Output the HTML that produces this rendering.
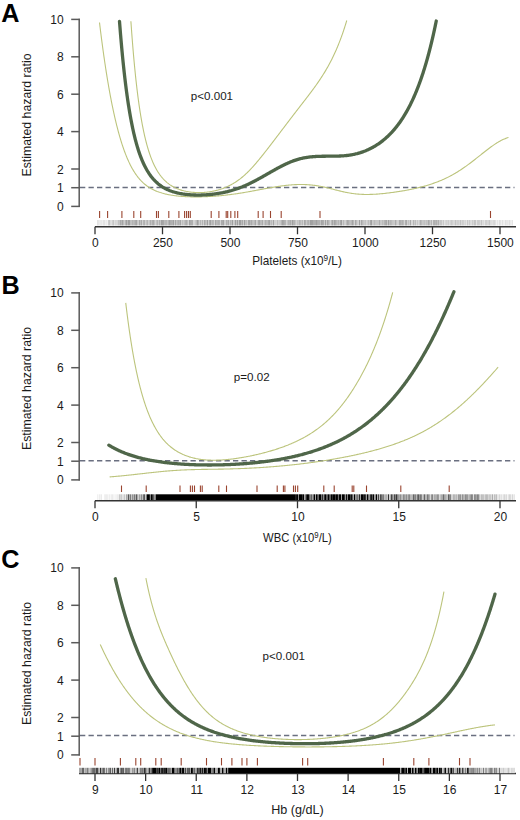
<!DOCTYPE html>
<html><head><meta charset="utf-8"><style>
html,body{margin:0;padding:0;background:#fff;width:520px;height:820px;overflow:hidden}
svg{display:block}
text{font-family:"Liberation Sans",sans-serif;fill:#1a1a1a}
.lt{font-size:25.2px;font-weight:bold;fill:#000}
.tk{font-size:12px}
.yl{font-size:12.3px}
.xl{font-size:12px}
.pt{font-size:11.6px}
.ax{stroke:#333;stroke-width:1.3;fill:none}
.ay{stroke:#5a5a5a;stroke-width:1.5;fill:none}
.rd{stroke:#9a4530;stroke-width:1.1}
.ds{stroke:#6a6f80;stroke-width:1.5;stroke-dasharray:5.3 3.2}
.cu{stroke:#bcc47c;stroke-width:1.1;fill:none}
.ck{stroke:#4f6649;stroke-width:3.3;fill:none;stroke-linecap:round}
</style></head><body>
<svg width="520" height="820" viewBox="0 0 520 820" xmlns="http://www.w3.org/2000/svg">
<text x="0.00" y="21.60" class="lt" transform="translate(1.30,0) scale(1.000,1)">A</text>
<line x1="79.2" y1="18.70" x2="79.2" y2="207.10" class="ay"/>
<line x1="71.2" y1="206.40" x2="79.9" y2="206.40" class="ay"/>
<text x="63.6" y="210.90" class="tk" text-anchor="end">0</text>
<line x1="71.2" y1="187.70" x2="79.9" y2="187.70" class="ay"/>
<text x="63.6" y="192.20" class="tk" text-anchor="end">1</text>
<line x1="71.2" y1="169.00" x2="79.9" y2="169.00" class="ay"/>
<text x="63.6" y="173.50" class="tk" text-anchor="end">2</text>
<line x1="71.2" y1="131.60" x2="79.9" y2="131.60" class="ay"/>
<text x="63.6" y="136.10" class="tk" text-anchor="end">4</text>
<line x1="71.2" y1="94.20" x2="79.9" y2="94.20" class="ay"/>
<text x="63.6" y="98.70" class="tk" text-anchor="end">6</text>
<line x1="71.2" y1="56.80" x2="79.9" y2="56.80" class="ay"/>
<text x="63.6" y="61.30" class="tk" text-anchor="end">8</text>
<line x1="71.2" y1="19.40" x2="79.9" y2="19.40" class="ay"/>
<text x="63.6" y="23.90" class="tk" text-anchor="end">10</text>
<text transform="translate(31,115.00) rotate(-90)" class="yl" text-anchor="middle">Estimated hazard ratio</text>
<line x1="95.00" y1="226.75" x2="516.00" y2="226.75" class="ax"/>
<line x1="95.00" y1="226.75" x2="95.00" y2="234.25" class="ax"/>
<text x="95.40" y="246.95" class="tk" text-anchor="middle">0</text>
<line x1="162.50" y1="226.75" x2="162.50" y2="234.25" class="ax"/>
<text x="162.90" y="246.95" class="tk" text-anchor="middle">250</text>
<line x1="230.00" y1="226.75" x2="230.00" y2="234.25" class="ax"/>
<text x="230.40" y="246.95" class="tk" text-anchor="middle">500</text>
<line x1="297.50" y1="226.75" x2="297.50" y2="234.25" class="ax"/>
<text x="297.90" y="246.95" class="tk" text-anchor="middle">750</text>
<line x1="365.00" y1="226.75" x2="365.00" y2="234.25" class="ax"/>
<text x="365.40" y="246.95" class="tk" text-anchor="middle">1000</text>
<line x1="432.50" y1="226.75" x2="432.50" y2="234.25" class="ax"/>
<text x="432.90" y="246.95" class="tk" text-anchor="middle">1250</text>
<line x1="500.00" y1="226.75" x2="500.00" y2="234.25" class="ax"/>
<text x="500.40" y="246.95" class="tk" text-anchor="middle">1500</text>
<text x="0" y="265.00" class="xl" text-anchor="middle" transform="translate(297.00,0) scale(0.983,1)">Platelets (x10<tspan dy="-3.8" font-size="8.3">9</tspan><tspan dy="3.8">/L)</tspan></text>
<text x="190.80" y="99.70" class="pt">p<0.001</text>
<rect x="97" y="220.00" width="1" height="5.50" fill="#e4e4e4"/>
<rect x="98" y="220.00" width="1" height="5.50" fill="#e7e7e7"/>
<rect x="99" y="220.00" width="1" height="5.50" fill="#ededed"/>
<rect x="100" y="220.00" width="1" height="5.50" fill="#eaeaea"/>
<rect x="101" y="220.00" width="1" height="5.50" fill="#e8e8e8"/>
<rect x="102" y="220.00" width="1" height="5.50" fill="#efefef"/>
<rect x="103" y="220.00" width="1" height="5.50" fill="#e3e3e3"/>
<rect x="104" y="220.00" width="1" height="5.50" fill="#e3e3e3"/>
<rect x="105" y="220.00" width="1" height="5.50" fill="#efefef"/>
<rect x="106" y="220.00" width="1" height="5.50" fill="#ebebeb"/>
<rect x="107" y="220.00" width="1" height="5.50" fill="#f1f1f1"/>
<rect x="108" y="220.00" width="1" height="5.50" fill="#cccccc"/>
<rect x="109" y="220.00" width="1" height="5.50" fill="#c6c6c6"/>
<rect x="110" y="220.00" width="1" height="5.50" fill="#dddddd"/>
<rect x="111" y="220.00" width="1" height="5.50" fill="#e1e1e1"/>
<rect x="112" y="220.00" width="1" height="5.50" fill="#d0d0d0"/>
<rect x="113" y="220.00" width="1" height="5.50" fill="#c6c6c6"/>
<rect x="114" y="220.00" width="1" height="5.50" fill="#e1e1e1"/>
<rect x="115" y="220.00" width="1" height="5.50" fill="#d6d6d6"/>
<rect x="116" y="220.00" width="1" height="5.50" fill="#d9d9d9"/>
<rect x="117" y="220.00" width="1" height="5.50" fill="#d6d6d6"/>
<rect x="118" y="220.00" width="1" height="5.50" fill="#c2c2c2"/>
<rect x="119" y="220.00" width="1" height="5.50" fill="#c5c5c5"/>
<rect x="120" y="220.00" width="1" height="5.50" fill="#aaaaaa"/>
<rect x="121" y="220.00" width="1" height="5.50" fill="#b8b8b8"/>
<rect x="122" y="220.00" width="1" height="5.50" fill="#a4a4a4"/>
<rect x="123" y="220.00" width="1" height="5.50" fill="#bdbdbd"/>
<rect x="124" y="220.00" width="1" height="5.50" fill="#cdcdcd"/>
<rect x="125" y="220.00" width="1" height="5.50" fill="#b6b6b6"/>
<rect x="126" y="220.00" width="1" height="5.50" fill="#a0a0a0"/>
<rect x="127" y="220.00" width="1" height="5.50" fill="#bbbbbb"/>
<rect x="128" y="220.00" width="1" height="5.50" fill="#a0a0a0"/>
<rect x="129" y="220.00" width="1" height="5.50" fill="#a2a2a2"/>
<rect x="130" y="220.00" width="1" height="5.50" fill="#c0c0c0"/>
<rect x="131" y="220.00" width="1" height="5.50" fill="#c2c2c2"/>
<rect x="132" y="220.00" width="1" height="5.50" fill="#b3b3b3"/>
<rect x="133" y="220.00" width="1" height="5.50" fill="#bcbcbc"/>
<rect x="134" y="220.00" width="1" height="5.50" fill="#b7b7b7"/>
<rect x="135" y="220.00" width="1" height="5.50" fill="#acacac"/>
<rect x="136" y="220.00" width="1" height="5.50" fill="#a6a6a6"/>
<rect x="137" y="220.00" width="1" height="5.50" fill="#c7c7c7"/>
<rect x="138" y="220.00" width="1" height="5.50" fill="#cfcfcf"/>
<rect x="139" y="220.00" width="1" height="5.50" fill="#aaaaaa"/>
<rect x="140" y="220.00" width="1" height="5.50" fill="#bfbfbf"/>
<rect x="141" y="220.00" width="1" height="5.50" fill="#a9a9a9"/>
<rect x="142" y="220.00" width="1" height="5.50" fill="#d1d1d1"/>
<rect x="143" y="220.00" width="1" height="5.50" fill="#b5b5b5"/>
<rect x="144" y="220.00" width="1" height="5.50" fill="#b1b1b1"/>
<rect x="145" y="220.00" width="1" height="5.50" fill="#cfcfcf"/>
<rect x="146" y="220.00" width="1" height="5.50" fill="#c1c1c1"/>
<rect x="147" y="220.00" width="1" height="5.50" fill="#b5b5b5"/>
<rect x="148" y="220.00" width="1" height="5.50" fill="#d0d0d0"/>
<rect x="149" y="220.00" width="1" height="5.50" fill="#c6c6c6"/>
<rect x="150" y="220.00" width="1" height="5.50" fill="#afafaf"/>
<rect x="151" y="220.00" width="1" height="5.50" fill="#c3c3c3"/>
<rect x="152" y="220.00" width="1" height="5.50" fill="#b0b0b0"/>
<rect x="153" y="220.00" width="1" height="5.50" fill="#acacac"/>
<rect x="154" y="220.00" width="1" height="5.50" fill="#c1c1c1"/>
<rect x="155" y="220.00" width="1" height="5.50" fill="#d4d4d4"/>
<rect x="156" y="220.00" width="1" height="5.50" fill="#c2c2c2"/>
<rect x="157" y="220.00" width="1" height="5.50" fill="#b4b4b4"/>
<rect x="158" y="220.00" width="1" height="5.50" fill="#cdcdcd"/>
<rect x="159" y="220.00" width="1" height="5.50" fill="#b1b1b1"/>
<rect x="160" y="220.00" width="1" height="5.50" fill="#c5c5c5"/>
<rect x="161" y="220.00" width="1" height="5.50" fill="#a1a1a1"/>
<rect x="162" y="220.00" width="1" height="5.50" fill="#a4a4a4"/>
<rect x="163" y="220.00" width="1" height="5.50" fill="#a8a8a8"/>
<rect x="164" y="220.00" width="1" height="5.50" fill="#bbbbbb"/>
<rect x="165" y="220.00" width="1" height="5.50" fill="#b6b6b6"/>
<rect x="166" y="220.00" width="1" height="5.50" fill="#b5b5b5"/>
<rect x="167" y="220.00" width="1" height="5.50" fill="#c5c5c5"/>
<rect x="168" y="220.00" width="1" height="5.50" fill="#b4b4b4"/>
<rect x="169" y="220.00" width="1" height="5.50" fill="#a1a1a1"/>
<rect x="170" y="220.00" width="1" height="5.50" fill="#adadad"/>
<rect x="171" y="220.00" width="1" height="5.50" fill="#b0b0b0"/>
<rect x="172" y="220.00" width="1" height="5.50" fill="#b2b2b2"/>
<rect x="173" y="220.00" width="1" height="5.50" fill="#a1a1a1"/>
<rect x="174" y="220.00" width="1" height="5.50" fill="#cacaca"/>
<rect x="175" y="220.00" width="1" height="5.50" fill="#a7a7a7"/>
<rect x="176" y="220.00" width="1" height="5.50" fill="#c4c4c4"/>
<rect x="177" y="220.00" width="1" height="5.50" fill="#b8b8b8"/>
<rect x="178" y="220.00" width="1" height="5.50" fill="#afafaf"/>
<rect x="179" y="220.00" width="1" height="5.50" fill="#b7b7b7"/>
<rect x="180" y="220.00" width="1" height="5.50" fill="#a6a6a6"/>
<rect x="181" y="220.00" width="1" height="5.50" fill="#d1d1d1"/>
<rect x="182" y="220.00" width="1" height="5.50" fill="#bebebe"/>
<rect x="183" y="220.00" width="1" height="5.50" fill="#cbcbcb"/>
<rect x="184" y="220.00" width="1" height="5.50" fill="#c0c0c0"/>
<rect x="185" y="220.00" width="1" height="5.50" fill="#b3b3b3"/>
<rect x="186" y="220.00" width="1" height="5.50" fill="#adadad"/>
<rect x="187" y="220.00" width="1" height="5.50" fill="#bebebe"/>
<rect x="188" y="220.00" width="1" height="5.50" fill="#d5d5d5"/>
<rect x="189" y="220.00" width="1" height="5.50" fill="#a2a2a2"/>
<rect x="190" y="220.00" width="1" height="5.50" fill="#acacac"/>
<rect x="191" y="220.00" width="1" height="5.50" fill="#aeaeae"/>
<rect x="192" y="220.00" width="1" height="5.50" fill="#aeaeae"/>
<rect x="193" y="220.00" width="1" height="5.50" fill="#d4d4d4"/>
<rect x="194" y="220.00" width="1" height="5.50" fill="#d4d4d4"/>
<rect x="195" y="220.00" width="1" height="5.50" fill="#c7c7c7"/>
<rect x="196" y="220.00" width="1" height="5.50" fill="#bbbbbb"/>
<rect x="197" y="220.00" width="1" height="5.50" fill="#a0a0a0"/>
<rect x="198" y="220.00" width="1" height="5.50" fill="#b3b3b3"/>
<rect x="199" y="220.00" width="1" height="5.50" fill="#cecece"/>
<rect x="200" y="220.00" width="1" height="5.50" fill="#b7b7b7"/>
<rect x="201" y="220.00" width="1" height="5.50" fill="#d0d0d0"/>
<rect x="202" y="220.00" width="1" height="5.50" fill="#b4b4b4"/>
<rect x="203" y="220.00" width="1" height="5.50" fill="#d2d2d2"/>
<rect x="204" y="220.00" width="1" height="5.50" fill="#ababab"/>
<rect x="205" y="220.00" width="1" height="5.50" fill="#bbbbbb"/>
<rect x="206" y="220.00" width="1" height="5.50" fill="#c4c4c4"/>
<rect x="207" y="220.00" width="1" height="5.50" fill="#a0a0a0"/>
<rect x="208" y="220.00" width="1" height="5.50" fill="#d2d2d2"/>
<rect x="209" y="220.00" width="1" height="5.50" fill="#b0b0b0"/>
<rect x="210" y="220.00" width="1" height="5.50" fill="#a2a2a2"/>
<rect x="211" y="220.00" width="1" height="5.50" fill="#c0c0c0"/>
<rect x="212" y="220.00" width="1" height="5.50" fill="#b5b5b5"/>
<rect x="213" y="220.00" width="1" height="5.50" fill="#b9b9b9"/>
<rect x="214" y="220.00" width="1" height="5.50" fill="#d4d4d4"/>
<rect x="215" y="220.00" width="1" height="5.50" fill="#a8a8a8"/>
<rect x="216" y="220.00" width="1" height="5.50" fill="#bababa"/>
<rect x="217" y="220.00" width="1" height="5.50" fill="#b7b7b7"/>
<rect x="218" y="220.00" width="1" height="5.50" fill="#b1b1b1"/>
<rect x="219" y="220.00" width="1" height="5.50" fill="#b4b4b4"/>
<rect x="220" y="220.00" width="1" height="5.50" fill="#d3d3d3"/>
<rect x="221" y="220.00" width="1" height="5.50" fill="#ababab"/>
<rect x="222" y="220.00" width="1" height="5.50" fill="#acacac"/>
<rect x="223" y="220.00" width="1" height="5.50" fill="#a4a4a4"/>
<rect x="224" y="220.00" width="1" height="5.50" fill="#cdcdcd"/>
<rect x="225" y="220.00" width="1" height="5.50" fill="#cfcfcf"/>
<rect x="226" y="220.00" width="1" height="5.50" fill="#afafaf"/>
<rect x="227" y="220.00" width="1" height="5.50" fill="#bbbbbb"/>
<rect x="228" y="220.00" width="1" height="5.50" fill="#a9a9a9"/>
<rect x="229" y="220.00" width="1" height="5.50" fill="#d0d0d0"/>
<rect x="230" y="220.00" width="1" height="5.50" fill="#b5b5b5"/>
<rect x="231" y="220.00" width="1" height="5.50" fill="#c2c2c2"/>
<rect x="232" y="220.00" width="1" height="5.50" fill="#9f9f9f"/>
<rect x="233" y="220.00" width="1" height="5.50" fill="#cecece"/>
<rect x="234" y="220.00" width="1" height="5.50" fill="#c7c7c7"/>
<rect x="235" y="220.00" width="1" height="5.50" fill="#a0a0a0"/>
<rect x="236" y="220.00" width="1" height="5.50" fill="#c2c2c2"/>
<rect x="237" y="220.00" width="1" height="5.50" fill="#9f9f9f"/>
<rect x="238" y="220.00" width="1" height="5.50" fill="#c9c9c9"/>
<rect x="239" y="220.00" width="1" height="5.50" fill="#9f9f9f"/>
<rect x="240" y="220.00" width="1" height="5.50" fill="#a0a0a0"/>
<rect x="241" y="220.00" width="1" height="5.50" fill="#bbbbbb"/>
<rect x="242" y="220.00" width="1" height="5.50" fill="#a9a9a9"/>
<rect x="243" y="220.00" width="1" height="5.50" fill="#cccccc"/>
<rect x="244" y="220.00" width="1" height="5.50" fill="#a0a0a0"/>
<rect x="245" y="220.00" width="1" height="5.50" fill="#c1c1c1"/>
<rect x="246" y="220.00" width="1" height="5.50" fill="#bdbdbd"/>
<rect x="247" y="220.00" width="1" height="5.50" fill="#d0d0d0"/>
<rect x="248" y="220.00" width="1" height="5.50" fill="#a8a8a8"/>
<rect x="249" y="220.00" width="1" height="5.50" fill="#a7a7a7"/>
<rect x="250" y="220.00" width="1" height="5.50" fill="#b9b9b9"/>
<rect x="251" y="220.00" width="1" height="5.50" fill="#ababab"/>
<rect x="252" y="220.00" width="1" height="5.50" fill="#bebebe"/>
<rect x="253" y="220.00" width="1" height="5.50" fill="#c3c3c3"/>
<rect x="254" y="220.00" width="1" height="5.50" fill="#bababa"/>
<rect x="255" y="220.00" width="1" height="5.50" fill="#a7a7a7"/>
<rect x="256" y="220.00" width="1" height="5.50" fill="#d2d2d2"/>
<rect x="257" y="220.00" width="1" height="5.50" fill="#c9c9c9"/>
<rect x="258" y="220.00" width="1" height="5.50" fill="#acacac"/>
<rect x="259" y="220.00" width="1" height="5.50" fill="#a7a7a7"/>
<rect x="260" y="220.00" width="1" height="5.50" fill="#bbbbbb"/>
<rect x="261" y="220.00" width="1" height="5.50" fill="#bcbcbc"/>
<rect x="262" y="220.00" width="1" height="5.50" fill="#aaaaaa"/>
<rect x="263" y="220.00" width="1" height="5.50" fill="#cecece"/>
<rect x="264" y="220.00" width="1" height="5.50" fill="#c4c4c4"/>
<rect x="265" y="220.00" width="1" height="5.50" fill="#b0b0b0"/>
<rect x="266" y="220.00" width="1" height="5.50" fill="#bbbbbb"/>
<rect x="267" y="220.00" width="1" height="5.50" fill="#bdbdbd"/>
<rect x="268" y="220.00" width="1" height="5.50" fill="#ababab"/>
<rect x="269" y="220.00" width="1" height="5.50" fill="#a4a4a4"/>
<rect x="270" y="220.00" width="1" height="5.50" fill="#c6c6c6"/>
<rect x="271" y="220.00" width="1" height="5.50" fill="#bababa"/>
<rect x="272" y="220.00" width="1" height="5.50" fill="#cdcdcd"/>
<rect x="273" y="220.00" width="1" height="5.50" fill="#a5a5a5"/>
<rect x="274" y="220.00" width="1" height="5.50" fill="#d1d1d1"/>
<rect x="275" y="220.00" width="1" height="5.50" fill="#d1d1d1"/>
<rect x="276" y="220.00" width="1" height="5.50" fill="#d5d5d5"/>
<rect x="277" y="220.00" width="1" height="5.50" fill="#bebebe"/>
<rect x="278" y="220.00" width="1" height="5.50" fill="#d2d2d2"/>
<rect x="279" y="220.00" width="1" height="5.50" fill="#cbcbcb"/>
<rect x="280" y="220.00" width="1" height="5.50" fill="#c8c8c8"/>
<rect x="281" y="220.00" width="1" height="5.50" fill="#b5b5b5"/>
<rect x="282" y="220.00" width="1" height="5.50" fill="#a3a3a3"/>
<rect x="283" y="220.00" width="1" height="5.50" fill="#a8a8a8"/>
<rect x="284" y="220.00" width="1" height="5.50" fill="#b0b0b0"/>
<rect x="285" y="220.00" width="1" height="5.50" fill="#b4b4b4"/>
<rect x="286" y="220.00" width="1" height="5.50" fill="#d3d3d3"/>
<rect x="287" y="220.00" width="1" height="5.50" fill="#c4c4c4"/>
<rect x="288" y="220.00" width="1" height="5.50" fill="#b3b3b3"/>
<rect x="289" y="220.00" width="1" height="5.50" fill="#b6b6b6"/>
<rect x="290" y="220.00" width="1" height="5.50" fill="#ababab"/>
<rect x="291" y="220.00" width="1" height="5.50" fill="#c1c1c1"/>
<rect x="292" y="220.00" width="1" height="5.50" fill="#9f9f9f"/>
<rect x="293" y="220.00" width="1" height="5.50" fill="#b3b3b3"/>
<rect x="294" y="220.00" width="1" height="5.50" fill="#b2b2b2"/>
<rect x="295" y="220.00" width="1" height="5.50" fill="#c4c4c4"/>
<rect x="296" y="220.00" width="1" height="5.50" fill="#d3d3d3"/>
<rect x="297" y="220.00" width="1" height="5.50" fill="#c2c2c2"/>
<rect x="298" y="220.00" width="1" height="5.50" fill="#c9c9c9"/>
<rect x="299" y="220.00" width="1" height="5.50" fill="#b3b3b3"/>
<rect x="300" y="220.00" width="1" height="5.50" fill="#bbbbbb"/>
<rect x="301" y="220.00" width="1" height="5.50" fill="#c7c7c7"/>
<rect x="302" y="220.00" width="1" height="5.50" fill="#b7b7b7"/>
<rect x="303" y="220.00" width="1" height="5.50" fill="#d3d3d3"/>
<rect x="304" y="220.00" width="1" height="5.50" fill="#a8a8a8"/>
<rect x="305" y="220.00" width="1" height="5.50" fill="#b1b1b1"/>
<rect x="306" y="220.00" width="1" height="5.50" fill="#c8c8c8"/>
<rect x="307" y="220.00" width="1" height="5.50" fill="#b6b6b6"/>
<rect x="308" y="220.00" width="1" height="5.50" fill="#b1b1b1"/>
<rect x="309" y="220.00" width="1" height="5.50" fill="#c0c0c0"/>
<rect x="310" y="220.00" width="1" height="5.50" fill="#9f9f9f"/>
<rect x="311" y="220.00" width="1" height="5.50" fill="#a1a1a1"/>
<rect x="312" y="220.00" width="1" height="5.50" fill="#a2a2a2"/>
<rect x="313" y="220.00" width="1" height="5.50" fill="#aeaeae"/>
<rect x="314" y="220.00" width="1" height="5.50" fill="#afafaf"/>
<rect x="315" y="220.00" width="1" height="5.50" fill="#adadad"/>
<rect x="316" y="220.00" width="1" height="5.50" fill="#a0a0a0"/>
<rect x="317" y="220.00" width="1" height="5.50" fill="#afafaf"/>
<rect x="318" y="220.00" width="1" height="5.50" fill="#b2b2b2"/>
<rect x="319" y="220.00" width="1" height="5.50" fill="#b1b1b1"/>
<rect x="320" y="220.00" width="1" height="5.50" fill="#c2c2c2"/>
<rect x="321" y="220.00" width="1" height="5.50" fill="#a5a5a5"/>
<rect x="322" y="220.00" width="1" height="5.50" fill="#a9a9a9"/>
<rect x="323" y="220.00" width="1" height="5.50" fill="#aeaeae"/>
<rect x="324" y="220.00" width="1" height="5.50" fill="#cccccc"/>
<rect x="325" y="220.00" width="1" height="5.50" fill="#a2a2a2"/>
<rect x="326" y="220.00" width="1" height="5.50" fill="#cccccc"/>
<rect x="327" y="220.00" width="1" height="5.50" fill="#a5a5a5"/>
<rect x="328" y="220.00" width="1" height="5.50" fill="#b4b4b4"/>
<rect x="329" y="220.00" width="1" height="5.50" fill="#c3c3c3"/>
<rect x="330" y="220.00" width="1" height="5.50" fill="#d3d3d3"/>
<rect x="331" y="220.00" width="1" height="5.50" fill="#b8b8b8"/>
<rect x="332" y="220.00" width="1" height="5.50" fill="#a4a4a4"/>
<rect x="333" y="220.00" width="1" height="5.50" fill="#bdbdbd"/>
<rect x="334" y="220.00" width="1" height="5.50" fill="#a3a3a3"/>
<rect x="335" y="220.00" width="1" height="5.50" fill="#acacac"/>
<rect x="336" y="220.00" width="1" height="5.50" fill="#b8b8b8"/>
<rect x="337" y="220.00" width="1" height="5.50" fill="#c1c1c1"/>
<rect x="338" y="220.00" width="1" height="5.50" fill="#b4b4b4"/>
<rect x="339" y="220.00" width="1" height="5.50" fill="#c5c5c5"/>
<rect x="340" y="220.00" width="1" height="5.50" fill="#aaaaaa"/>
<rect x="341" y="220.00" width="1" height="5.50" fill="#9f9f9f"/>
<rect x="342" y="220.00" width="1" height="5.50" fill="#d0d0d0"/>
<rect x="343" y="220.00" width="1" height="5.50" fill="#b9b9b9"/>
<rect x="344" y="220.00" width="1" height="5.50" fill="#cfcfcf"/>
<rect x="345" y="220.00" width="1" height="5.50" fill="#d1d1d1"/>
<rect x="346" y="220.00" width="1" height="5.50" fill="#bcbcbc"/>
<rect x="347" y="220.00" width="1" height="5.50" fill="#aaaaaa"/>
<rect x="348" y="220.00" width="1" height="5.50" fill="#b0b0b0"/>
<rect x="349" y="220.00" width="1" height="5.50" fill="#bebebe"/>
<rect x="350" y="220.00" width="1" height="5.50" fill="#c2c2c2"/>
<rect x="351" y="220.00" width="1" height="5.50" fill="#b9b9b9"/>
<rect x="352" y="220.00" width="1" height="5.50" fill="#a5a5a5"/>
<rect x="353" y="220.00" width="1" height="5.50" fill="#b9b9b9"/>
<rect x="354" y="220.00" width="1" height="5.50" fill="#d4d4d4"/>
<rect x="355" y="220.00" width="1" height="5.50" fill="#a9a9a9"/>
<rect x="356" y="220.00" width="1" height="5.50" fill="#bdbdbd"/>
<rect x="357" y="220.00" width="1" height="5.50" fill="#cfcfcf"/>
<rect x="358" y="220.00" width="1" height="5.50" fill="#d4d4d4"/>
<rect x="359" y="220.00" width="1" height="5.50" fill="#a1a1a1"/>
<rect x="360" y="220.00" width="1" height="5.50" fill="#d0d0d0"/>
<rect x="361" y="220.00" width="1" height="5.50" fill="#a7a7a7"/>
<rect x="362" y="220.00" width="1" height="5.50" fill="#b9b9b9"/>
<rect x="363" y="220.00" width="1" height="5.50" fill="#c4c4c4"/>
<rect x="364" y="220.00" width="1" height="5.50" fill="#c9c9c9"/>
<rect x="365" y="220.00" width="1" height="5.50" fill="#c1c1c1"/>
<rect x="366" y="220.00" width="1" height="5.50" fill="#d5d5d5"/>
<rect x="367" y="220.00" width="1" height="5.50" fill="#cccccc"/>
<rect x="368" y="220.00" width="1" height="5.50" fill="#bcbcbc"/>
<rect x="369" y="220.00" width="1" height="5.50" fill="#cbcbcb"/>
<rect x="370" y="220.00" width="1" height="5.50" fill="#a8a8a8"/>
<rect x="371" y="220.00" width="1" height="5.50" fill="#a0a0a0"/>
<rect x="372" y="220.00" width="1" height="5.50" fill="#cccccc"/>
<rect x="373" y="220.00" width="1" height="5.50" fill="#c6c6c6"/>
<rect x="374" y="220.00" width="1" height="5.50" fill="#bababa"/>
<rect x="375" y="220.00" width="1" height="5.50" fill="#c5c5c5"/>
<rect x="376" y="220.00" width="1" height="5.50" fill="#c7c7c7"/>
<rect x="377" y="220.00" width="1" height="5.50" fill="#c7c7c7"/>
<rect x="378" y="220.00" width="1" height="5.50" fill="#c7c7c7"/>
<rect x="379" y="220.00" width="1" height="5.50" fill="#aeaeae"/>
<rect x="380" y="220.00" width="1" height="5.50" fill="#c8c8c8"/>
<rect x="381" y="220.00" width="1" height="5.50" fill="#cacaca"/>
<rect x="382" y="220.00" width="1" height="5.50" fill="#bbbbbb"/>
<rect x="383" y="220.00" width="1" height="5.50" fill="#c5c5c5"/>
<rect x="384" y="220.00" width="1" height="5.50" fill="#b5b5b5"/>
<rect x="385" y="220.00" width="1" height="5.50" fill="#aeaeae"/>
<rect x="386" y="220.00" width="1" height="5.50" fill="#a8a8a8"/>
<rect x="387" y="220.00" width="1" height="5.50" fill="#cacaca"/>
<rect x="388" y="220.00" width="1" height="5.50" fill="#a2a2a2"/>
<rect x="389" y="220.00" width="1" height="5.50" fill="#c0c0c0"/>
<rect x="390" y="220.00" width="1" height="5.50" fill="#b5b5b5"/>
<rect x="391" y="220.00" width="1" height="5.50" fill="#bbbbbb"/>
<rect x="392" y="220.00" width="1" height="5.50" fill="#c5c5c5"/>
<rect x="393" y="220.00" width="1" height="5.50" fill="#c8c8c8"/>
<rect x="394" y="220.00" width="1" height="5.50" fill="#cacaca"/>
<rect x="395" y="220.00" width="1" height="5.50" fill="#acacac"/>
<rect x="396" y="220.00" width="1" height="5.50" fill="#c5c5c5"/>
<rect x="397" y="220.00" width="1" height="5.50" fill="#d2d2d2"/>
<rect x="398" y="220.00" width="1" height="5.50" fill="#cfcfcf"/>
<rect x="399" y="220.00" width="1" height="5.50" fill="#acacac"/>
<rect x="400" y="220.00" width="1" height="5.50" fill="#b0b0b0"/>
<rect x="401" y="220.00" width="1" height="5.50" fill="#b9b9b9"/>
<rect x="402" y="220.00" width="1" height="5.50" fill="#b1b1b1"/>
<rect x="403" y="220.00" width="1" height="5.50" fill="#bcbcbc"/>
<rect x="404" y="220.00" width="1" height="5.50" fill="#d5d5d5"/>
<rect x="405" y="220.00" width="1" height="5.50" fill="#b1b1b1"/>
<rect x="406" y="220.00" width="1" height="5.50" fill="#ababab"/>
<rect x="407" y="220.00" width="1" height="5.50" fill="#d2d2d2"/>
<rect x="408" y="220.00" width="1" height="5.50" fill="#c2c2c2"/>
<rect x="409" y="220.00" width="1" height="5.50" fill="#d0d0d0"/>
<rect x="410" y="220.00" width="1" height="5.50" fill="#aaaaaa"/>
<rect x="411" y="220.00" width="1" height="5.50" fill="#d8d8d8"/>
<rect x="412" y="220.00" width="1" height="5.50" fill="#d8d8d8"/>
<rect x="413" y="220.00" width="1" height="5.50" fill="#b6b6b6"/>
<rect x="414" y="220.00" width="1" height="5.50" fill="#cccccc"/>
<rect x="415" y="220.00" width="1" height="5.50" fill="#bdbdbd"/>
<rect x="416" y="220.00" width="1" height="5.50" fill="#d8d8d8"/>
<rect x="417" y="220.00" width="1" height="5.50" fill="#c7c7c7"/>
<rect x="418" y="220.00" width="1" height="5.50" fill="#d8d8d8"/>
<rect x="419" y="220.00" width="1" height="5.50" fill="#cacaca"/>
<rect x="420" y="220.00" width="1" height="5.50" fill="#b1b1b1"/>
<rect x="421" y="220.00" width="1" height="5.50" fill="#bdbdbd"/>
<rect x="422" y="220.00" width="1" height="5.50" fill="#cacaca"/>
<rect x="423" y="220.00" width="1" height="5.50" fill="#c7c7c7"/>
<rect x="424" y="220.00" width="1" height="5.50" fill="#c2c2c2"/>
<rect x="425" y="220.00" width="1" height="5.50" fill="#cccccc"/>
<rect x="426" y="220.00" width="1" height="5.50" fill="#c2c2c2"/>
<rect x="427" y="220.00" width="1" height="5.50" fill="#c7c7c7"/>
<rect x="428" y="220.00" width="1" height="5.50" fill="#acacac"/>
<rect x="429" y="220.00" width="1" height="5.50" fill="#bbbbbb"/>
<rect x="430" y="220.00" width="1" height="5.50" fill="#cbcbcb"/>
<rect x="431" y="220.00" width="1" height="5.50" fill="#b4b4b4"/>
<rect x="432" y="220.00" width="1" height="5.50" fill="#dadada"/>
<rect x="433" y="220.00" width="1" height="5.50" fill="#b2b2b2"/>
<rect x="434" y="220.00" width="1" height="5.50" fill="#b0b0b0"/>
<rect x="435" y="220.00" width="1" height="5.50" fill="#b8b8b8"/>
<rect x="436" y="220.00" width="1" height="5.50" fill="#b0b0b0"/>
<rect x="437" y="220.00" width="1" height="5.50" fill="#c2c2c2"/>
<rect x="438" y="220.00" width="1" height="5.50" fill="#b0b0b0"/>
<rect x="439" y="220.00" width="1" height="5.50" fill="#cecece"/>
<rect x="440" y="220.00" width="1" height="5.50" fill="#c6c6c6"/>
<rect x="441" y="220.00" width="1" height="5.50" fill="#c7c7c7"/>
<rect x="442" y="220.00" width="1" height="5.50" fill="#dbdbdb"/>
<rect x="443" y="220.00" width="1" height="5.50" fill="#cacaca"/>
<rect x="444" y="220.00" width="1" height="5.50" fill="#e3e3e3"/>
<rect x="445" y="220.00" width="1" height="5.50" fill="#d8d8d8"/>
<rect x="446" y="220.00" width="1" height="5.50" fill="#d2d2d2"/>
<rect x="447" y="220.00" width="1" height="5.50" fill="#d7d7d7"/>
<rect x="448" y="220.00" width="1" height="5.50" fill="#cdcdcd"/>
<rect x="449" y="220.00" width="1" height="5.50" fill="#dddddd"/>
<rect x="450" y="220.00" width="1" height="5.50" fill="#d3d3d3"/>
<rect x="451" y="220.00" width="1" height="5.50" fill="#c9c9c9"/>
<rect x="452" y="220.00" width="1" height="5.50" fill="#d0d0d0"/>
<rect x="453" y="220.00" width="1" height="5.50" fill="#d9d9d9"/>
<rect x="454" y="220.00" width="1" height="5.50" fill="#d8d8d8"/>
<rect x="455" y="220.00" width="1" height="5.50" fill="#c3c3c3"/>
<rect x="456" y="220.00" width="1" height="5.50" fill="#d6d6d6"/>
<rect x="457" y="220.00" width="1" height="5.50" fill="#cfcfcf"/>
<rect x="458" y="220.00" width="1" height="5.50" fill="#d0d0d0"/>
<rect x="459" y="220.00" width="1" height="5.50" fill="#d8d8d8"/>
<rect x="460" y="220.00" width="1" height="5.50" fill="#c3c3c3"/>
<rect x="461" y="220.00" width="1" height="5.50" fill="#d9d9d9"/>
<rect x="462" y="220.00" width="1" height="5.50" fill="#cecece"/>
<rect x="463" y="220.00" width="1" height="5.50" fill="#d1d1d1"/>
<rect x="464" y="220.00" width="1" height="5.50" fill="#dcdcdc"/>
<rect x="465" y="220.00" width="1" height="5.50" fill="#d6d6d6"/>
<rect x="466" y="220.00" width="1" height="5.50" fill="#e4e4e4"/>
<rect x="467" y="220.00" width="1" height="5.50" fill="#c8c8c8"/>
<rect x="468" y="220.00" width="1" height="5.50" fill="#dcdcdc"/>
<rect x="469" y="220.00" width="1" height="5.50" fill="#cbcbcb"/>
<rect x="470" y="220.00" width="1" height="5.50" fill="#dbdbdb"/>
<rect x="471" y="220.00" width="1" height="5.50" fill="#dedede"/>
<rect x="472" y="220.00" width="1" height="5.50" fill="#cccccc"/>
<rect x="473" y="220.00" width="1" height="5.50" fill="#d7d7d7"/>
<rect x="474" y="220.00" width="1" height="5.50" fill="#c4c4c4"/>
<rect x="475" y="220.00" width="1" height="5.50" fill="#c6c6c6"/>
<rect x="476" y="220.00" width="1" height="5.50" fill="#e3e3e3"/>
<rect x="477" y="220.00" width="1" height="5.50" fill="#cdcdcd"/>
<rect x="478" y="220.00" width="1" height="5.50" fill="#cccccc"/>
<rect x="479" y="220.00" width="1" height="5.50" fill="#cfcfcf"/>
<rect x="480" y="220.00" width="1" height="5.50" fill="#dadada"/>
<rect x="481" y="220.00" width="1" height="5.50" fill="#c5c5c5"/>
<rect x="482" y="220.00" width="1" height="5.50" fill="#dddddd"/>
<rect x="483" y="220.00" width="1" height="5.50" fill="#d9d9d9"/>
<rect x="484" y="220.00" width="1" height="5.50" fill="#e5e5e5"/>
<rect x="485" y="220.00" width="1" height="5.50" fill="#d0d0d0"/>
<rect x="486" y="220.00" width="1" height="5.50" fill="#cfcfcf"/>
<rect x="487" y="220.00" width="1" height="5.50" fill="#d8d8d8"/>
<rect x="488" y="220.00" width="1" height="5.50" fill="#d5d5d5"/>
<rect x="489" y="220.00" width="1" height="5.50" fill="#c7c7c7"/>
<rect x="490" y="220.00" width="1" height="5.50" fill="#dcdcdc"/>
<rect x="491" y="220.00" width="1" height="5.50" fill="#dedede"/>
<rect x="492" y="220.00" width="1" height="5.50" fill="#e1e1e1"/>
<rect x="493" y="220.00" width="1" height="5.50" fill="#d9d9d9"/>
<rect x="494" y="220.00" width="1" height="5.50" fill="#d7d7d7"/>
<rect x="495" y="220.00" width="1" height="5.50" fill="#e1e1e1"/>
<rect x="496" y="220.00" width="1" height="5.50" fill="#f1f1f1"/>
<rect x="497" y="220.00" width="1" height="5.50" fill="#e6e6e6"/>
<rect x="498" y="220.00" width="1" height="5.50" fill="#f1f1f1"/>
<rect x="499" y="220.00" width="1" height="5.50" fill="#e0e0e0"/>
<rect x="500" y="220.00" width="1" height="5.50" fill="#e4e4e4"/>
<rect x="501" y="220.00" width="1" height="5.50" fill="#f0f0f0"/>
<rect x="502" y="220.00" width="1" height="5.50" fill="#e1e1e1"/>
<rect x="503" y="220.00" width="1" height="5.50" fill="#eeeeee"/>
<rect x="504" y="220.00" width="1" height="5.50" fill="#f0f0f0"/>
<rect x="505" y="220.00" width="1" height="5.50" fill="#e0e0e0"/>
<rect x="506" y="220.00" width="1" height="5.50" fill="#e7e7e7"/>
<rect x="507" y="220.00" width="1" height="5.50" fill="#e6e6e6"/>
<rect x="508" y="220.00" width="1" height="5.50" fill="#ebebeb"/>
<rect x="509" y="220.00" width="1" height="5.50" fill="#dfdfdf"/>
<rect x="510" y="220.00" width="1" height="5.50" fill="#ececec"/>
<rect x="511" y="220.00" width="1" height="5.50" fill="#f0f0f0"/>
<rect x="512" y="220.00" width="1" height="5.50" fill="#e4e4e4"/>
<line x1="99.60" y1="211.00" x2="99.60" y2="218.00" class="rd"/>
<line x1="107.60" y1="211.00" x2="107.60" y2="218.00" class="rd"/>
<line x1="121.90" y1="211.00" x2="121.90" y2="218.00" class="rd"/>
<line x1="133.80" y1="211.00" x2="133.80" y2="218.00" class="rd"/>
<line x1="140.70" y1="211.00" x2="140.70" y2="218.00" class="rd"/>
<line x1="156.50" y1="211.00" x2="156.50" y2="218.00" class="rd"/>
<line x1="158.40" y1="211.00" x2="158.40" y2="218.00" class="rd"/>
<line x1="168.80" y1="211.00" x2="168.80" y2="218.00" class="rd"/>
<line x1="178.90" y1="211.00" x2="178.90" y2="218.00" class="rd"/>
<line x1="184.60" y1="211.00" x2="184.60" y2="218.00" class="rd"/>
<line x1="186.60" y1="211.00" x2="186.60" y2="218.00" class="rd"/>
<line x1="188.50" y1="211.00" x2="188.50" y2="218.00" class="rd"/>
<line x1="190.30" y1="211.00" x2="190.30" y2="218.00" class="rd"/>
<line x1="211.20" y1="211.00" x2="211.20" y2="218.00" class="rd"/>
<line x1="218.90" y1="211.00" x2="218.90" y2="218.00" class="rd"/>
<line x1="226.20" y1="211.00" x2="226.20" y2="218.00" class="rd"/>
<line x1="227.70" y1="211.00" x2="227.70" y2="218.00" class="rd"/>
<line x1="230.80" y1="211.00" x2="230.80" y2="218.00" class="rd"/>
<line x1="234.90" y1="211.00" x2="234.90" y2="218.00" class="rd"/>
<line x1="237.70" y1="211.00" x2="237.70" y2="218.00" class="rd"/>
<line x1="258.20" y1="211.00" x2="258.20" y2="218.00" class="rd"/>
<line x1="263.10" y1="211.00" x2="263.10" y2="218.00" class="rd"/>
<line x1="270.50" y1="211.00" x2="270.50" y2="218.00" class="rd"/>
<line x1="281.20" y1="211.00" x2="281.20" y2="218.00" class="rd"/>
<line x1="320.00" y1="211.00" x2="320.00" y2="218.00" class="rd"/>
<line x1="490.50" y1="211.00" x2="490.50" y2="218.00" class="rd"/>
<line x1="80" y1="187.50" x2="514.5" y2="187.50" class="ds"/>
<path d="M130.90,21.22 L131.00,22.67 L131.10,24.10 L131.20,25.52 L131.30,26.93 L131.40,28.32 L131.50,29.70 L131.60,31.07 L131.70,32.42 L131.80,33.77 L131.90,35.10 L132.00,36.41 L132.10,37.72 L132.20,39.01 L132.30,40.29 L132.40,41.56 L132.50,42.82 L132.60,44.07 L132.70,45.31 L132.80,46.53 L132.90,47.74 L133.00,48.94 L133.10,50.13 L133.20,51.31 L133.30,52.48 L133.40,53.64 L133.50,54.79 L133.60,55.93 L133.70,57.05 L133.80,58.17 L133.90,59.28 L134.00,60.38 L134.10,61.46 L134.20,62.54 L134.30,63.61 L134.40,64.66 L134.50,65.71 L134.60,66.75 L134.70,67.78 L134.80,68.80 L134.90,69.81 L135.00,70.81 L135.10,71.81 L135.20,72.79 L135.30,73.77 L135.40,74.73 L135.50,75.69 L135.60,76.64 L135.70,77.58 L135.80,78.51 L135.90,79.44 L136.00,80.35 L136.10,81.26 L136.20,82.16 L136.30,83.05 L136.40,83.94 L136.50,84.81 L136.60,85.68 L136.70,86.54 L136.80,87.40 L136.90,88.24 L137.00,89.08 L137.10,89.91 L137.20,90.74 L137.30,91.55 L137.40,92.36 L137.50,93.17 L137.60,93.96 L137.75,95.14 L137.90,96.31 L138.05,97.46 L138.20,98.59 L138.35,99.71 L138.50,100.82 L138.65,101.91 L138.80,102.98 L138.95,104.05 L139.10,105.10 L139.25,106.13 L139.40,107.15 L139.55,108.16 L139.70,109.16 L139.85,110.15 L140.00,111.12 L140.15,112.08 L140.30,113.02 L140.45,113.96 L140.60,114.88 L140.75,115.79 L140.90,116.69 L141.05,117.58 L141.20,118.46 L141.35,119.32 L141.50,120.18 L141.65,121.02 L141.80,121.86 L141.95,122.68 L142.10,123.49 L142.25,124.30 L142.40,125.09 L142.60,126.13 L142.80,127.16 L143.00,128.17 L143.20,129.16 L143.40,130.13 L143.60,131.09 L143.80,132.04 L144.00,132.96 L144.20,133.88 L144.40,134.78 L144.60,135.66 L144.80,136.53 L145.00,137.38 L145.20,138.23 L145.40,139.05 L145.60,139.87 L145.80,140.67 L146.00,141.46 L146.20,142.24 L146.45,143.19 L146.70,144.12 L146.95,145.04 L147.20,145.94 L147.45,146.82 L147.70,147.68 L147.95,148.53 L148.20,149.36 L148.45,150.17 L148.70,150.97 L148.95,151.75 L149.20,152.52 L149.50,153.42 L149.80,154.30 L150.10,155.16 L150.40,156.00 L150.70,156.82 L151.00,157.62 L151.30,158.40 L151.60,159.17 L151.90,159.92 L152.25,160.77 L152.60,161.60 L152.95,162.41 L153.30,163.20 L153.65,163.97 L154.00,164.71 L154.35,165.44 L154.75,166.25 L155.15,167.04 L155.55,167.80 L155.95,168.54 L156.35,169.26 L156.75,169.96 L157.20,170.72 L157.65,171.46 L158.10,172.18 L158.55,172.87 L159.00,173.54 L159.50,174.26 L160.00,174.95 L160.50,175.62 L161.00,176.27 L161.55,176.95 L162.10,177.61 L162.65,178.25 L163.20,178.86 L163.75,179.45 L164.35,180.06 L164.95,180.65 L165.55,181.22 L166.15,181.76 L166.80,182.33 L167.45,182.87 L168.10,183.38 L168.75,183.88 L169.40,184.35 L170.10,184.84 L170.80,185.30 L171.50,185.74 L172.20,186.16 L172.90,186.56 L173.65,186.97 L174.40,187.36 L175.15,187.73 L175.90,188.08 L176.65,188.41 L177.40,188.72 L178.15,189.02 L178.90,189.31 L179.70,189.59 L180.50,189.86 L181.30,190.11 L182.10,190.35 L182.90,190.57 L183.70,190.78 L184.50,190.97 L185.30,191.16 L186.10,191.33 L186.90,191.48 L187.70,191.63 L188.50,191.76 L189.30,191.89 L190.10,192.00 L190.90,192.10 L191.70,192.19 L192.50,192.27 L193.30,192.35 L194.10,192.41 L194.90,192.46 L195.70,192.50 L196.50,192.54 L197.30,192.56 L198.10,192.58 L198.90,192.58 L199.70,192.58 L200.50,192.57 L201.30,192.55 L202.10,192.52 L202.90,192.48 L203.70,192.43 L204.50,192.37 L205.30,192.31 L206.10,192.23 L206.90,192.15 L207.70,192.05 L208.50,191.95 L209.30,191.84 L210.10,191.72 L210.90,191.59 L211.70,191.45 L212.50,191.30 L213.30,191.14 L214.10,190.97 L214.90,190.79 L215.70,190.60 L216.50,190.40 L217.30,190.19 L218.10,189.97 L218.90,189.74 L219.70,189.50 L220.50,189.24 L221.30,188.98 L222.10,188.70 L222.90,188.42 L223.65,188.13 L224.40,187.84 L225.15,187.54 L225.90,187.23 L226.65,186.90 L227.40,186.57 L228.15,186.22 L228.90,185.86 L229.65,185.48 L230.40,185.10 L231.15,184.70 L231.90,184.29 L232.60,183.89 L233.30,183.48 L234.00,183.06 L234.70,182.63 L235.40,182.19 L236.10,181.73 L236.80,181.26 L237.50,180.77 L238.20,180.27 L238.85,179.80 L239.50,179.32 L240.15,178.82 L240.80,178.31 L241.45,177.79 L242.10,177.26 L242.75,176.71 L243.40,176.16 L244.05,175.59 L244.65,175.06 L245.25,174.51 L245.85,173.96 L246.45,173.40 L247.05,172.82 L247.65,172.24 L248.25,171.65 L248.85,171.04 L249.45,170.43 L250.05,169.81 L250.65,169.18 L251.20,168.60 L251.75,168.00 L252.30,167.40 L252.85,166.80 L253.40,166.19 L253.95,165.57 L254.50,164.94 L255.05,164.31 L255.60,163.67 L256.15,163.03 L256.70,162.38 L257.25,161.72 L257.80,161.06 L258.35,160.40 L258.90,159.73 L259.45,159.06 L260.00,158.39 L260.55,157.71 L261.10,157.04 L261.65,156.35 L262.20,155.67 L262.70,155.04 L263.20,154.42 L263.70,153.79 L264.20,153.16 L264.70,152.53 L265.20,151.89 L265.70,151.26 L266.20,150.62 L266.70,149.98 L267.20,149.34 L267.70,148.70 L268.20,148.05 L268.70,147.41 L269.20,146.76 L269.70,146.11 L270.20,145.46 L270.70,144.81 L271.20,144.16 L271.70,143.51 L272.20,142.86 L272.70,142.21 L273.20,141.55 L273.70,140.90 L274.20,140.24 L274.70,139.58 L275.20,138.93 L275.70,138.27 L276.20,137.61 L276.70,136.95 L277.20,136.29 L277.70,135.63 L278.20,134.98 L278.70,134.32 L279.20,133.66 L279.70,133.00 L280.20,132.34 L280.70,131.68 L281.20,131.02 L281.70,130.36 L282.20,129.70 L282.70,129.04 L283.20,128.38 L283.70,127.72 L284.20,127.06 L284.70,126.40 L285.20,125.74 L285.70,125.08 L286.20,124.42 L286.70,123.77 L287.20,123.11 L287.70,122.45 L288.20,121.80 L288.70,121.14 L289.20,120.48 L289.70,119.83 L290.20,119.17 L290.70,118.52 L291.20,117.87 L291.70,117.21 L292.20,116.56 L292.70,115.91 L293.20,115.25 L293.70,114.60 L294.20,113.95 L294.70,113.30 L295.20,112.65 L295.70,112.00 L296.20,111.35 L296.70,110.71 L297.20,110.06 L297.70,109.41 L298.20,108.76 L298.70,108.12 L299.20,107.47 L299.70,106.82 L300.20,106.18 L300.70,105.53 L301.20,104.89 L301.70,104.24 L302.20,103.60 L302.70,102.95 L303.20,102.31 L303.70,101.66 L304.20,101.02 L304.70,100.37 L305.20,99.72 L305.70,99.08 L306.20,98.43 L306.70,97.78 L307.20,97.13 L307.70,96.47 L308.20,95.82 L308.70,95.16 L309.20,94.51 L309.70,93.85 L310.20,93.18 L310.70,92.52 L311.20,91.85 L311.70,91.18 L312.20,90.51 L312.70,89.83 L313.20,89.16 L313.70,88.47 L314.20,87.79 L314.70,87.10 L315.20,86.40 L315.70,85.70 L316.20,85.00 L316.70,84.29 L317.20,83.58 L317.70,82.86 L318.20,82.14 L318.70,81.41 L319.15,80.75 L319.60,80.08 L320.05,79.41 L320.50,78.73 L320.95,78.05 L321.40,77.36 L321.85,76.66 L322.30,75.96 L322.75,75.25 L323.20,74.54 L323.65,73.82 L324.10,73.09 L324.55,72.35 L325.00,71.61 L325.45,70.86 L325.90,70.10 L326.35,69.33 L326.80,68.56 L327.20,67.86 L327.60,67.16 L328.00,66.44 L328.40,65.73 L328.80,65.00 L329.20,64.26 L329.60,63.52 L330.00,62.77 L330.40,62.01 L330.80,61.24 L331.20,60.46 L331.60,59.68 L332.00,58.88 L332.40,58.08 L332.80,57.26 L333.15,56.54 L333.50,55.81 L333.85,55.07 L334.20,54.32 L334.55,53.57 L334.90,52.81 L335.25,52.04 L335.60,51.26 L335.95,50.47 L336.30,49.67 L336.65,48.86 L337.00,48.04 L337.35,47.21 L337.70,46.37 L338.05,45.53 L338.40,44.67 L338.70,43.92 L339.00,43.17 L339.30,42.41 L339.60,41.64 L339.90,40.86 L340.20,40.08 L340.50,39.28 L340.80,38.48 L341.10,37.67 L341.40,36.85 L341.70,36.02 L342.00,35.18 L342.30,34.33 L342.60,33.47 L342.90,32.60 L343.20,31.72 L343.50,30.83 L343.80,29.93 L344.10,29.02 L344.35,28.25 L344.60,27.48 L344.85,26.70 L345.10,25.91 L345.35,25.11 L345.60,24.30 L345.85,23.49 L346.10,22.67 L346.35,21.84 L346.60,21.00 L346.75,20.49" class="cu"/>
<path d="M99.50,22.50 L99.60,23.34 L99.70,24.17 L99.80,25.00 L99.90,25.82 L100.00,26.65 L100.10,27.46 L100.20,28.28 L100.30,29.09 L100.40,29.90 L100.50,30.71 L100.60,31.51 L100.70,32.31 L100.80,33.11 L100.95,34.29 L101.10,35.47 L101.25,36.65 L101.40,37.82 L101.55,38.98 L101.70,40.13 L101.85,41.27 L102.00,42.41 L102.15,43.55 L102.30,44.67 L102.45,45.79 L102.60,46.90 L102.75,48.01 L102.90,49.10 L103.05,50.20 L103.20,51.28 L103.35,52.36 L103.50,53.43 L103.65,54.49 L103.80,55.55 L103.95,56.60 L104.10,57.65 L104.25,58.69 L104.40,59.72 L104.55,60.75 L104.70,61.77 L104.85,62.78 L105.00,63.79 L105.15,64.79 L105.30,65.78 L105.45,66.77 L105.60,67.75 L105.75,68.73 L105.90,69.70 L106.05,70.66 L106.20,71.62 L106.35,72.57 L106.50,73.51 L106.65,74.45 L106.80,75.39 L106.95,76.31 L107.10,77.24 L107.25,78.15 L107.40,79.06 L107.55,79.97 L107.70,80.86 L107.85,81.76 L108.00,82.64 L108.15,83.53 L108.30,84.40 L108.45,85.27 L108.60,86.14 L108.75,87.00 L108.90,87.85 L109.05,88.70 L109.20,89.54 L109.35,90.38 L109.50,91.21 L109.65,92.04 L109.80,92.86 L109.95,93.67 L110.10,94.48 L110.25,95.29 L110.40,96.09 L110.55,96.88 L110.70,97.67 L110.90,98.72 L111.10,99.75 L111.30,100.78 L111.50,101.80 L111.70,102.81 L111.90,103.81 L112.10,104.80 L112.30,105.78 L112.50,106.75 L112.70,107.72 L112.90,108.67 L113.10,109.62 L113.30,110.56 L113.50,111.49 L113.70,112.42 L113.90,113.33 L114.10,114.24 L114.30,115.14 L114.50,116.03 L114.70,116.91 L114.90,117.79 L115.10,118.65 L115.30,119.51 L115.50,120.37 L115.70,121.21 L115.90,122.05 L116.10,122.87 L116.30,123.70 L116.50,124.51 L116.70,125.32 L116.90,126.11 L117.10,126.91 L117.30,127.69 L117.50,128.47 L117.75,129.43 L118.00,130.38 L118.25,131.31 L118.50,132.24 L118.75,133.16 L119.00,134.06 L119.25,134.95 L119.50,135.84 L119.75,136.71 L120.00,137.57 L120.25,138.42 L120.50,139.26 L120.75,140.09 L121.00,140.91 L121.25,141.72 L121.50,142.52 L121.75,143.31 L122.00,144.09 L122.25,144.86 L122.55,145.77 L122.85,146.66 L123.15,147.55 L123.45,148.42 L123.75,149.27 L124.05,150.11 L124.35,150.94 L124.65,151.76 L124.95,152.56 L125.25,153.35 L125.55,154.13 L125.85,154.89 L126.15,155.65 L126.50,156.51 L126.85,157.36 L127.20,158.19 L127.55,159.00 L127.90,159.80 L128.25,160.59 L128.60,161.36 L128.95,162.11 L129.30,162.86 L129.65,163.58 L130.05,164.39 L130.45,165.19 L130.85,165.97 L131.25,166.73 L131.65,167.47 L132.05,168.19 L132.45,168.90 L132.85,169.60 L133.30,170.36 L133.75,171.10 L134.20,171.82 L134.65,172.53 L135.10,173.21 L135.55,173.88 L136.05,174.60 L136.55,175.30 L137.05,175.98 L137.55,176.64 L138.05,177.29 L138.60,177.97 L139.15,178.63 L139.70,179.27 L140.25,179.89 L140.80,180.49 L141.40,181.12 L142.00,181.72 L142.60,182.31 L143.20,182.87 L143.80,183.41 L144.45,183.98 L145.10,184.52 L145.75,185.04 L146.40,185.54 L147.05,186.02 L147.75,186.51 L148.45,186.99 L149.15,187.44 L149.85,187.87 L150.55,188.29 L151.25,188.68 L152.00,189.09 L152.75,189.48 L153.50,189.85 L154.25,190.21 L155.00,190.55 L155.75,190.87 L156.50,191.18 L157.25,191.48 L158.00,191.76 L158.80,192.05 L159.60,192.32 L160.40,192.59 L161.20,192.84 L162.00,193.08 L162.80,193.30 L163.60,193.52 L164.40,193.73 L165.20,193.93 L166.00,194.11 L166.80,194.29 L167.60,194.46 L168.40,194.63 L169.20,194.78 L170.00,194.93 L170.80,195.07 L171.60,195.20 L172.40,195.33 L173.20,195.45 L174.00,195.56 L174.80,195.67 L175.60,195.77 L176.40,195.87 L177.20,195.96 L178.00,196.04 L178.80,196.13 L179.60,196.20 L180.40,196.27 L181.20,196.34 L182.00,196.40 L182.80,196.46 L183.60,196.52 L184.40,196.57 L185.20,196.61 L186.00,196.65 L186.80,196.69 L187.60,196.73 L188.40,196.76 L189.20,196.79 L190.00,196.81 L190.80,196.83 L191.60,196.85 L192.40,196.87 L193.20,196.88 L194.00,196.89 L194.80,196.89 L195.60,196.89 L196.40,196.89 L197.20,196.89 L198.00,196.88 L198.80,196.88 L199.60,196.86 L200.40,196.85 L201.20,196.83 L202.00,196.81 L202.80,196.79 L203.60,196.77 L204.40,196.74 L205.20,196.71 L206.00,196.68 L206.80,196.64 L207.60,196.60 L208.40,196.56 L209.20,196.52 L210.00,196.48 L210.80,196.43 L211.60,196.38 L212.40,196.33 L213.20,196.27 L214.00,196.22 L214.80,196.16 L215.60,196.10 L216.40,196.03 L217.20,195.97 L218.00,195.90 L218.80,195.83 L219.60,195.76 L220.40,195.68 L221.20,195.61 L222.00,195.53 L222.80,195.44 L223.60,195.36 L224.40,195.28 L225.20,195.19 L226.00,195.10 L226.80,195.00 L227.60,194.91 L228.40,194.81 L229.20,194.71 L230.00,194.61 L230.80,194.51 L231.60,194.41 L232.40,194.30 L233.20,194.19 L234.00,194.08 L234.80,193.97 L235.60,193.85 L236.40,193.73 L237.20,193.62 L238.00,193.49 L238.80,193.37 L239.60,193.25 L240.40,193.12 L241.20,192.99 L242.00,192.87 L242.80,192.73 L243.60,192.60 L244.40,192.47 L245.20,192.33 L246.00,192.20 L246.80,192.06 L247.60,191.92 L248.40,191.78 L249.20,191.63 L250.00,191.49 L250.80,191.35 L251.60,191.20 L252.40,191.05 L253.20,190.91 L254.00,190.76 L254.80,190.61 L255.60,190.46 L256.40,190.31 L257.20,190.16 L258.00,190.01 L258.80,189.86 L259.60,189.71 L260.40,189.56 L261.20,189.41 L262.00,189.26 L262.80,189.11 L263.60,188.96 L264.40,188.81 L265.20,188.66 L266.00,188.52 L266.80,188.37 L267.60,188.22 L268.40,188.08 L269.20,187.94 L270.00,187.79 L270.80,187.65 L271.60,187.51 L272.40,187.38 L273.20,187.24 L274.00,187.11 L274.80,186.97 L275.60,186.84 L276.40,186.72 L277.20,186.59 L278.00,186.47 L278.80,186.35 L279.60,186.23 L280.40,186.11 L281.20,186.00 L282.00,185.89 L282.80,185.79 L283.60,185.68 L284.40,185.59 L285.20,185.49 L286.00,185.40 L286.80,185.31 L287.60,185.23 L288.40,185.15 L289.20,185.07 L290.00,185.00 L290.80,184.93 L291.60,184.87 L292.40,184.81 L293.20,184.76 L294.00,184.71 L294.80,184.67 L295.60,184.63 L296.40,184.59 L297.20,184.57 L298.00,184.54 L298.80,184.53 L299.60,184.51 L300.40,184.51 L301.20,184.51 L302.00,184.51 L302.80,184.52 L303.60,184.54 L304.40,184.57 L305.20,184.59 L306.00,184.63 L306.80,184.67 L307.60,184.72 L308.40,184.77 L309.20,184.83 L310.00,184.90 L310.80,184.97 L311.60,185.05 L312.40,185.13 L313.20,185.22 L314.00,185.32 L314.80,185.42 L315.60,185.53 L316.40,185.65 L317.20,185.77 L318.00,185.90 L318.80,186.03 L319.60,186.17 L320.40,186.32 L321.20,186.47 L322.00,186.62 L322.80,186.79 L323.60,186.95 L324.40,187.13 L325.20,187.31 L326.00,187.49 L326.80,187.68 L327.60,187.87 L328.40,188.07 L329.20,188.27 L330.00,188.47 L330.80,188.67 L331.60,188.88 L332.40,189.09 L333.20,189.29 L334.00,189.50 L334.80,189.71 L335.60,189.91 L336.40,190.12 L337.20,190.32 L338.00,190.52 L338.80,190.72 L339.60,190.91 L340.40,191.10 L341.20,191.29 L342.00,191.48 L342.80,191.66 L343.60,191.84 L344.40,192.01 L345.20,192.18 L346.00,192.34 L346.80,192.50 L347.60,192.66 L348.40,192.80 L349.20,192.95 L350.00,193.08 L350.80,193.21 L351.60,193.34 L352.40,193.46 L353.20,193.57 L354.00,193.68 L354.80,193.78 L355.60,193.87 L356.40,193.95 L357.20,194.03 L358.00,194.11 L358.80,194.17 L359.60,194.23 L360.40,194.28 L361.20,194.32 L362.00,194.36 L362.80,194.39 L363.60,194.42 L364.40,194.44 L365.20,194.45 L366.00,194.46 L366.80,194.46 L367.60,194.46 L368.40,194.45 L369.20,194.44 L370.00,194.42 L370.80,194.40 L371.60,194.38 L372.40,194.34 L373.20,194.31 L374.00,194.27 L374.80,194.23 L375.60,194.18 L376.40,194.13 L377.20,194.08 L378.00,194.02 L378.80,193.96 L379.60,193.89 L380.40,193.82 L381.20,193.75 L382.00,193.67 L382.80,193.60 L383.60,193.51 L384.40,193.43 L385.20,193.34 L386.00,193.25 L386.80,193.16 L387.60,193.07 L388.40,192.97 L389.20,192.87 L390.00,192.77 L390.80,192.67 L391.60,192.56 L392.40,192.46 L393.20,192.35 L394.00,192.24 L394.80,192.13 L395.60,192.01 L396.40,191.89 L397.20,191.78 L398.00,191.65 L398.80,191.53 L399.60,191.41 L400.40,191.28 L401.20,191.15 L402.00,191.02 L402.80,190.88 L403.60,190.74 L404.40,190.61 L405.20,190.46 L406.00,190.32 L406.80,190.17 L407.60,190.02 L408.40,189.87 L409.20,189.71 L410.00,189.55 L410.80,189.39 L411.60,189.23 L412.40,189.06 L413.20,188.89 L414.00,188.71 L414.80,188.54 L415.60,188.36 L416.40,188.17 L417.20,187.99 L418.00,187.80 L418.80,187.60 L419.60,187.40 L420.40,187.20 L421.20,187.00 L422.00,186.79 L422.80,186.57 L423.60,186.36 L424.40,186.13 L425.20,185.91 L426.00,185.68 L426.80,185.44 L427.60,185.20 L428.40,184.96 L429.20,184.71 L430.00,184.46 L430.80,184.20 L431.60,183.94 L432.40,183.67 L433.20,183.39 L434.00,183.11 L434.80,182.83 L435.60,182.54 L436.40,182.24 L437.15,181.96 L437.90,181.67 L438.65,181.38 L439.40,181.08 L440.15,180.77 L440.90,180.46 L441.65,180.14 L442.40,179.82 L443.15,179.49 L443.90,179.16 L444.65,178.82 L445.40,178.47 L446.15,178.11 L446.90,177.75 L447.65,177.38 L448.40,177.01 L449.15,176.62 L449.90,176.23 L450.65,175.84 L451.40,175.43 L452.15,175.02 L452.85,174.63 L453.55,174.23 L454.25,173.83 L454.95,173.42 L455.65,173.01 L456.35,172.58 L457.05,172.16 L457.75,171.72 L458.45,171.28 L459.15,170.84 L459.85,170.39 L460.55,169.93 L461.25,169.47 L461.95,169.00 L462.65,168.52 L463.35,168.04 L464.05,167.56 L464.75,167.07 L465.45,166.58 L466.15,166.08 L466.80,165.61 L467.45,165.13 L468.10,164.66 L468.75,164.18 L469.40,163.69 L470.05,163.21 L470.70,162.72 L471.35,162.22 L472.00,161.73 L472.65,161.23 L473.30,160.72 L473.95,160.22 L474.60,159.71 L475.25,159.20 L475.90,158.69 L476.55,158.18 L477.20,157.66 L477.85,157.15 L478.50,156.63 L479.15,156.12 L479.80,155.60 L480.45,155.08 L481.10,154.56 L481.75,154.05 L482.40,153.53 L483.05,153.01 L483.70,152.50 L484.35,151.99 L485.00,151.48 L485.65,150.97 L486.30,150.46 L486.95,149.96 L487.60,149.46 L488.25,148.96 L488.90,148.47 L489.55,147.98 L490.20,147.50 L490.85,147.02 L491.50,146.55 L492.15,146.08 L492.85,145.59 L493.55,145.10 L494.25,144.62 L494.95,144.15 L495.65,143.69 L496.35,143.24 L497.05,142.80 L497.75,142.37 L498.45,141.95 L499.15,141.54 L499.85,141.15 L500.60,140.74 L501.35,140.35 L502.10,139.97 L502.85,139.61 L503.60,139.27 L504.35,138.95 L505.10,138.64 L505.85,138.36 L506.65,138.08 L507.45,137.82 L508.25,137.58 L508.50,137.51" class="cu"/>
<path d="M119.50,21.30 L119.60,22.60 L119.70,23.89 L119.80,25.16 L119.90,26.43 L120.00,27.69 L120.10,28.93 L120.20,30.17 L120.30,31.40 L120.40,32.61 L120.50,33.82 L120.60,35.02 L120.70,36.20 L120.80,37.38 L120.90,38.55 L121.00,39.71 L121.10,40.86 L121.20,42.00 L121.30,43.13 L121.40,44.26 L121.50,45.37 L121.60,46.48 L121.70,47.57 L121.80,48.66 L121.90,49.74 L122.00,50.81 L122.10,51.87 L122.20,52.93 L122.30,53.97 L122.40,55.01 L122.50,56.04 L122.60,57.06 L122.70,58.07 L122.80,59.08 L122.90,60.08 L123.00,61.07 L123.10,62.05 L123.20,63.02 L123.30,63.99 L123.40,64.95 L123.50,65.90 L123.60,66.84 L123.70,67.78 L123.80,68.71 L123.90,69.63 L124.00,70.54 L124.10,71.45 L124.20,72.35 L124.30,73.24 L124.40,74.13 L124.50,75.01 L124.60,75.88 L124.70,76.75 L124.80,77.61 L124.90,78.46 L125.00,79.30 L125.10,80.14 L125.20,80.98 L125.30,81.80 L125.40,82.62 L125.50,83.44 L125.60,84.24 L125.70,85.04 L125.80,85.84 L125.95,87.02 L126.10,88.19 L126.25,89.34 L126.40,90.48 L126.55,91.61 L126.70,92.72 L126.85,93.82 L127.00,94.91 L127.15,95.99 L127.30,97.05 L127.45,98.11 L127.60,99.15 L127.75,100.17 L127.90,101.19 L128.05,102.19 L128.20,103.19 L128.35,104.17 L128.50,105.14 L128.65,106.10 L128.80,107.05 L128.95,107.99 L129.10,108.91 L129.25,109.83 L129.40,110.74 L129.55,111.63 L129.70,112.52 L129.85,113.40 L130.00,114.26 L130.15,115.12 L130.30,115.97 L130.45,116.80 L130.60,117.63 L130.75,118.45 L130.90,119.26 L131.05,120.06 L131.20,120.85 L131.40,121.90 L131.60,122.92 L131.80,123.93 L132.00,124.93 L132.20,125.91 L132.40,126.88 L132.60,127.83 L132.80,128.77 L133.00,129.70 L133.20,130.61 L133.40,131.51 L133.60,132.39 L133.80,133.27 L134.00,134.12 L134.20,134.97 L134.40,135.81 L134.60,136.63 L134.80,137.44 L135.00,138.24 L135.20,139.03 L135.40,139.80 L135.65,140.76 L135.90,141.69 L136.15,142.61 L136.40,143.52 L136.65,144.41 L136.90,145.28 L137.15,146.13 L137.40,146.97 L137.65,147.80 L137.90,148.61 L138.15,149.41 L138.40,150.19 L138.65,150.96 L138.95,151.87 L139.25,152.75 L139.55,153.62 L139.85,154.47 L140.15,155.30 L140.45,156.12 L140.75,156.91 L141.05,157.69 L141.35,158.46 L141.65,159.21 L142.00,160.06 L142.35,160.89 L142.70,161.71 L143.05,162.50 L143.40,163.27 L143.75,164.03 L144.10,164.77 L144.45,165.49 L144.85,166.29 L145.25,167.07 L145.65,167.84 L146.05,168.58 L146.45,169.30 L146.85,170.00 L147.30,170.76 L147.75,171.51 L148.20,172.23 L148.65,172.93 L149.10,173.61 L149.60,174.34 L150.10,175.05 L150.60,175.74 L151.10,176.40 L151.60,177.04 L152.15,177.72 L152.70,178.38 L153.25,179.02 L153.80,179.63 L154.35,180.22 L154.95,180.84 L155.55,181.44 L156.15,182.02 L156.75,182.57 L157.35,183.10 L158.00,183.66 L158.65,184.19 L159.30,184.70 L159.95,185.19 L160.60,185.66 L161.30,186.15 L162.00,186.61 L162.70,187.06 L163.40,187.48 L164.10,187.89 L164.80,188.28 L165.55,188.68 L166.30,189.06 L167.05,189.42 L167.80,189.76 L168.55,190.09 L169.30,190.40 L170.05,190.70 L170.80,190.98 L171.60,191.27 L172.40,191.54 L173.20,191.80 L174.00,192.04 L174.80,192.27 L175.60,192.49 L176.40,192.69 L177.20,192.89 L178.00,193.07 L178.80,193.24 L179.60,193.41 L180.40,193.56 L181.20,193.70 L182.00,193.84 L182.80,193.97 L183.60,194.08 L184.40,194.19 L185.20,194.30 L186.00,194.39 L186.80,194.48 L187.60,194.56 L188.40,194.63 L189.20,194.70 L190.00,194.76 L190.80,194.82 L191.60,194.87 L192.40,194.91 L193.20,194.95 L194.00,194.98 L194.80,195.00 L195.60,195.02 L196.40,195.04 L197.20,195.04 L198.00,195.05 L198.80,195.05 L199.60,195.04 L200.40,195.03 L201.20,195.01 L202.00,194.99 L202.80,194.96 L203.60,194.93 L204.40,194.89 L205.20,194.85 L206.00,194.80 L206.80,194.75 L207.60,194.70 L208.40,194.63 L209.20,194.57 L210.00,194.50 L210.80,194.42 L211.60,194.34 L212.40,194.25 L213.20,194.16 L214.00,194.06 L214.80,193.96 L215.60,193.85 L216.40,193.74 L217.20,193.62 L218.00,193.50 L218.80,193.37 L219.60,193.24 L220.40,193.10 L221.20,192.95 L222.00,192.80 L222.80,192.65 L223.60,192.48 L224.40,192.31 L225.20,192.14 L226.00,191.96 L226.80,191.77 L227.60,191.58 L228.40,191.38 L229.20,191.17 L230.00,190.95 L230.80,190.73 L231.60,190.51 L232.40,190.27 L233.20,190.03 L234.00,189.78 L234.80,189.53 L235.60,189.27 L236.40,189.00 L237.20,188.72 L238.00,188.44 L238.80,188.15 L239.60,187.86 L240.35,187.57 L241.10,187.28 L241.85,186.99 L242.60,186.68 L243.35,186.37 L244.10,186.06 L244.85,185.74 L245.60,185.41 L246.35,185.08 L247.10,184.74 L247.85,184.40 L248.60,184.05 L249.35,183.69 L250.10,183.33 L250.85,182.97 L251.60,182.60 L252.35,182.22 L253.10,181.84 L253.85,181.46 L254.60,181.07 L255.35,180.67 L256.10,180.27 L256.85,179.87 L257.60,179.46 L258.35,179.06 L259.10,178.64 L259.80,178.26 L260.50,177.87 L261.20,177.47 L261.90,177.08 L262.60,176.69 L263.30,176.29 L264.00,175.89 L264.70,175.49 L265.40,175.10 L266.10,174.70 L266.80,174.30 L267.50,173.90 L268.20,173.50 L268.90,173.10 L269.60,172.70 L270.30,172.30 L271.00,171.91 L271.70,171.51 L272.40,171.11 L273.10,170.72 L273.80,170.33 L274.50,169.94 L275.20,169.55 L275.95,169.13 L276.70,168.72 L277.45,168.31 L278.20,167.91 L278.95,167.51 L279.70,167.11 L280.45,166.71 L281.20,166.32 L281.95,165.94 L282.70,165.56 L283.45,165.18 L284.20,164.81 L284.95,164.45 L285.70,164.09 L286.45,163.74 L287.20,163.40 L287.95,163.06 L288.70,162.73 L289.45,162.40 L290.20,162.09 L290.95,161.78 L291.70,161.48 L292.45,161.19 L293.20,160.91 L294.00,160.62 L294.80,160.34 L295.60,160.07 L296.40,159.81 L297.20,159.57 L298.00,159.33 L298.80,159.10 L299.60,158.89 L300.40,158.69 L301.20,158.49 L302.00,158.31 L302.80,158.14 L303.60,157.97 L304.40,157.82 L305.20,157.67 L306.00,157.53 L306.80,157.41 L307.60,157.29 L308.40,157.18 L309.20,157.07 L310.00,156.98 L310.80,156.89 L311.60,156.81 L312.40,156.73 L313.20,156.67 L314.00,156.61 L314.80,156.55 L315.60,156.50 L316.40,156.46 L317.20,156.42 L318.00,156.38 L318.80,156.35 L319.60,156.33 L320.40,156.30 L321.20,156.28 L322.00,156.27 L322.80,156.25 L323.60,156.24 L324.40,156.23 L325.20,156.23 L326.00,156.22 L326.80,156.22 L327.60,156.21 L328.40,156.21 L329.20,156.21 L330.00,156.20 L330.80,156.20 L331.60,156.19 L332.40,156.19 L333.20,156.18 L334.00,156.17 L334.80,156.16 L335.60,156.15 L336.40,156.13 L337.20,156.11 L338.00,156.08 L338.80,156.06 L339.60,156.02 L340.40,155.99 L341.20,155.95 L342.00,155.90 L342.80,155.85 L343.60,155.79 L344.40,155.73 L345.20,155.65 L346.00,155.58 L346.80,155.49 L347.60,155.40 L348.40,155.30 L349.20,155.19 L350.00,155.07 L350.80,154.94 L351.60,154.80 L352.40,154.65 L353.20,154.50 L354.00,154.33 L354.80,154.16 L355.60,153.97 L356.40,153.77 L357.20,153.57 L358.00,153.35 L358.80,153.12 L359.60,152.88 L360.40,152.64 L361.20,152.38 L362.00,152.11 L362.80,151.83 L363.60,151.53 L364.35,151.25 L365.10,150.96 L365.85,150.65 L366.60,150.34 L367.35,150.01 L368.10,149.67 L368.85,149.33 L369.60,148.97 L370.35,148.60 L371.10,148.22 L371.85,147.82 L372.60,147.42 L373.30,147.03 L374.00,146.63 L374.70,146.22 L375.40,145.80 L376.10,145.37 L376.80,144.93 L377.50,144.47 L378.20,144.01 L378.90,143.53 L379.60,143.04 L380.25,142.57 L380.90,142.09 L381.55,141.60 L382.20,141.10 L382.85,140.59 L383.50,140.07 L384.15,139.53 L384.80,138.98 L385.45,138.42 L386.10,137.85 L386.70,137.31 L387.30,136.76 L387.90,136.20 L388.50,135.62 L389.10,135.04 L389.70,134.44 L390.30,133.83 L390.90,133.20 L391.45,132.62 L392.00,132.03 L392.55,131.43 L393.10,130.81 L393.65,130.19 L394.20,129.55 L394.75,128.90 L395.30,128.24 L395.85,127.57 L396.40,126.88 L396.90,126.25 L397.40,125.60 L397.90,124.94 L398.40,124.28 L398.90,123.60 L399.40,122.91 L399.90,122.21 L400.40,121.50 L400.90,120.77 L401.35,120.11 L401.80,119.44 L402.25,118.76 L402.70,118.07 L403.15,117.36 L403.60,116.65 L404.05,115.93 L404.50,115.19 L404.95,114.45 L405.40,113.69 L405.85,112.92 L406.30,112.14 L406.70,111.44 L407.10,110.73 L407.50,110.00 L407.90,109.27 L408.30,108.53 L408.70,107.78 L409.10,107.02 L409.50,106.25 L409.90,105.46 L410.30,104.67 L410.70,103.87 L411.10,103.05 L411.45,102.33 L411.80,101.60 L412.15,100.86 L412.50,100.12 L412.85,99.36 L413.20,98.59 L413.55,97.82 L413.90,97.04 L414.25,96.24 L414.60,95.44 L414.95,94.63 L415.30,93.81 L415.65,92.98 L416.00,92.13 L416.35,91.28 L416.70,90.42 L417.00,89.67 L417.30,88.92 L417.60,88.16 L417.90,87.39 L418.20,86.61 L418.50,85.82 L418.80,85.03 L419.10,84.23 L419.40,83.42 L419.70,82.60 L420.00,81.77 L420.30,80.94 L420.60,80.09 L420.90,79.24 L421.20,78.38 L421.50,77.50 L421.80,76.62 L422.10,75.73 L422.40,74.83 L422.70,73.93 L422.95,73.16 L423.20,72.39 L423.45,71.61 L423.70,70.83 L423.95,70.04 L424.20,69.24 L424.45,68.43 L424.70,67.62 L424.95,66.80 L425.20,65.98 L425.45,65.14 L425.70,64.30 L425.95,63.45 L426.20,62.60 L426.45,61.73 L426.70,60.86 L426.95,59.98 L427.20,59.10 L427.45,58.20 L427.70,57.30 L427.95,56.39 L428.20,55.47 L428.45,54.54 L428.70,53.61 L428.95,52.66 L429.20,51.71 L429.45,50.75 L429.65,49.98 L429.85,49.20 L430.05,48.41 L430.25,47.62 L430.45,46.82 L430.65,46.02 L430.85,45.21 L431.05,44.40 L431.25,43.58 L431.45,42.75 L431.65,41.92 L431.85,41.08 L432.05,40.24 L432.25,39.38 L432.45,38.53 L432.65,37.67 L432.85,36.80 L433.05,35.92 L433.25,35.04 L433.45,34.15 L433.65,33.26 L433.85,32.36 L434.05,31.45 L434.25,30.53 L434.45,29.61 L434.65,28.69 L434.85,27.75 L435.05,26.81 L435.25,25.86 L435.45,24.91 L435.65,23.95 L435.85,22.98 L436.05,22.00 L436.25,21.02 L436.25,21.02" class="ck"/>
<text x="0.00" y="293.50" class="lt" transform="translate(1.60,0) scale(1.000,1)">B</text>
<line x1="79.2" y1="292.20" x2="79.2" y2="480.60" class="ay"/>
<line x1="71.2" y1="479.90" x2="79.9" y2="479.90" class="ay"/>
<text x="63.6" y="484.40" class="tk" text-anchor="end">0</text>
<line x1="71.2" y1="461.20" x2="79.9" y2="461.20" class="ay"/>
<text x="63.6" y="465.70" class="tk" text-anchor="end">1</text>
<line x1="71.2" y1="442.50" x2="79.9" y2="442.50" class="ay"/>
<text x="63.6" y="447.00" class="tk" text-anchor="end">2</text>
<line x1="71.2" y1="405.10" x2="79.9" y2="405.10" class="ay"/>
<text x="63.6" y="409.60" class="tk" text-anchor="end">4</text>
<line x1="71.2" y1="367.70" x2="79.9" y2="367.70" class="ay"/>
<text x="63.6" y="372.20" class="tk" text-anchor="end">6</text>
<line x1="71.2" y1="330.30" x2="79.9" y2="330.30" class="ay"/>
<text x="63.6" y="334.80" class="tk" text-anchor="end">8</text>
<line x1="71.2" y1="292.90" x2="79.9" y2="292.90" class="ay"/>
<text x="63.6" y="297.40" class="tk" text-anchor="end">10</text>
<text transform="translate(31,388.50) rotate(-90)" class="yl" text-anchor="middle">Estimated hazard ratio</text>
<line x1="95.00" y1="500.75" x2="516.00" y2="500.75" class="ax"/>
<line x1="95.00" y1="500.75" x2="95.00" y2="508.25" class="ax"/>
<text x="95.40" y="520.95" class="tk" text-anchor="middle">0</text>
<line x1="196.25" y1="500.75" x2="196.25" y2="508.25" class="ax"/>
<text x="196.65" y="520.95" class="tk" text-anchor="middle">5</text>
<line x1="297.50" y1="500.75" x2="297.50" y2="508.25" class="ax"/>
<text x="297.90" y="520.95" class="tk" text-anchor="middle">10</text>
<line x1="398.75" y1="500.75" x2="398.75" y2="508.25" class="ax"/>
<text x="399.15" y="520.95" class="tk" text-anchor="middle">15</text>
<line x1="500.00" y1="500.75" x2="500.00" y2="508.25" class="ax"/>
<text x="500.40" y="520.95" class="tk" text-anchor="middle">20</text>
<text x="0" y="542.30" class="xl" text-anchor="middle" transform="translate(297.40,0) scale(0.940,1)">WBC (x10<tspan dy="-3.8" font-size="8.3">9</tspan><tspan dy="3.8">/L)</tspan></text>
<text x="233.80" y="380.80" class="pt">p=0.02</text>
<rect x="97" y="494.30" width="1" height="5.70" fill="#f1f1f1"/>
<rect x="98" y="494.30" width="1" height="5.70" fill="#f9f9f9"/>
<rect x="99" y="494.30" width="1" height="5.70" fill="#ededed"/>
<rect x="100" y="494.30" width="1" height="5.70" fill="#f4f4f4"/>
<rect x="101" y="494.30" width="1" height="5.70" fill="#ebebeb"/>
<rect x="104" y="494.30" width="1" height="5.70" fill="#f1f1f1"/>
<rect x="105" y="494.30" width="1" height="5.70" fill="#eeeeee"/>
<rect x="106" y="494.30" width="1" height="5.70" fill="#ededed"/>
<rect x="107" y="494.30" width="1" height="5.70" fill="#efefef"/>
<rect x="108" y="494.30" width="1" height="5.70" fill="#f7f7f7"/>
<rect x="109" y="494.30" width="1" height="5.70" fill="#eeeeee"/>
<rect x="110" y="494.30" width="1" height="5.70" fill="#f7f7f7"/>
<rect x="111" y="494.30" width="1" height="5.70" fill="#eeeeee"/>
<rect x="112" y="494.30" width="1" height="5.70" fill="#ebebeb"/>
<rect x="113" y="494.30" width="1" height="5.70" fill="#f4f4f4"/>
<rect x="114" y="494.30" width="1" height="5.70" fill="#f7f7f7"/>
<rect x="115" y="494.30" width="1" height="5.70" fill="#f4f4f4"/>
<rect x="116" y="494.30" width="1" height="5.70" fill="#f2f2f2"/>
<rect x="117" y="494.30" width="1" height="5.70" fill="#ececec"/>
<rect x="118" y="494.30" width="1" height="5.70" fill="#eeeeee"/>
<rect x="119" y="494.30" width="1" height="5.70" fill="#c8c8c8"/>
<rect x="120" y="494.30" width="1" height="5.70" fill="#d6d6d6"/>
<rect x="121" y="494.30" width="1" height="5.70" fill="#cbcbcb"/>
<rect x="122" y="494.30" width="1" height="5.70" fill="#e5e5e5"/>
<rect x="123" y="494.30" width="1" height="5.70" fill="#e0e0e0"/>
<rect x="124" y="494.30" width="1" height="5.70" fill="#c8c8c8"/>
<rect x="125" y="494.30" width="1" height="5.70" fill="#e9e9e9"/>
<rect x="126" y="494.30" width="1" height="5.70" fill="#a9a9a9"/>
<rect x="127" y="494.30" width="1" height="5.70" fill="#bebebe"/>
<rect x="128" y="494.30" width="1" height="5.70" fill="#565656"/>
<rect x="129" y="494.30" width="1" height="5.70" fill="#b0b0b0"/>
<rect x="130" y="494.30" width="1" height="5.70" fill="#7c7c7c"/>
<rect x="131" y="494.30" width="1" height="5.70" fill="#c8c8c8"/>
<rect x="132" y="494.30" width="1" height="5.70" fill="#929292"/>
<rect x="133" y="494.30" width="1" height="5.70" fill="#b3b3b3"/>
<rect x="134" y="494.30" width="1" height="5.70" fill="#7a7a7a"/>
<rect x="135" y="494.30" width="1" height="5.70" fill="#afafaf"/>
<rect x="136" y="494.30" width="1" height="5.70" fill="#5b5b5b"/>
<rect x="137" y="494.30" width="1" height="5.70" fill="#a9a9a9"/>
<rect x="138" y="494.30" width="1" height="5.70" fill="#d1d1d1"/>
<rect x="139" y="494.30" width="1" height="5.70" fill="#a4a4a4"/>
<rect x="140" y="494.30" width="1" height="5.70" fill="#c3c3c3"/>
<rect x="141" y="494.30" width="1" height="5.70" fill="#8d8d8d"/>
<rect x="142" y="494.30" width="1" height="5.70" fill="#bebebe"/>
<rect x="143" y="494.30" width="1" height="5.70" fill="#717171"/>
<rect x="144" y="494.30" width="1" height="5.70" fill="#595959"/>
<rect x="145" y="494.30" width="1" height="5.70" fill="#cacaca"/>
<rect x="146" y="494.30" width="1" height="5.70" fill="#7b7b7b"/>
<rect x="147" y="494.30" width="1" height="5.70" fill="#000000"/>
<rect x="148" y="494.30" width="1" height="5.70" fill="#000000"/>
<rect x="149" y="494.30" width="1" height="5.70" fill="#202020"/>
<rect x="150" y="494.30" width="1" height="5.70" fill="#7f7f7f"/>
<rect x="151" y="494.30" width="1" height="5.70" fill="#000000"/>
<rect x="152" y="494.30" width="1" height="5.70" fill="#323232"/>
<rect x="153" y="494.30" width="1" height="5.70" fill="#5a5a5a"/>
<rect x="154" y="494.30" width="1" height="5.70" fill="#949494"/>
<rect x="155" y="494.30" width="1" height="5.70" fill="#7d7d7d"/>
<rect x="156" y="494.30" width="1" height="5.70" fill="#000000"/>
<rect x="157" y="494.30" width="1" height="5.70" fill="#000000"/>
<rect x="158" y="494.30" width="1" height="5.70" fill="#000000"/>
<rect x="159" y="494.30" width="1" height="5.70" fill="#000000"/>
<rect x="160" y="494.30" width="1" height="5.70" fill="#000000"/>
<rect x="161" y="494.30" width="1" height="5.70" fill="#000000"/>
<rect x="162" y="494.30" width="1" height="5.70" fill="#000000"/>
<rect x="163" y="494.30" width="1" height="5.70" fill="#000000"/>
<rect x="164" y="494.30" width="1" height="5.70" fill="#000000"/>
<rect x="165" y="494.30" width="1" height="5.70" fill="#000000"/>
<rect x="166" y="494.30" width="1" height="5.70" fill="#000000"/>
<rect x="167" y="494.30" width="1" height="5.70" fill="#000000"/>
<rect x="168" y="494.30" width="1" height="5.70" fill="#000000"/>
<rect x="169" y="494.30" width="1" height="5.70" fill="#000000"/>
<rect x="170" y="494.30" width="1" height="5.70" fill="#000000"/>
<rect x="171" y="494.30" width="1" height="5.70" fill="#000000"/>
<rect x="172" y="494.30" width="1" height="5.70" fill="#000000"/>
<rect x="173" y="494.30" width="1" height="5.70" fill="#000000"/>
<rect x="174" y="494.30" width="1" height="5.70" fill="#000000"/>
<rect x="175" y="494.30" width="1" height="5.70" fill="#000000"/>
<rect x="176" y="494.30" width="1" height="5.70" fill="#000000"/>
<rect x="177" y="494.30" width="1" height="5.70" fill="#000000"/>
<rect x="178" y="494.30" width="1" height="5.70" fill="#000000"/>
<rect x="179" y="494.30" width="1" height="5.70" fill="#000000"/>
<rect x="180" y="494.30" width="1" height="5.70" fill="#000000"/>
<rect x="181" y="494.30" width="1" height="5.70" fill="#000000"/>
<rect x="182" y="494.30" width="1" height="5.70" fill="#000000"/>
<rect x="183" y="494.30" width="1" height="5.70" fill="#000000"/>
<rect x="184" y="494.30" width="1" height="5.70" fill="#000000"/>
<rect x="185" y="494.30" width="1" height="5.70" fill="#000000"/>
<rect x="186" y="494.30" width="1" height="5.70" fill="#000000"/>
<rect x="187" y="494.30" width="1" height="5.70" fill="#000000"/>
<rect x="188" y="494.30" width="1" height="5.70" fill="#000000"/>
<rect x="189" y="494.30" width="1" height="5.70" fill="#000000"/>
<rect x="190" y="494.30" width="1" height="5.70" fill="#000000"/>
<rect x="191" y="494.30" width="1" height="5.70" fill="#000000"/>
<rect x="192" y="494.30" width="1" height="5.70" fill="#000000"/>
<rect x="193" y="494.30" width="1" height="5.70" fill="#000000"/>
<rect x="194" y="494.30" width="1" height="5.70" fill="#000000"/>
<rect x="195" y="494.30" width="1" height="5.70" fill="#000000"/>
<rect x="196" y="494.30" width="1" height="5.70" fill="#000000"/>
<rect x="197" y="494.30" width="1" height="5.70" fill="#000000"/>
<rect x="198" y="494.30" width="1" height="5.70" fill="#000000"/>
<rect x="199" y="494.30" width="1" height="5.70" fill="#000000"/>
<rect x="200" y="494.30" width="1" height="5.70" fill="#000000"/>
<rect x="201" y="494.30" width="1" height="5.70" fill="#000000"/>
<rect x="202" y="494.30" width="1" height="5.70" fill="#000000"/>
<rect x="203" y="494.30" width="1" height="5.70" fill="#000000"/>
<rect x="204" y="494.30" width="1" height="5.70" fill="#000000"/>
<rect x="205" y="494.30" width="1" height="5.70" fill="#000000"/>
<rect x="206" y="494.30" width="1" height="5.70" fill="#000000"/>
<rect x="207" y="494.30" width="1" height="5.70" fill="#000000"/>
<rect x="208" y="494.30" width="1" height="5.70" fill="#000000"/>
<rect x="209" y="494.30" width="1" height="5.70" fill="#000000"/>
<rect x="210" y="494.30" width="1" height="5.70" fill="#000000"/>
<rect x="211" y="494.30" width="1" height="5.70" fill="#000000"/>
<rect x="212" y="494.30" width="1" height="5.70" fill="#000000"/>
<rect x="213" y="494.30" width="1" height="5.70" fill="#000000"/>
<rect x="214" y="494.30" width="1" height="5.70" fill="#000000"/>
<rect x="215" y="494.30" width="1" height="5.70" fill="#000000"/>
<rect x="216" y="494.30" width="1" height="5.70" fill="#000000"/>
<rect x="217" y="494.30" width="1" height="5.70" fill="#000000"/>
<rect x="218" y="494.30" width="1" height="5.70" fill="#000000"/>
<rect x="219" y="494.30" width="1" height="5.70" fill="#000000"/>
<rect x="220" y="494.30" width="1" height="5.70" fill="#000000"/>
<rect x="221" y="494.30" width="1" height="5.70" fill="#000000"/>
<rect x="222" y="494.30" width="1" height="5.70" fill="#000000"/>
<rect x="223" y="494.30" width="1" height="5.70" fill="#000000"/>
<rect x="224" y="494.30" width="1" height="5.70" fill="#000000"/>
<rect x="225" y="494.30" width="1" height="5.70" fill="#000000"/>
<rect x="226" y="494.30" width="1" height="5.70" fill="#000000"/>
<rect x="227" y="494.30" width="1" height="5.70" fill="#000000"/>
<rect x="228" y="494.30" width="1" height="5.70" fill="#000000"/>
<rect x="229" y="494.30" width="1" height="5.70" fill="#000000"/>
<rect x="230" y="494.30" width="1" height="5.70" fill="#000000"/>
<rect x="231" y="494.30" width="1" height="5.70" fill="#000000"/>
<rect x="232" y="494.30" width="1" height="5.70" fill="#000000"/>
<rect x="233" y="494.30" width="1" height="5.70" fill="#000000"/>
<rect x="234" y="494.30" width="1" height="5.70" fill="#000000"/>
<rect x="235" y="494.30" width="1" height="5.70" fill="#000000"/>
<rect x="236" y="494.30" width="1" height="5.70" fill="#000000"/>
<rect x="237" y="494.30" width="1" height="5.70" fill="#000000"/>
<rect x="238" y="494.30" width="1" height="5.70" fill="#000000"/>
<rect x="239" y="494.30" width="1" height="5.70" fill="#000000"/>
<rect x="240" y="494.30" width="1" height="5.70" fill="#000000"/>
<rect x="241" y="494.30" width="1" height="5.70" fill="#000000"/>
<rect x="242" y="494.30" width="1" height="5.70" fill="#000000"/>
<rect x="243" y="494.30" width="1" height="5.70" fill="#000000"/>
<rect x="244" y="494.30" width="1" height="5.70" fill="#000000"/>
<rect x="245" y="494.30" width="1" height="5.70" fill="#000000"/>
<rect x="246" y="494.30" width="1" height="5.70" fill="#000000"/>
<rect x="247" y="494.30" width="1" height="5.70" fill="#000000"/>
<rect x="248" y="494.30" width="1" height="5.70" fill="#000000"/>
<rect x="249" y="494.30" width="1" height="5.70" fill="#000000"/>
<rect x="250" y="494.30" width="1" height="5.70" fill="#000000"/>
<rect x="251" y="494.30" width="1" height="5.70" fill="#000000"/>
<rect x="252" y="494.30" width="1" height="5.70" fill="#000000"/>
<rect x="253" y="494.30" width="1" height="5.70" fill="#000000"/>
<rect x="254" y="494.30" width="1" height="5.70" fill="#000000"/>
<rect x="255" y="494.30" width="1" height="5.70" fill="#000000"/>
<rect x="256" y="494.30" width="1" height="5.70" fill="#000000"/>
<rect x="257" y="494.30" width="1" height="5.70" fill="#000000"/>
<rect x="258" y="494.30" width="1" height="5.70" fill="#000000"/>
<rect x="259" y="494.30" width="1" height="5.70" fill="#000000"/>
<rect x="260" y="494.30" width="1" height="5.70" fill="#000000"/>
<rect x="261" y="494.30" width="1" height="5.70" fill="#000000"/>
<rect x="262" y="494.30" width="1" height="5.70" fill="#000000"/>
<rect x="263" y="494.30" width="1" height="5.70" fill="#000000"/>
<rect x="264" y="494.30" width="1" height="5.70" fill="#000000"/>
<rect x="265" y="494.30" width="1" height="5.70" fill="#000000"/>
<rect x="266" y="494.30" width="1" height="5.70" fill="#000000"/>
<rect x="267" y="494.30" width="1" height="5.70" fill="#000000"/>
<rect x="268" y="494.30" width="1" height="5.70" fill="#000000"/>
<rect x="269" y="494.30" width="1" height="5.70" fill="#000000"/>
<rect x="270" y="494.30" width="1" height="5.70" fill="#000000"/>
<rect x="271" y="494.30" width="1" height="5.70" fill="#000000"/>
<rect x="272" y="494.30" width="1" height="5.70" fill="#000000"/>
<rect x="273" y="494.30" width="1" height="5.70" fill="#000000"/>
<rect x="274" y="494.30" width="1" height="5.70" fill="#000000"/>
<rect x="275" y="494.30" width="1" height="5.70" fill="#000000"/>
<rect x="276" y="494.30" width="1" height="5.70" fill="#000000"/>
<rect x="277" y="494.30" width="1" height="5.70" fill="#000000"/>
<rect x="278" y="494.30" width="1" height="5.70" fill="#000000"/>
<rect x="279" y="494.30" width="1" height="5.70" fill="#000000"/>
<rect x="280" y="494.30" width="1" height="5.70" fill="#000000"/>
<rect x="281" y="494.30" width="1" height="5.70" fill="#000000"/>
<rect x="282" y="494.30" width="1" height="5.70" fill="#000000"/>
<rect x="283" y="494.30" width="1" height="5.70" fill="#000000"/>
<rect x="284" y="494.30" width="1" height="5.70" fill="#000000"/>
<rect x="285" y="494.30" width="1" height="5.70" fill="#000000"/>
<rect x="286" y="494.30" width="1" height="5.70" fill="#000000"/>
<rect x="287" y="494.30" width="1" height="5.70" fill="#000000"/>
<rect x="288" y="494.30" width="1" height="5.70" fill="#000000"/>
<rect x="289" y="494.30" width="1" height="5.70" fill="#000000"/>
<rect x="290" y="494.30" width="1" height="5.70" fill="#000000"/>
<rect x="291" y="494.30" width="1" height="5.70" fill="#000000"/>
<rect x="292" y="494.30" width="1" height="5.70" fill="#000000"/>
<rect x="293" y="494.30" width="1" height="5.70" fill="#000000"/>
<rect x="294" y="494.30" width="1" height="5.70" fill="#000000"/>
<rect x="295" y="494.30" width="1" height="5.70" fill="#202020"/>
<rect x="296" y="494.30" width="1" height="5.70" fill="#161616"/>
<rect x="297" y="494.30" width="1" height="5.70" fill="#000000"/>
<rect x="298" y="494.30" width="1" height="5.70" fill="#8b8b8b"/>
<rect x="299" y="494.30" width="1" height="5.70" fill="#000000"/>
<rect x="300" y="494.30" width="1" height="5.70" fill="#000000"/>
<rect x="301" y="494.30" width="1" height="5.70" fill="#000000"/>
<rect x="302" y="494.30" width="1" height="5.70" fill="#313131"/>
<rect x="303" y="494.30" width="1" height="5.70" fill="#000000"/>
<rect x="304" y="494.30" width="1" height="5.70" fill="#ababab"/>
<rect x="305" y="494.30" width="1" height="5.70" fill="#797979"/>
<rect x="306" y="494.30" width="1" height="5.70" fill="#2f2f2f"/>
<rect x="307" y="494.30" width="1" height="5.70" fill="#000000"/>
<rect x="308" y="494.30" width="1" height="5.70" fill="#090909"/>
<rect x="309" y="494.30" width="1" height="5.70" fill="#666666"/>
<rect x="310" y="494.30" width="1" height="5.70" fill="#858585"/>
<rect x="311" y="494.30" width="1" height="5.70" fill="#5d5d5d"/>
<rect x="312" y="494.30" width="1" height="5.70" fill="#9e9e9e"/>
<rect x="313" y="494.30" width="1" height="5.70" fill="#696969"/>
<rect x="314" y="494.30" width="1" height="5.70" fill="#000000"/>
<rect x="315" y="494.30" width="1" height="5.70" fill="#a1a1a1"/>
<rect x="316" y="494.30" width="1" height="5.70" fill="#000000"/>
<rect x="317" y="494.30" width="1" height="5.70" fill="#4a4a4a"/>
<rect x="318" y="494.30" width="1" height="5.70" fill="#656565"/>
<rect x="319" y="494.30" width="1" height="5.70" fill="#000000"/>
<rect x="320" y="494.30" width="1" height="5.70" fill="#000000"/>
<rect x="321" y="494.30" width="1" height="5.70" fill="#757575"/>
<rect x="322" y="494.30" width="1" height="5.70" fill="#2e2e2e"/>
<rect x="323" y="494.30" width="1" height="5.70" fill="#8c8c8c"/>
<rect x="324" y="494.30" width="1" height="5.70" fill="#353535"/>
<rect x="325" y="494.30" width="1" height="5.70" fill="#000000"/>
<rect x="326" y="494.30" width="1" height="5.70" fill="#5f5f5f"/>
<rect x="327" y="494.30" width="1" height="5.70" fill="#585858"/>
<rect x="328" y="494.30" width="1" height="5.70" fill="#000000"/>
<rect x="329" y="494.30" width="1" height="5.70" fill="#545454"/>
<rect x="330" y="494.30" width="1" height="5.70" fill="#616161"/>
<rect x="331" y="494.30" width="1" height="5.70" fill="#000000"/>
<rect x="332" y="494.30" width="1" height="5.70" fill="#2c2c2c"/>
<rect x="333" y="494.30" width="1" height="5.70" fill="#000000"/>
<rect x="334" y="494.30" width="1" height="5.70" fill="#000000"/>
<rect x="335" y="494.30" width="1" height="5.70" fill="#373737"/>
<rect x="336" y="494.30" width="1" height="5.70" fill="#000000"/>
<rect x="337" y="494.30" width="1" height="5.70" fill="#0d0d0d"/>
<rect x="338" y="494.30" width="1" height="5.70" fill="#6d6d6d"/>
<rect x="339" y="494.30" width="1" height="5.70" fill="#060606"/>
<rect x="340" y="494.30" width="1" height="5.70" fill="#000000"/>
<rect x="341" y="494.30" width="1" height="5.70" fill="#9d9d9d"/>
<rect x="342" y="494.30" width="1" height="5.70" fill="#000000"/>
<rect x="343" y="494.30" width="1" height="5.70" fill="#000000"/>
<rect x="344" y="494.30" width="1" height="5.70" fill="#303030"/>
<rect x="345" y="494.30" width="1" height="5.70" fill="#8f8f8f"/>
<rect x="346" y="494.30" width="1" height="5.70" fill="#0c0c0c"/>
<rect x="347" y="494.30" width="1" height="5.70" fill="#818181"/>
<rect x="348" y="494.30" width="1" height="5.70" fill="#000000"/>
<rect x="349" y="494.30" width="1" height="5.70" fill="#000000"/>
<rect x="350" y="494.30" width="1" height="5.70" fill="#3c3c3c"/>
<rect x="351" y="494.30" width="1" height="5.70" fill="#0e0e0e"/>
<rect x="352" y="494.30" width="1" height="5.70" fill="#5c5c5c"/>
<rect x="353" y="494.30" width="1" height="5.70" fill="#a4a4a4"/>
<rect x="354" y="494.30" width="1" height="5.70" fill="#000000"/>
<rect x="355" y="494.30" width="1" height="5.70" fill="#939393"/>
<rect x="356" y="494.30" width="1" height="5.70" fill="#828282"/>
<rect x="357" y="494.30" width="1" height="5.70" fill="#707070"/>
<rect x="358" y="494.30" width="1" height="5.70" fill="#9d9d9d"/>
<rect x="359" y="494.30" width="1" height="5.70" fill="#292929"/>
<rect x="360" y="494.30" width="1" height="5.70" fill="#a1a1a1"/>
<rect x="361" y="494.30" width="1" height="5.70" fill="#000000"/>
<rect x="362" y="494.30" width="1" height="5.70" fill="#000000"/>
<rect x="363" y="494.30" width="1" height="5.70" fill="#2e2e2e"/>
<rect x="364" y="494.30" width="1" height="5.70" fill="#141414"/>
<rect x="365" y="494.30" width="1" height="5.70" fill="#353535"/>
<rect x="366" y="494.30" width="1" height="5.70" fill="#999999"/>
<rect x="367" y="494.30" width="1" height="5.70" fill="#000000"/>
<rect x="368" y="494.30" width="1" height="5.70" fill="#747474"/>
<rect x="369" y="494.30" width="1" height="5.70" fill="#979797"/>
<rect x="370" y="494.30" width="1" height="5.70" fill="#333333"/>
<rect x="371" y="494.30" width="1" height="5.70" fill="#161616"/>
<rect x="372" y="494.30" width="1" height="5.70" fill="#555555"/>
<rect x="373" y="494.30" width="1" height="5.70" fill="#000000"/>
<rect x="374" y="494.30" width="1" height="5.70" fill="#a4a4a4"/>
<rect x="375" y="494.30" width="1" height="5.70" fill="#8b8b8b"/>
<rect x="376" y="494.30" width="1" height="5.70" fill="#000000"/>
<rect x="377" y="494.30" width="1" height="5.70" fill="#acacac"/>
<rect x="378" y="494.30" width="1" height="5.70" fill="#434343"/>
<rect x="379" y="494.30" width="1" height="5.70" fill="#bbbbbb"/>
<rect x="380" y="494.30" width="1" height="5.70" fill="#4d4d4d"/>
<rect x="381" y="494.30" width="1" height="5.70" fill="#6e6e6e"/>
<rect x="382" y="494.30" width="1" height="5.70" fill="#898989"/>
<rect x="383" y="494.30" width="1" height="5.70" fill="#7b7b7b"/>
<rect x="384" y="494.30" width="1" height="5.70" fill="#bfbfbf"/>
<rect x="385" y="494.30" width="1" height="5.70" fill="#b4b4b4"/>
<rect x="386" y="494.30" width="1" height="5.70" fill="#afafaf"/>
<rect x="387" y="494.30" width="1" height="5.70" fill="#cccccc"/>
<rect x="388" y="494.30" width="1" height="5.70" fill="#333333"/>
<rect x="389" y="494.30" width="1" height="5.70" fill="#d2d2d2"/>
<rect x="390" y="494.30" width="1" height="5.70" fill="#adadad"/>
<rect x="391" y="494.30" width="1" height="5.70" fill="#454545"/>
<rect x="392" y="494.30" width="1" height="5.70" fill="#828282"/>
<rect x="393" y="494.30" width="1" height="5.70" fill="#acacac"/>
<rect x="394" y="494.30" width="1" height="5.70" fill="#494949"/>
<rect x="395" y="494.30" width="1" height="5.70" fill="#7f7f7f"/>
<rect x="396" y="494.30" width="1" height="5.70" fill="#383838"/>
<rect x="397" y="494.30" width="1" height="5.70" fill="#858585"/>
<rect x="398" y="494.30" width="1" height="5.70" fill="#999999"/>
<rect x="399" y="494.30" width="1" height="5.70" fill="#ababab"/>
<rect x="400" y="494.30" width="1" height="5.70" fill="#8e8e8e"/>
<rect x="401" y="494.30" width="1" height="5.70" fill="#b6b6b6"/>
<rect x="402" y="494.30" width="1" height="5.70" fill="#bfbfbf"/>
<rect x="403" y="494.30" width="1" height="5.70" fill="#8b8b8b"/>
<rect x="404" y="494.30" width="1" height="5.70" fill="#9d9d9d"/>
<rect x="405" y="494.30" width="1" height="5.70" fill="#afafaf"/>
<rect x="406" y="494.30" width="1" height="5.70" fill="#8f8f8f"/>
<rect x="407" y="494.30" width="1" height="5.70" fill="#b8b8b8"/>
<rect x="408" y="494.30" width="1" height="5.70" fill="#959595"/>
<rect x="409" y="494.30" width="1" height="5.70" fill="#898989"/>
<rect x="410" y="494.30" width="1" height="5.70" fill="#b8b8b8"/>
<rect x="411" y="494.30" width="1" height="5.70" fill="#bbbbbb"/>
<rect x="412" y="494.30" width="1" height="5.70" fill="#b5b5b5"/>
<rect x="413" y="494.30" width="1" height="5.70" fill="#656565"/>
<rect x="414" y="494.30" width="1" height="5.70" fill="#919191"/>
<rect x="415" y="494.30" width="1" height="5.70" fill="#838383"/>
<rect x="416" y="494.30" width="1" height="5.70" fill="#b7b7b7"/>
<rect x="417" y="494.30" width="1" height="5.70" fill="#7a7a7a"/>
<rect x="418" y="494.30" width="1" height="5.70" fill="#5b5b5b"/>
<rect x="419" y="494.30" width="1" height="5.70" fill="#979797"/>
<rect x="420" y="494.30" width="1" height="5.70" fill="#787878"/>
<rect x="421" y="494.30" width="1" height="5.70" fill="#8a8a8a"/>
<rect x="422" y="494.30" width="1" height="5.70" fill="#cccccc"/>
<rect x="423" y="494.30" width="1" height="5.70" fill="#b1b1b1"/>
<rect x="424" y="494.30" width="1" height="5.70" fill="#676767"/>
<rect x="425" y="494.30" width="1" height="5.70" fill="#b7b7b7"/>
<rect x="426" y="494.30" width="1" height="5.70" fill="#b9b9b9"/>
<rect x="427" y="494.30" width="1" height="5.70" fill="#797979"/>
<rect x="428" y="494.30" width="1" height="5.70" fill="#979797"/>
<rect x="429" y="494.30" width="1" height="5.70" fill="#acacac"/>
<rect x="430" y="494.30" width="1" height="5.70" fill="#d8d8d8"/>
<rect x="431" y="494.30" width="1" height="5.70" fill="#979797"/>
<rect x="432" y="494.30" width="1" height="5.70" fill="#848484"/>
<rect x="433" y="494.30" width="1" height="5.70" fill="#cdcdcd"/>
<rect x="434" y="494.30" width="1" height="5.70" fill="#a9a9a9"/>
<rect x="435" y="494.30" width="1" height="5.70" fill="#b0b0b0"/>
<rect x="436" y="494.30" width="1" height="5.70" fill="#adadad"/>
<rect x="437" y="494.30" width="1" height="5.70" fill="#939393"/>
<rect x="438" y="494.30" width="1" height="5.70" fill="#9b9b9b"/>
<rect x="439" y="494.30" width="1" height="5.70" fill="#d8d8d8"/>
<rect x="440" y="494.30" width="1" height="5.70" fill="#c1c1c1"/>
<rect x="441" y="494.30" width="1" height="5.70" fill="#acacac"/>
<rect x="442" y="494.30" width="1" height="5.70" fill="#aaaaaa"/>
<rect x="443" y="494.30" width="1" height="5.70" fill="#6e6e6e"/>
<rect x="444" y="494.30" width="1" height="5.70" fill="#a5a5a5"/>
<rect x="445" y="494.30" width="1" height="5.70" fill="#adadad"/>
<rect x="446" y="494.30" width="1" height="5.70" fill="#bcbcbc"/>
<rect x="447" y="494.30" width="1" height="5.70" fill="#c9c9c9"/>
<rect x="448" y="494.30" width="1" height="5.70" fill="#606060"/>
<rect x="449" y="494.30" width="1" height="5.70" fill="#8c8c8c"/>
<rect x="450" y="494.30" width="1" height="5.70" fill="#858585"/>
<rect x="451" y="494.30" width="1" height="5.70" fill="#d2d2d2"/>
<rect x="452" y="494.30" width="1" height="5.70" fill="#d7d7d7"/>
<rect x="453" y="494.30" width="1" height="5.70" fill="#b4b4b4"/>
<rect x="454" y="494.30" width="1" height="5.70" fill="#b8b8b8"/>
<rect x="455" y="494.30" width="1" height="5.70" fill="#c6c6c6"/>
<rect x="456" y="494.30" width="1" height="5.70" fill="#b7b7b7"/>
<rect x="457" y="494.30" width="1" height="5.70" fill="#d1d1d1"/>
<rect x="458" y="494.30" width="1" height="5.70" fill="#9a9a9a"/>
<rect x="459" y="494.30" width="1" height="5.70" fill="#a1a1a1"/>
<rect x="460" y="494.30" width="1" height="5.70" fill="#929292"/>
<rect x="461" y="494.30" width="1" height="5.70" fill="#c9c9c9"/>
<rect x="462" y="494.30" width="1" height="5.70" fill="#919191"/>
<rect x="463" y="494.30" width="1" height="5.70" fill="#b0b0b0"/>
<rect x="464" y="494.30" width="1" height="5.70" fill="#b8b8b8"/>
<rect x="465" y="494.30" width="1" height="5.70" fill="#8d8d8d"/>
<rect x="466" y="494.30" width="1" height="5.70" fill="#9a9a9a"/>
<rect x="467" y="494.30" width="1" height="5.70" fill="#9b9b9b"/>
<rect x="468" y="494.30" width="1" height="5.70" fill="#c0c0c0"/>
<rect x="469" y="494.30" width="1" height="5.70" fill="#b2b2b2"/>
<rect x="470" y="494.30" width="1" height="5.70" fill="#9f9f9f"/>
<rect x="471" y="494.30" width="1" height="5.70" fill="#838383"/>
<rect x="472" y="494.30" width="1" height="5.70" fill="#8e8e8e"/>
<rect x="473" y="494.30" width="1" height="5.70" fill="#e0e0e0"/>
<rect x="474" y="494.30" width="1" height="5.70" fill="#8c8c8c"/>
<rect x="475" y="494.30" width="1" height="5.70" fill="#939393"/>
<rect x="476" y="494.30" width="1" height="5.70" fill="#a4a4a4"/>
<rect x="477" y="494.30" width="1" height="5.70" fill="#838383"/>
<rect x="478" y="494.30" width="1" height="5.70" fill="#8f8f8f"/>
<rect x="479" y="494.30" width="1" height="5.70" fill="#c3c3c3"/>
<rect x="480" y="494.30" width="1" height="5.70" fill="#dcdcdc"/>
<rect x="481" y="494.30" width="1" height="5.70" fill="#bdbdbd"/>
<rect x="482" y="494.30" width="1" height="5.70" fill="#c2c2c2"/>
<rect x="483" y="494.30" width="1" height="5.70" fill="#c3c3c3"/>
<rect x="484" y="494.30" width="1" height="5.70" fill="#dadada"/>
<rect x="485" y="494.30" width="1" height="5.70" fill="#c2c2c2"/>
<rect x="486" y="494.30" width="1" height="5.70" fill="#bbbbbb"/>
<rect x="487" y="494.30" width="1" height="5.70" fill="#bfbfbf"/>
<rect x="488" y="494.30" width="1" height="5.70" fill="#d5d5d5"/>
<rect x="489" y="494.30" width="1" height="5.70" fill="#c8c8c8"/>
<rect x="490" y="494.30" width="1" height="5.70" fill="#c8c8c8"/>
<rect x="491" y="494.30" width="1" height="5.70" fill="#dbdbdb"/>
<rect x="492" y="494.30" width="1" height="5.70" fill="#acacac"/>
<rect x="493" y="494.30" width="1" height="5.70" fill="#e7e7e7"/>
<rect x="494" y="494.30" width="1" height="5.70" fill="#bebebe"/>
<rect x="495" y="494.30" width="1" height="5.70" fill="#d0d0d0"/>
<rect x="496" y="494.30" width="1" height="5.70" fill="#bdbdbd"/>
<rect x="497" y="494.30" width="1" height="5.70" fill="#e6e6e6"/>
<rect x="498" y="494.30" width="1" height="5.70" fill="#e8e8e8"/>
<rect x="499" y="494.30" width="1" height="5.70" fill="#d6d6d6"/>
<rect x="500" y="494.30" width="1" height="5.70" fill="#e9e9e9"/>
<rect x="501" y="494.30" width="1" height="5.70" fill="#e1e1e1"/>
<rect x="502" y="494.30" width="1" height="5.70" fill="#f0f0f0"/>
<rect x="503" y="494.30" width="1" height="5.70" fill="#e2e2e2"/>
<rect x="504" y="494.30" width="1" height="5.70" fill="#d6d6d6"/>
<rect x="505" y="494.30" width="1" height="5.70" fill="#e5e5e5"/>
<rect x="506" y="494.30" width="1" height="5.70" fill="#dadada"/>
<rect x="507" y="494.30" width="1" height="5.70" fill="#f4f4f4"/>
<rect x="508" y="494.30" width="1" height="5.70" fill="#e3e3e3"/>
<rect x="509" y="494.30" width="1" height="5.70" fill="#d5d5d5"/>
<rect x="510" y="494.30" width="1" height="5.70" fill="#dadada"/>
<rect x="511" y="494.30" width="1" height="5.70" fill="#efefef"/>
<rect x="512" y="494.30" width="1" height="5.70" fill="#d6d6d6"/>
<rect x="513" y="494.30" width="1" height="5.70" fill="#eeeeee"/>
<rect x="514" y="494.30" width="1" height="5.70" fill="#e6e6e6"/>
<line x1="121.50" y1="485.50" x2="121.50" y2="492.00" class="rd"/>
<line x1="146.20" y1="485.50" x2="146.20" y2="492.00" class="rd"/>
<line x1="180.00" y1="485.50" x2="180.00" y2="492.00" class="rd"/>
<line x1="190.40" y1="485.50" x2="190.40" y2="492.00" class="rd"/>
<line x1="192.40" y1="485.50" x2="192.40" y2="492.00" class="rd"/>
<line x1="194.50" y1="485.50" x2="194.50" y2="492.00" class="rd"/>
<line x1="200.40" y1="485.50" x2="200.40" y2="492.00" class="rd"/>
<line x1="202.20" y1="485.50" x2="202.20" y2="492.00" class="rd"/>
<line x1="218.80" y1="485.50" x2="218.80" y2="492.00" class="rd"/>
<line x1="226.50" y1="485.50" x2="226.50" y2="492.00" class="rd"/>
<line x1="257.00" y1="485.50" x2="257.00" y2="492.00" class="rd"/>
<line x1="277.20" y1="485.50" x2="277.20" y2="492.00" class="rd"/>
<line x1="283.40" y1="485.50" x2="283.40" y2="492.00" class="rd"/>
<line x1="284.90" y1="485.50" x2="284.90" y2="492.00" class="rd"/>
<line x1="293.50" y1="485.50" x2="293.50" y2="492.00" class="rd"/>
<line x1="295.40" y1="485.50" x2="295.40" y2="492.00" class="rd"/>
<line x1="297.70" y1="485.50" x2="297.70" y2="492.00" class="rd"/>
<line x1="323.80" y1="485.50" x2="323.80" y2="492.00" class="rd"/>
<line x1="334.20" y1="485.50" x2="334.20" y2="492.00" class="rd"/>
<line x1="352.20" y1="485.50" x2="352.20" y2="492.00" class="rd"/>
<line x1="353.80" y1="485.50" x2="353.80" y2="492.00" class="rd"/>
<line x1="366.50" y1="485.50" x2="366.50" y2="492.00" class="rd"/>
<line x1="400.80" y1="485.50" x2="400.80" y2="492.00" class="rd"/>
<line x1="449.20" y1="485.50" x2="449.20" y2="492.00" class="rd"/>
<line x1="80" y1="460.75" x2="514.5" y2="460.75" class="ds"/>
<path d="M125.75,302.88 L125.85,303.73 L125.95,304.57 L126.05,305.41 L126.15,306.24 L126.25,307.07 L126.35,307.89 L126.45,308.71 L126.55,309.53 L126.65,310.34 L126.75,311.14 L126.85,311.94 L126.95,312.74 L127.10,313.93 L127.25,315.11 L127.40,316.27 L127.55,317.43 L127.70,318.58 L127.85,319.72 L128.00,320.85 L128.15,321.97 L128.30,323.08 L128.45,324.18 L128.60,325.27 L128.75,326.35 L128.90,327.43 L129.05,328.49 L129.20,329.55 L129.35,330.60 L129.50,331.64 L129.65,332.67 L129.80,333.69 L129.95,334.70 L130.10,335.71 L130.25,336.71 L130.40,337.69 L130.55,338.68 L130.70,339.65 L130.85,340.61 L131.00,341.57 L131.15,342.52 L131.30,343.46 L131.45,344.39 L131.60,345.32 L131.75,346.24 L131.90,347.15 L132.05,348.05 L132.20,348.95 L132.35,349.83 L132.50,350.72 L132.65,351.59 L132.80,352.46 L132.95,353.32 L133.10,354.17 L133.25,355.01 L133.40,355.85 L133.55,356.69 L133.70,357.51 L133.85,358.33 L134.00,359.14 L134.15,359.95 L134.30,360.75 L134.45,361.54 L134.60,362.32 L134.80,363.36 L135.00,364.39 L135.20,365.41 L135.40,366.41 L135.60,367.40 L135.80,368.39 L136.00,369.36 L136.20,370.32 L136.40,371.28 L136.60,372.22 L136.80,373.15 L137.00,374.07 L137.20,374.98 L137.40,375.89 L137.60,376.78 L137.80,377.66 L138.00,378.53 L138.20,379.40 L138.40,380.25 L138.60,381.10 L138.80,381.94 L139.00,382.77 L139.20,383.59 L139.40,384.40 L139.60,385.20 L139.80,385.99 L140.00,386.78 L140.20,387.55 L140.45,388.51 L140.70,389.46 L140.95,390.39 L141.20,391.32 L141.45,392.23 L141.70,393.13 L141.95,394.01 L142.20,394.89 L142.45,395.75 L142.70,396.60 L142.95,397.44 L143.20,398.27 L143.45,399.09 L143.70,399.90 L143.95,400.70 L144.20,401.49 L144.45,402.26 L144.70,403.03 L145.00,403.94 L145.30,404.83 L145.60,405.71 L145.90,406.58 L146.20,407.43 L146.50,408.27 L146.80,409.09 L147.10,409.91 L147.40,410.71 L147.70,411.50 L148.00,412.27 L148.30,413.04 L148.60,413.79 L148.95,414.66 L149.30,415.50 L149.65,416.34 L150.00,417.16 L150.35,417.96 L150.70,418.75 L151.05,419.52 L151.40,420.29 L151.75,421.03 L152.10,421.77 L152.45,422.49 L152.85,423.30 L153.25,424.09 L153.65,424.87 L154.05,425.63 L154.45,426.38 L154.85,427.11 L155.25,427.83 L155.65,428.53 L156.10,429.30 L156.55,430.06 L157.00,430.80 L157.45,431.52 L157.90,432.23 L158.35,432.92 L158.80,433.59 L159.30,434.32 L159.80,435.04 L160.30,435.74 L160.80,436.41 L161.30,437.08 L161.80,437.72 L162.30,438.35 L162.85,439.03 L163.40,439.68 L163.95,440.32 L164.50,440.95 L165.05,441.55 L165.60,442.14 L166.20,442.76 L166.80,443.37 L167.40,443.96 L168.00,444.53 L168.60,445.08 L169.20,445.62 L169.85,446.19 L170.50,446.74 L171.15,447.27 L171.80,447.78 L172.45,448.28 L173.10,448.76 L173.75,449.23 L174.45,449.72 L175.15,450.19 L175.85,450.64 L176.55,451.08 L177.25,451.50 L177.95,451.91 L178.65,452.31 L179.40,452.72 L180.15,453.11 L180.90,453.49 L181.65,453.85 L182.40,454.20 L183.15,454.54 L183.90,454.86 L184.65,455.17 L185.40,455.47 L186.15,455.76 L186.95,456.05 L187.75,456.33 L188.55,456.60 L189.35,456.86 L190.15,457.10 L190.95,457.34 L191.75,457.56 L192.55,457.77 L193.35,457.97 L194.15,458.16 L194.95,458.34 L195.75,458.52 L196.55,458.68 L197.35,458.83 L198.15,458.97 L198.95,459.10 L199.75,459.23 L200.55,459.34 L201.35,459.45 L202.15,459.55 L202.95,459.64 L203.75,459.73 L204.55,459.80 L205.35,459.87 L206.15,459.93 L206.95,459.99 L207.75,460.04 L208.55,460.08 L209.35,460.11 L210.15,460.14 L210.95,460.17 L211.75,460.18 L212.55,460.20 L213.35,460.20 L214.15,460.20 L214.95,460.20 L215.75,460.19 L216.55,460.17 L217.35,460.15 L218.15,460.13 L218.95,460.10 L219.75,460.06 L220.55,460.02 L221.35,459.98 L222.15,459.93 L222.95,459.88 L223.75,459.82 L224.55,459.76 L225.35,459.69 L226.15,459.62 L226.95,459.55 L227.75,459.47 L228.55,459.39 L229.35,459.30 L230.15,459.22 L230.95,459.12 L231.75,459.03 L232.55,458.93 L233.35,458.83 L234.15,458.72 L234.95,458.61 L235.75,458.50 L236.55,458.38 L237.35,458.27 L238.15,458.15 L238.95,458.02 L239.75,457.90 L240.55,457.77 L241.35,457.64 L242.15,457.50 L242.95,457.37 L243.75,457.23 L244.55,457.08 L245.35,456.94 L246.15,456.79 L246.95,456.64 L247.75,456.49 L248.55,456.33 L249.35,456.17 L250.15,456.01 L250.95,455.85 L251.75,455.68 L252.55,455.51 L253.35,455.34 L254.15,455.16 L254.95,454.99 L255.75,454.81 L256.55,454.62 L257.35,454.44 L258.15,454.25 L258.95,454.06 L259.75,453.86 L260.55,453.67 L261.35,453.47 L262.15,453.27 L262.95,453.07 L263.75,452.86 L264.55,452.65 L265.35,452.44 L266.15,452.22 L266.95,452.00 L267.75,451.78 L268.55,451.56 L269.35,451.33 L270.15,451.10 L270.95,450.87 L271.75,450.63 L272.55,450.39 L273.35,450.15 L274.15,449.90 L274.95,449.65 L275.75,449.40 L276.55,449.14 L277.35,448.88 L278.15,448.62 L278.95,448.35 L279.75,448.07 L280.55,447.80 L281.35,447.52 L282.15,447.23 L282.95,446.94 L283.75,446.65 L284.50,446.37 L285.25,446.09 L286.00,445.80 L286.75,445.51 L287.50,445.21 L288.25,444.92 L289.00,444.61 L289.75,444.30 L290.50,443.99 L291.25,443.67 L292.00,443.35 L292.75,443.02 L293.50,442.69 L294.25,442.36 L295.00,442.02 L295.75,441.67 L296.50,441.32 L297.25,440.96 L298.00,440.60 L298.75,440.23 L299.50,439.86 L300.25,439.48 L301.00,439.09 L301.75,438.70 L302.50,438.31 L303.25,437.90 L304.00,437.49 L304.70,437.11 L305.40,436.71 L306.10,436.31 L306.80,435.91 L307.50,435.50 L308.20,435.08 L308.90,434.66 L309.60,434.23 L310.30,433.79 L311.00,433.35 L311.70,432.90 L312.40,432.44 L313.10,431.98 L313.80,431.51 L314.50,431.03 L315.20,430.55 L315.90,430.06 L316.60,429.56 L317.25,429.08 L317.90,428.61 L318.55,428.12 L319.20,427.63 L319.85,427.13 L320.50,426.62 L321.15,426.11 L321.80,425.59 L322.45,425.06 L323.10,424.52 L323.75,423.98 L324.40,423.43 L325.05,422.87 L325.70,422.30 L326.30,421.76 L326.90,421.22 L327.50,420.67 L328.10,420.12 L328.70,419.56 L329.30,418.98 L329.90,418.41 L330.50,417.82 L331.10,417.23 L331.70,416.62 L332.30,416.01 L332.90,415.40 L333.50,414.77 L334.05,414.19 L334.60,413.60 L335.15,413.01 L335.70,412.40 L336.25,411.79 L336.80,411.18 L337.35,410.55 L337.90,409.92 L338.45,409.28 L339.00,408.64 L339.55,407.98 L340.10,407.32 L340.65,406.65 L341.20,405.98 L341.75,405.29 L342.25,404.66 L342.75,404.03 L343.25,403.39 L343.75,402.74 L344.25,402.08 L344.75,401.42 L345.25,400.75 L345.75,400.08 L346.25,399.40 L346.75,398.71 L347.25,398.01 L347.75,397.31 L348.25,396.60 L348.75,395.88 L349.25,395.16 L349.75,394.43 L350.20,393.76 L350.65,393.09 L351.10,392.42 L351.55,391.74 L352.00,391.05 L352.45,390.35 L352.90,389.65 L353.35,388.95 L353.80,388.24 L354.25,387.52 L354.70,386.79 L355.15,386.06 L355.60,385.33 L356.05,384.59 L356.50,383.84 L356.95,383.08 L357.40,382.32 L357.85,381.55 L358.30,380.78 L358.70,380.08 L359.10,379.38 L359.50,378.68 L359.90,377.97 L360.30,377.25 L360.70,376.53 L361.10,375.80 L361.50,375.07 L361.90,374.33 L362.30,373.59 L362.70,372.84 L363.10,372.08 L363.50,371.32 L363.90,370.55 L364.30,369.78 L364.70,368.99 L365.10,368.21 L365.50,367.41 L365.90,366.61 L366.30,365.80 L366.70,364.99 L367.10,364.17 L367.45,363.44 L367.80,362.71 L368.15,361.98 L368.50,361.24 L368.85,360.49 L369.20,359.74 L369.55,358.99 L369.90,358.22 L370.25,357.46 L370.60,356.68 L370.95,355.90 L371.30,355.11 L371.65,354.32 L372.00,353.52 L372.35,352.72 L372.70,351.91 L373.05,351.09 L373.40,350.27 L373.75,349.44 L374.10,348.60 L374.45,347.76 L374.80,346.91 L375.15,346.06 L375.50,345.19 L375.80,344.45 L376.10,343.70 L376.40,342.94 L376.70,342.18 L377.00,341.42 L377.30,340.64 L377.60,339.87 L377.90,339.09 L378.20,338.30 L378.50,337.50 L378.80,336.71 L379.10,335.90 L379.40,335.09 L379.70,334.28 L380.00,333.45 L380.30,332.63 L380.60,331.79 L380.90,330.95 L381.20,330.11 L381.50,329.26 L381.80,328.40 L382.10,327.54 L382.40,326.67 L382.70,325.79 L383.00,324.91 L383.30,324.02 L383.60,323.12 L383.90,322.22 L384.20,321.31 L384.45,320.54 L384.70,319.78 L384.95,319.00 L385.20,318.23 L385.45,317.44 L385.70,316.66 L385.95,315.86 L386.20,315.07 L386.45,314.27 L386.70,313.46 L386.95,312.65 L387.20,311.83 L387.45,311.01 L387.70,310.18 L387.95,309.34 L388.20,308.51 L388.45,307.66 L388.70,306.81 L388.95,305.96 L389.20,305.10 L389.45,304.23 L389.70,303.36 L389.95,302.48 L390.20,301.60 L390.45,300.71 L390.70,299.81 L390.95,298.91 L391.20,298.01 L391.45,297.09 L391.70,296.18 L391.95,295.25 L392.20,294.32 L392.45,293.38 L392.70,292.44 L392.70,292.44" class="cu"/>
<path d="M109.65,476.92 L110.45,476.85 L111.25,476.79 L112.05,476.72 L112.85,476.65 L113.65,476.58 L114.45,476.52 L115.25,476.44 L116.05,476.37 L116.85,476.30 L117.65,476.23 L118.45,476.15 L119.25,476.08 L120.05,476.00 L120.85,475.93 L121.65,475.85 L122.45,475.77 L123.25,475.69 L124.05,475.61 L124.85,475.53 L125.65,475.45 L126.45,475.37 L127.25,475.28 L128.05,475.20 L128.85,475.11 L129.65,475.03 L130.45,474.94 L131.25,474.86 L132.05,474.77 L132.85,474.68 L133.65,474.60 L134.45,474.51 L135.25,474.42 L136.05,474.33 L136.85,474.24 L137.65,474.15 L138.45,474.06 L139.25,473.97 L140.05,473.88 L140.85,473.79 L141.65,473.70 L142.45,473.61 L143.25,473.52 L144.05,473.43 L144.85,473.34 L145.65,473.25 L146.45,473.16 L147.25,473.07 L148.05,472.98 L148.85,472.89 L149.65,472.80 L150.45,472.71 L151.25,472.62 L152.05,472.53 L152.85,472.45 L153.65,472.36 L154.45,472.27 L155.25,472.19 L156.05,472.10 L156.85,472.02 L157.65,471.94 L158.45,471.86 L159.25,471.78 L160.05,471.70 L160.85,471.62 L161.65,471.54 L162.45,471.46 L163.25,471.39 L164.05,471.31 L164.85,471.24 L165.65,471.17 L166.45,471.10 L167.25,471.03 L168.05,470.96 L168.85,470.90 L169.65,470.83 L170.45,470.77 L171.25,470.71 L172.05,470.65 L172.85,470.59 L173.65,470.54 L174.45,470.48 L175.25,470.43 L176.05,470.38 L176.85,470.33 L177.65,470.28 L178.45,470.23 L179.25,470.19 L180.05,470.14 L180.85,470.10 L181.65,470.06 L182.45,470.02 L183.25,469.98 L184.05,469.95 L184.85,469.91 L185.65,469.88 L186.45,469.84 L187.25,469.81 L188.05,469.78 L188.85,469.75 L189.65,469.72 L190.45,469.70 L191.25,469.67 L192.05,469.65 L192.85,469.62 L193.65,469.60 L194.45,469.58 L195.25,469.56 L196.05,469.54 L196.85,469.52 L197.65,469.50 L198.45,469.48 L199.25,469.46 L200.05,469.45 L200.85,469.43 L201.65,469.42 L202.45,469.40 L203.25,469.39 L204.05,469.38 L204.85,469.36 L205.65,469.35 L206.45,469.34 L207.25,469.33 L208.05,469.31 L208.85,469.30 L209.65,469.29 L210.45,469.28 L211.25,469.27 L212.05,469.26 L212.85,469.25 L213.65,469.24 L214.45,469.23 L215.25,469.21 L216.05,469.20 L216.85,469.19 L217.65,469.18 L218.45,469.17 L219.25,469.16 L220.05,469.14 L220.85,469.13 L221.65,469.12 L222.45,469.10 L223.25,469.09 L224.05,469.07 L224.85,469.05 L225.65,469.04 L226.45,469.02 L227.25,469.00 L228.05,468.98 L228.85,468.96 L229.65,468.94 L230.45,468.92 L231.25,468.90 L232.05,468.87 L232.85,468.85 L233.65,468.82 L234.45,468.80 L235.25,468.77 L236.05,468.75 L236.85,468.72 L237.65,468.69 L238.45,468.66 L239.25,468.63 L240.05,468.60 L240.85,468.57 L241.65,468.54 L242.45,468.50 L243.25,468.47 L244.05,468.43 L244.85,468.40 L245.65,468.36 L246.45,468.33 L247.25,468.29 L248.05,468.25 L248.85,468.21 L249.65,468.17 L250.45,468.13 L251.25,468.09 L252.05,468.05 L252.85,468.01 L253.65,467.96 L254.45,467.92 L255.25,467.87 L256.05,467.83 L256.85,467.78 L257.65,467.73 L258.45,467.68 L259.25,467.63 L260.05,467.58 L260.85,467.53 L261.65,467.48 L262.45,467.43 L263.25,467.38 L264.05,467.32 L264.85,467.27 L265.65,467.21 L266.45,467.16 L267.25,467.10 L268.05,467.04 L268.85,466.98 L269.65,466.92 L270.45,466.86 L271.25,466.80 L272.05,466.74 L272.85,466.68 L273.65,466.61 L274.45,466.55 L275.25,466.48 L276.05,466.41 L276.85,466.35 L277.65,466.28 L278.45,466.21 L279.25,466.14 L280.05,466.07 L280.85,466.00 L281.65,465.92 L282.45,465.85 L283.25,465.78 L284.05,465.70 L284.85,465.62 L285.65,465.55 L286.45,465.47 L287.25,465.39 L288.05,465.31 L288.85,465.23 L289.65,465.15 L290.45,465.06 L291.25,464.98 L292.05,464.90 L292.85,464.81 L293.65,464.72 L294.45,464.64 L295.25,464.55 L296.05,464.46 L296.85,464.37 L297.65,464.28 L298.45,464.19 L299.25,464.09 L300.05,464.00 L300.85,463.90 L301.65,463.81 L302.45,463.71 L303.25,463.61 L304.05,463.51 L304.85,463.41 L305.65,463.31 L306.45,463.21 L307.25,463.11 L308.05,463.00 L308.85,462.90 L309.65,462.79 L310.45,462.68 L311.25,462.57 L312.05,462.46 L312.85,462.35 L313.65,462.24 L314.45,462.13 L315.25,462.02 L316.05,461.90 L316.85,461.79 L317.65,461.67 L318.45,461.55 L319.25,461.43 L320.05,461.31 L320.85,461.19 L321.65,461.07 L322.45,460.95 L323.25,460.82 L324.05,460.70 L324.85,460.57 L325.65,460.45 L326.45,460.32 L327.25,460.19 L328.05,460.06 L328.85,459.93 L329.65,459.79 L330.45,459.66 L331.25,459.52 L332.05,459.39 L332.85,459.25 L333.65,459.11 L334.45,458.97 L335.25,458.83 L336.05,458.69 L336.85,458.55 L337.65,458.41 L338.45,458.26 L339.25,458.12 L340.05,457.97 L340.85,457.82 L341.65,457.67 L342.45,457.52 L343.25,457.37 L344.05,457.22 L344.85,457.06 L345.65,456.91 L346.45,456.75 L347.25,456.59 L348.05,456.43 L348.85,456.27 L349.65,456.11 L350.45,455.95 L351.25,455.78 L352.05,455.62 L352.85,455.45 L353.65,455.28 L354.45,455.11 L355.25,454.94 L356.05,454.76 L356.85,454.59 L357.65,454.41 L358.45,454.23 L359.25,454.05 L360.05,453.87 L360.85,453.69 L361.65,453.50 L362.45,453.32 L363.25,453.13 L364.05,452.94 L364.85,452.75 L365.65,452.55 L366.45,452.36 L367.25,452.16 L368.05,451.96 L368.85,451.76 L369.65,451.56 L370.45,451.35 L371.25,451.15 L372.05,450.94 L372.85,450.73 L373.65,450.51 L374.45,450.30 L375.25,450.08 L376.05,449.86 L376.85,449.64 L377.65,449.42 L378.45,449.19 L379.25,448.96 L380.05,448.73 L380.85,448.50 L381.65,448.26 L382.45,448.02 L383.25,447.78 L384.05,447.54 L384.85,447.30 L385.65,447.05 L386.45,446.80 L387.25,446.54 L388.05,446.29 L388.85,446.03 L389.65,445.77 L390.45,445.50 L391.25,445.24 L392.05,444.97 L392.85,444.69 L393.65,444.42 L394.45,444.14 L395.25,443.86 L396.05,443.57 L396.85,443.28 L397.65,442.99 L398.45,442.70 L399.20,442.42 L399.95,442.13 L400.70,441.85 L401.45,441.56 L402.20,441.27 L402.95,440.97 L403.70,440.68 L404.45,440.37 L405.20,440.07 L405.95,439.76 L406.70,439.45 L407.45,439.14 L408.20,438.82 L408.95,438.50 L409.70,438.17 L410.45,437.84 L411.20,437.51 L411.95,437.17 L412.70,436.83 L413.45,436.49 L414.20,436.14 L414.95,435.79 L415.70,435.43 L416.45,435.07 L417.20,434.71 L417.95,434.34 L418.70,433.97 L419.45,433.59 L420.20,433.21 L420.95,432.82 L421.70,432.43 L422.45,432.04 L423.20,431.64 L423.95,431.23 L424.70,430.82 L425.45,430.41 L426.15,430.02 L426.85,429.63 L427.55,429.23 L428.25,428.83 L428.95,428.42 L429.65,428.01 L430.35,427.60 L431.05,427.18 L431.75,426.76 L432.45,426.33 L433.15,425.90 L433.85,425.47 L434.55,425.03 L435.25,424.58 L435.95,424.14 L436.65,423.68 L437.35,423.23 L438.05,422.77 L438.75,422.30 L439.45,421.83 L440.15,421.36 L440.85,420.88 L441.55,420.40 L442.25,419.91 L442.95,419.42 L443.65,418.92 L444.35,418.42 L445.00,417.96 L445.65,417.48 L446.30,417.01 L446.95,416.53 L447.60,416.04 L448.25,415.56 L448.90,415.06 L449.55,414.57 L450.20,414.07 L450.85,413.57 L451.50,413.06 L452.15,412.55 L452.80,412.03 L453.45,411.51 L454.10,410.99 L454.75,410.46 L455.40,409.93 L456.05,409.40 L456.70,408.86 L457.35,408.32 L458.00,407.77 L458.65,407.22 L459.30,406.67 L459.95,406.11 L460.60,405.55 L461.25,404.98 L461.90,404.41 L462.50,403.88 L463.10,403.35 L463.70,402.81 L464.30,402.27 L464.90,401.73 L465.50,401.19 L466.10,400.64 L466.70,400.09 L467.30,399.53 L467.90,398.97 L468.50,398.41 L469.10,397.84 L469.70,397.28 L470.30,396.70 L470.90,396.13 L471.50,395.55 L472.10,394.97 L472.70,394.39 L473.30,393.80 L473.90,393.21 L474.50,392.62 L475.10,392.02 L475.70,391.42 L476.30,390.82 L476.90,390.22 L477.50,389.61 L478.10,389.00 L478.70,388.38 L479.30,387.77 L479.90,387.15 L480.50,386.52 L481.10,385.90 L481.70,385.27 L482.30,384.64 L482.90,384.01 L483.45,383.43 L484.00,382.84 L484.55,382.25 L485.10,381.67 L485.65,381.07 L486.20,380.48 L486.75,379.89 L487.30,379.29 L487.85,378.69 L488.40,378.09 L488.95,377.49 L489.50,376.88 L490.05,376.27 L490.60,375.67 L491.15,375.05 L491.70,374.44 L492.25,373.83 L492.80,373.21 L493.35,372.60 L493.90,371.98 L494.45,371.36 L495.00,370.74 L495.55,370.11 L496.10,369.49 L496.65,368.86 L497.20,368.23 L497.75,367.61 L498.10,367.21" class="cu"/>
<path d="M108.85,445.20 L109.55,445.63 L110.25,446.04 L110.95,446.45 L111.65,446.85 L112.35,447.25 L113.10,447.66 L113.85,448.06 L114.60,448.46 L115.35,448.84 L116.10,449.22 L116.85,449.59 L117.60,449.96 L118.35,450.31 L119.10,450.66 L119.85,451.00 L120.60,451.33 L121.35,451.66 L122.10,451.98 L122.85,452.29 L123.60,452.59 L124.35,452.89 L125.10,453.19 L125.85,453.47 L126.60,453.75 L127.40,454.05 L128.20,454.34 L129.00,454.62 L129.80,454.89 L130.60,455.16 L131.40,455.42 L132.20,455.68 L133.00,455.93 L133.80,456.18 L134.60,456.42 L135.40,456.65 L136.20,456.88 L137.00,457.11 L137.80,457.33 L138.60,457.54 L139.40,457.75 L140.20,457.96 L141.00,458.16 L141.80,458.36 L142.60,458.55 L143.40,458.74 L144.20,458.92 L145.00,459.10 L145.80,459.28 L146.60,459.45 L147.40,459.62 L148.20,459.78 L149.00,459.94 L149.80,460.10 L150.60,460.26 L151.40,460.41 L152.20,460.55 L153.00,460.70 L153.80,460.84 L154.60,460.97 L155.40,461.11 L156.20,461.24 L157.00,461.37 L157.80,461.49 L158.60,461.61 L159.40,461.73 L160.20,461.85 L161.00,461.96 L161.80,462.08 L162.60,462.18 L163.40,462.29 L164.20,462.39 L165.00,462.49 L165.80,462.59 L166.60,462.69 L167.40,462.78 L168.20,462.87 L169.00,462.96 L169.80,463.05 L170.60,463.13 L171.40,463.21 L172.20,463.29 L173.00,463.37 L173.80,463.44 L174.60,463.52 L175.40,463.59 L176.20,463.66 L177.00,463.72 L177.80,463.79 L178.60,463.85 L179.40,463.91 L180.20,463.97 L181.00,464.03 L181.80,464.09 L182.60,464.14 L183.40,464.19 L184.20,464.24 L185.00,464.29 L185.80,464.34 L186.60,464.38 L187.40,464.42 L188.20,464.46 L189.00,464.50 L189.80,464.54 L190.60,464.58 L191.40,464.61 L192.20,464.65 L193.00,464.68 L193.80,464.71 L194.60,464.73 L195.40,464.76 L196.20,464.79 L197.00,464.81 L197.80,464.83 L198.60,464.85 L199.40,464.87 L200.20,464.89 L201.00,464.90 L201.80,464.92 L202.60,464.93 L203.40,464.94 L204.20,464.95 L205.00,464.96 L205.80,464.97 L206.60,464.97 L207.40,464.98 L208.20,464.98 L209.00,464.98 L209.80,464.98 L210.60,464.98 L211.40,464.98 L212.20,464.97 L213.00,464.97 L213.80,464.96 L214.60,464.95 L215.40,464.94 L216.20,464.93 L217.00,464.92 L217.80,464.91 L218.60,464.89 L219.40,464.87 L220.20,464.86 L221.00,464.84 L221.80,464.82 L222.60,464.79 L223.40,464.77 L224.20,464.75 L225.00,464.72 L225.80,464.69 L226.60,464.66 L227.40,464.63 L228.20,464.60 L229.00,464.57 L229.80,464.53 L230.60,464.50 L231.40,464.46 L232.20,464.42 L233.00,464.38 L233.80,464.34 L234.60,464.30 L235.40,464.26 L236.20,464.21 L237.00,464.16 L237.80,464.11 L238.60,464.07 L239.40,464.01 L240.20,463.96 L241.00,463.91 L241.80,463.85 L242.60,463.80 L243.40,463.74 L244.20,463.68 L245.00,463.62 L245.80,463.55 L246.60,463.49 L247.40,463.42 L248.20,463.36 L249.00,463.29 L249.80,463.22 L250.60,463.14 L251.40,463.07 L252.20,463.00 L253.00,462.92 L253.80,462.84 L254.60,462.76 L255.40,462.68 L256.20,462.60 L257.00,462.51 L257.80,462.43 L258.60,462.34 L259.40,462.25 L260.20,462.16 L261.00,462.06 L261.80,461.97 L262.60,461.87 L263.40,461.77 L264.20,461.67 L265.00,461.57 L265.80,461.47 L266.60,461.36 L267.40,461.25 L268.20,461.14 L269.00,461.03 L269.80,460.92 L270.60,460.80 L271.40,460.69 L272.20,460.57 L273.00,460.45 L273.80,460.32 L274.60,460.20 L275.40,460.07 L276.20,459.94 L277.00,459.81 L277.80,459.68 L278.60,459.54 L279.40,459.41 L280.20,459.27 L281.00,459.12 L281.80,458.98 L282.60,458.83 L283.40,458.68 L284.20,458.53 L285.00,458.38 L285.80,458.22 L286.60,458.06 L287.40,457.90 L288.20,457.74 L289.00,457.58 L289.80,457.41 L290.60,457.24 L291.40,457.06 L292.20,456.89 L293.00,456.71 L293.80,456.53 L294.60,456.34 L295.40,456.16 L296.20,455.97 L297.00,455.78 L297.80,455.58 L298.60,455.38 L299.40,455.18 L300.20,454.98 L301.00,454.77 L301.80,454.57 L302.60,454.35 L303.40,454.14 L304.20,453.92 L305.00,453.70 L305.80,453.47 L306.60,453.24 L307.40,453.01 L308.20,452.78 L309.00,452.54 L309.80,452.30 L310.60,452.06 L311.40,451.81 L312.20,451.56 L313.00,451.30 L313.80,451.04 L314.60,450.78 L315.40,450.51 L316.20,450.24 L317.00,449.97 L317.80,449.69 L318.60,449.41 L319.40,449.13 L320.20,448.84 L321.00,448.55 L321.80,448.25 L322.55,447.97 L323.30,447.68 L324.05,447.39 L324.80,447.10 L325.55,446.80 L326.30,446.50 L327.05,446.20 L327.80,445.89 L328.55,445.58 L329.30,445.26 L330.05,444.94 L330.80,444.62 L331.55,444.29 L332.30,443.96 L333.05,443.62 L333.80,443.28 L334.55,442.94 L335.30,442.59 L336.05,442.23 L336.80,441.88 L337.55,441.51 L338.30,441.15 L339.05,440.78 L339.80,440.40 L340.55,440.02 L341.30,439.63 L342.05,439.24 L342.80,438.85 L343.55,438.45 L344.30,438.04 L345.05,437.63 L345.80,437.22 L346.50,436.83 L347.20,436.43 L347.90,436.03 L348.60,435.62 L349.30,435.21 L350.00,434.80 L350.70,434.38 L351.40,433.95 L352.10,433.52 L352.80,433.09 L353.50,432.65 L354.20,432.21 L354.90,431.76 L355.60,431.31 L356.30,430.85 L357.00,430.38 L357.70,429.91 L358.40,429.44 L359.10,428.96 L359.80,428.48 L360.50,427.99 L361.20,427.49 L361.90,426.99 L362.55,426.52 L363.20,426.04 L363.85,425.56 L364.50,425.08 L365.15,424.59 L365.80,424.09 L366.45,423.59 L367.10,423.09 L367.75,422.58 L368.40,422.06 L369.05,421.54 L369.70,421.02 L370.35,420.49 L371.00,419.95 L371.65,419.41 L372.30,418.86 L372.95,418.31 L373.60,417.75 L374.25,417.19 L374.90,416.62 L375.50,416.09 L376.10,415.55 L376.70,415.01 L377.30,414.47 L377.90,413.92 L378.50,413.36 L379.10,412.80 L379.70,412.24 L380.30,411.67 L380.90,411.09 L381.50,410.51 L382.10,409.93 L382.70,409.34 L383.30,408.74 L383.90,408.14 L384.50,407.54 L385.10,406.92 L385.70,406.31 L386.30,405.68 L386.90,405.06 L387.50,404.42 L388.05,403.84 L388.60,403.25 L389.15,402.65 L389.70,402.05 L390.25,401.45 L390.80,400.84 L391.35,400.22 L391.90,399.60 L392.45,398.98 L393.00,398.35 L393.55,397.72 L394.10,397.08 L394.65,396.43 L395.20,395.79 L395.75,395.13 L396.30,394.47 L396.85,393.81 L397.40,393.14 L397.95,392.47 L398.50,391.79 L399.05,391.10 L399.55,390.48 L400.05,389.84 L400.55,389.21 L401.05,388.57 L401.55,387.92 L402.05,387.28 L402.55,386.62 L403.05,385.96 L403.55,385.30 L404.05,384.64 L404.55,383.96 L405.05,383.29 L405.55,382.61 L406.05,381.92 L406.55,381.23 L407.05,380.54 L407.55,379.84 L408.05,379.14 L408.55,378.43 L409.05,377.71 L409.55,377.00 L410.05,376.27 L410.55,375.55 L411.05,374.81 L411.50,374.15 L411.95,373.48 L412.40,372.81 L412.85,372.14 L413.30,371.46 L413.75,370.77 L414.20,370.09 L414.65,369.40 L415.10,368.70 L415.55,368.00 L416.00,367.30 L416.45,366.59 L416.90,365.88 L417.35,365.16 L417.80,364.44 L418.25,363.72 L418.70,362.99 L419.15,362.26 L419.60,361.52 L420.05,360.78 L420.50,360.03 L420.95,359.28 L421.40,358.53 L421.85,357.77 L422.30,357.01 L422.75,356.24 L423.20,355.47 L423.65,354.69 L424.05,354.00 L424.45,353.30 L424.85,352.60 L425.25,351.90 L425.65,351.19 L426.05,350.48 L426.45,349.77 L426.85,349.05 L427.25,348.33 L427.65,347.60 L428.05,346.88 L428.45,346.14 L428.85,345.41 L429.25,344.67 L429.65,343.93 L430.05,343.18 L430.45,342.43 L430.85,341.68 L431.25,340.92 L431.65,340.16 L432.05,339.39 L432.45,338.62 L432.85,337.85 L433.25,337.08 L433.65,336.30 L434.05,335.51 L434.45,334.73 L434.85,333.93 L435.25,333.14 L435.65,332.34 L436.05,331.54 L436.45,330.73 L436.85,329.92 L437.25,329.11 L437.65,328.29 L438.05,327.47 L438.40,326.75 L438.75,326.03 L439.10,325.30 L439.45,324.57 L439.80,323.84 L440.15,323.10 L440.50,322.36 L440.85,321.62 L441.20,320.87 L441.55,320.12 L441.90,319.37 L442.25,318.62 L442.60,317.86 L442.95,317.10 L443.30,316.34 L443.65,315.57 L444.00,314.80 L444.35,314.03 L444.70,313.26 L445.05,312.48 L445.40,311.70 L445.75,310.91 L446.10,310.13 L446.45,309.34 L446.80,308.54 L447.15,307.75 L447.50,306.95 L447.85,306.14 L448.20,305.34 L448.55,304.53 L448.90,303.72 L449.25,302.90 L449.60,302.08 L449.95,301.26 L450.30,300.44 L450.65,299.61 L451.00,298.78 L451.35,297.95 L451.70,297.11 L452.05,296.27 L452.40,295.43 L452.75,294.58 L453.10,293.74 L453.45,292.88 L453.80,292.03 L453.90,291.78" class="ck"/>
<text x="0.00" y="567.90" class="lt" transform="translate(1.20,0) scale(1.000,1)">C</text>
<line x1="79.2" y1="567.20" x2="79.2" y2="755.60" class="ay"/>
<line x1="71.2" y1="754.90" x2="79.9" y2="754.90" class="ay"/>
<text x="63.6" y="759.40" class="tk" text-anchor="end">0</text>
<line x1="71.2" y1="736.20" x2="79.9" y2="736.20" class="ay"/>
<text x="63.6" y="740.70" class="tk" text-anchor="end">1</text>
<line x1="71.2" y1="717.50" x2="79.9" y2="717.50" class="ay"/>
<text x="63.6" y="722.00" class="tk" text-anchor="end">2</text>
<line x1="71.2" y1="680.10" x2="79.9" y2="680.10" class="ay"/>
<text x="63.6" y="684.60" class="tk" text-anchor="end">4</text>
<line x1="71.2" y1="642.70" x2="79.9" y2="642.70" class="ay"/>
<text x="63.6" y="647.20" class="tk" text-anchor="end">6</text>
<line x1="71.2" y1="605.30" x2="79.9" y2="605.30" class="ay"/>
<text x="63.6" y="609.80" class="tk" text-anchor="end">8</text>
<line x1="71.2" y1="567.90" x2="79.9" y2="567.90" class="ay"/>
<text x="63.6" y="572.40" class="tk" text-anchor="end">10</text>
<text transform="translate(31,663.50) rotate(-90)" class="yl" text-anchor="middle">Estimated hazard ratio</text>
<line x1="79.00" y1="773.50" x2="516.00" y2="773.50" class="ax"/>
<line x1="95.00" y1="773.50" x2="95.00" y2="781.00" class="ax"/>
<text x="95.40" y="793.70" class="tk" text-anchor="middle">9</text>
<line x1="145.62" y1="773.50" x2="145.62" y2="781.00" class="ax"/>
<text x="146.03" y="793.70" class="tk" text-anchor="middle">10</text>
<line x1="196.25" y1="773.50" x2="196.25" y2="781.00" class="ax"/>
<text x="196.65" y="793.70" class="tk" text-anchor="middle">11</text>
<line x1="246.88" y1="773.50" x2="246.88" y2="781.00" class="ax"/>
<text x="247.28" y="793.70" class="tk" text-anchor="middle">12</text>
<line x1="297.50" y1="773.50" x2="297.50" y2="781.00" class="ax"/>
<text x="297.90" y="793.70" class="tk" text-anchor="middle">13</text>
<line x1="348.12" y1="773.50" x2="348.12" y2="781.00" class="ax"/>
<text x="348.52" y="793.70" class="tk" text-anchor="middle">14</text>
<line x1="398.75" y1="773.50" x2="398.75" y2="781.00" class="ax"/>
<text x="399.15" y="793.70" class="tk" text-anchor="middle">15</text>
<line x1="449.38" y1="773.50" x2="449.38" y2="781.00" class="ax"/>
<text x="449.77" y="793.70" class="tk" text-anchor="middle">16</text>
<line x1="500.00" y1="773.50" x2="500.00" y2="781.00" class="ax"/>
<text x="500.40" y="793.70" class="tk" text-anchor="middle">17</text>
<text x="0" y="813.75" class="xl" text-anchor="middle" transform="translate(297.50,0) scale(1.050,1)">Hb (g/dL)</text>
<text x="262.60" y="660.40" class="pt">p<0.001</text>
<rect x="79" y="767.80" width="1" height="5.40" fill="#a6a6a6"/>
<rect x="80" y="767.80" width="1" height="5.40" fill="#a1a1a1"/>
<rect x="81" y="767.80" width="1" height="5.40" fill="#a8a8a8"/>
<rect x="82" y="767.80" width="1" height="5.40" fill="#676767"/>
<rect x="83" y="767.80" width="1" height="5.40" fill="#666666"/>
<rect x="84" y="767.80" width="1" height="5.40" fill="#c3c3c3"/>
<rect x="85" y="767.80" width="1" height="5.40" fill="#a9a9a9"/>
<rect x="86" y="767.80" width="1" height="5.40" fill="#aeaeae"/>
<rect x="87" y="767.80" width="1" height="5.40" fill="#7d7d7d"/>
<rect x="88" y="767.80" width="1" height="5.40" fill="#ababab"/>
<rect x="89" y="767.80" width="1" height="5.40" fill="#cacaca"/>
<rect x="90" y="767.80" width="1" height="5.40" fill="#b3b3b3"/>
<rect x="91" y="767.80" width="1" height="5.40" fill="#999999"/>
<rect x="92" y="767.80" width="1" height="5.40" fill="#767676"/>
<rect x="93" y="767.80" width="1" height="5.40" fill="#696969"/>
<rect x="94" y="767.80" width="1" height="5.40" fill="#6a6a6a"/>
<rect x="95" y="767.80" width="1" height="5.40" fill="#8c8c8c"/>
<rect x="96" y="767.80" width="1" height="5.40" fill="#464646"/>
<rect x="97" y="767.80" width="1" height="5.40" fill="#494949"/>
<rect x="98" y="767.80" width="1" height="5.40" fill="#a4a4a4"/>
<rect x="99" y="767.80" width="1" height="5.40" fill="#c6c6c6"/>
<rect x="100" y="767.80" width="1" height="5.40" fill="#2f2f2f"/>
<rect x="101" y="767.80" width="1" height="5.40" fill="#a8a8a8"/>
<rect x="102" y="767.80" width="1" height="5.40" fill="#8a8a8a"/>
<rect x="103" y="767.80" width="1" height="5.40" fill="#616161"/>
<rect x="104" y="767.80" width="1" height="5.40" fill="#747474"/>
<rect x="105" y="767.80" width="1" height="5.40" fill="#d2d2d2"/>
<rect x="106" y="767.80" width="1" height="5.40" fill="#838383"/>
<rect x="107" y="767.80" width="1" height="5.40" fill="#d2d2d2"/>
<rect x="108" y="767.80" width="1" height="5.40" fill="#939393"/>
<rect x="109" y="767.80" width="1" height="5.40" fill="#888888"/>
<rect x="110" y="767.80" width="1" height="5.40" fill="#5d5d5d"/>
<rect x="111" y="767.80" width="1" height="5.40" fill="#cfcfcf"/>
<rect x="112" y="767.80" width="1" height="5.40" fill="#686868"/>
<rect x="113" y="767.80" width="1" height="5.40" fill="#cfcfcf"/>
<rect x="114" y="767.80" width="1" height="5.40" fill="#3b3b3b"/>
<rect x="115" y="767.80" width="1" height="5.40" fill="#c9c9c9"/>
<rect x="116" y="767.80" width="1" height="5.40" fill="#a4a4a4"/>
<rect x="117" y="767.80" width="1" height="5.40" fill="#383838"/>
<rect x="118" y="767.80" width="1" height="5.40" fill="#313131"/>
<rect x="119" y="767.80" width="1" height="5.40" fill="#cdcdcd"/>
<rect x="120" y="767.80" width="1" height="5.40" fill="#878787"/>
<rect x="121" y="767.80" width="1" height="5.40" fill="#585858"/>
<rect x="122" y="767.80" width="1" height="5.40" fill="#6c6c6c"/>
<rect x="123" y="767.80" width="1" height="5.40" fill="#5e5e5e"/>
<rect x="124" y="767.80" width="1" height="5.40" fill="#c9c9c9"/>
<rect x="125" y="767.80" width="1" height="5.40" fill="#7e7e7e"/>
<rect x="126" y="767.80" width="1" height="5.40" fill="#757575"/>
<rect x="127" y="767.80" width="1" height="5.40" fill="#868686"/>
<rect x="128" y="767.80" width="1" height="5.40" fill="#7a7a7a"/>
<rect x="129" y="767.80" width="1" height="5.40" fill="#858585"/>
<rect x="130" y="767.80" width="1" height="5.40" fill="#c9c9c9"/>
<rect x="131" y="767.80" width="1" height="5.40" fill="#d0d0d0"/>
<rect x="132" y="767.80" width="1" height="5.40" fill="#9a9a9a"/>
<rect x="133" y="767.80" width="1" height="5.40" fill="#aeaeae"/>
<rect x="134" y="767.80" width="1" height="5.40" fill="#858585"/>
<rect x="135" y="767.80" width="1" height="5.40" fill="#cacaca"/>
<rect x="136" y="767.80" width="1" height="5.40" fill="#a8a8a8"/>
<rect x="137" y="767.80" width="1" height="5.40" fill="#434343"/>
<rect x="138" y="767.80" width="1" height="5.40" fill="#cfcfcf"/>
<rect x="139" y="767.80" width="1" height="5.40" fill="#bfbfbf"/>
<rect x="140" y="767.80" width="1" height="5.40" fill="#7e7e7e"/>
<rect x="141" y="767.80" width="1" height="5.40" fill="#888888"/>
<rect x="142" y="767.80" width="1" height="5.40" fill="#777777"/>
<rect x="143" y="767.80" width="1" height="5.40" fill="#969696"/>
<rect x="144" y="767.80" width="1" height="5.40" fill="#313131"/>
<rect x="145" y="767.80" width="1" height="5.40" fill="#606060"/>
<rect x="146" y="767.80" width="1" height="5.40" fill="#a0a0a0"/>
<rect x="147" y="767.80" width="1" height="5.40" fill="#bcbcbc"/>
<rect x="148" y="767.80" width="1" height="5.40" fill="#959595"/>
<rect x="149" y="767.80" width="1" height="5.40" fill="#333333"/>
<rect x="150" y="767.80" width="1" height="5.40" fill="#909090"/>
<rect x="151" y="767.80" width="1" height="5.40" fill="#6e6e6e"/>
<rect x="152" y="767.80" width="1" height="5.40" fill="#252525"/>
<rect x="153" y="767.80" width="1" height="5.40" fill="#000000"/>
<rect x="154" y="767.80" width="1" height="5.40" fill="#000000"/>
<rect x="155" y="767.80" width="1" height="5.40" fill="#010101"/>
<rect x="156" y="767.80" width="1" height="5.40" fill="#494949"/>
<rect x="157" y="767.80" width="1" height="5.40" fill="#313131"/>
<rect x="158" y="767.80" width="1" height="5.40" fill="#474747"/>
<rect x="159" y="767.80" width="1" height="5.40" fill="#000000"/>
<rect x="160" y="767.80" width="1" height="5.40" fill="#717171"/>
<rect x="161" y="767.80" width="1" height="5.40" fill="#2a2a2a"/>
<rect x="162" y="767.80" width="1" height="5.40" fill="#1c1c1c"/>
<rect x="163" y="767.80" width="1" height="5.40" fill="#444444"/>
<rect x="164" y="767.80" width="1" height="5.40" fill="#202020"/>
<rect x="165" y="767.80" width="1" height="5.40" fill="#292929"/>
<rect x="166" y="767.80" width="1" height="5.40" fill="#000000"/>
<rect x="167" y="767.80" width="1" height="5.40" fill="#747474"/>
<rect x="168" y="767.80" width="1" height="5.40" fill="#656565"/>
<rect x="169" y="767.80" width="1" height="5.40" fill="#6a6a6a"/>
<rect x="170" y="767.80" width="1" height="5.40" fill="#7f7f7f"/>
<rect x="171" y="767.80" width="1" height="5.40" fill="#a3a3a3"/>
<rect x="172" y="767.80" width="1" height="5.40" fill="#000000"/>
<rect x="173" y="767.80" width="1" height="5.40" fill="#000000"/>
<rect x="174" y="767.80" width="1" height="5.40" fill="#6d6d6d"/>
<rect x="175" y="767.80" width="1" height="5.40" fill="#929292"/>
<rect x="176" y="767.80" width="1" height="5.40" fill="#8a8a8a"/>
<rect x="177" y="767.80" width="1" height="5.40" fill="#5c5c5c"/>
<rect x="178" y="767.80" width="1" height="5.40" fill="#838383"/>
<rect x="179" y="767.80" width="1" height="5.40" fill="#414141"/>
<rect x="180" y="767.80" width="1" height="5.40" fill="#000000"/>
<rect x="181" y="767.80" width="1" height="5.40" fill="#6e6e6e"/>
<rect x="182" y="767.80" width="1" height="5.40" fill="#080808"/>
<rect x="183" y="767.80" width="1" height="5.40" fill="#000000"/>
<rect x="184" y="767.80" width="1" height="5.40" fill="#979797"/>
<rect x="185" y="767.80" width="1" height="5.40" fill="#484848"/>
<rect x="186" y="767.80" width="1" height="5.40" fill="#aaaaaa"/>
<rect x="187" y="767.80" width="1" height="5.40" fill="#595959"/>
<rect x="188" y="767.80" width="1" height="5.40" fill="#5f5f5f"/>
<rect x="189" y="767.80" width="1" height="5.40" fill="#525252"/>
<rect x="190" y="767.80" width="1" height="5.40" fill="#a7a7a7"/>
<rect x="191" y="767.80" width="1" height="5.40" fill="#000000"/>
<rect x="192" y="767.80" width="1" height="5.40" fill="#242424"/>
<rect x="193" y="767.80" width="1" height="5.40" fill="#8a8a8a"/>
<rect x="194" y="767.80" width="1" height="5.40" fill="#666666"/>
<rect x="195" y="767.80" width="1" height="5.40" fill="#acacac"/>
<rect x="196" y="767.80" width="1" height="5.40" fill="#9a9a9a"/>
<rect x="197" y="767.80" width="1" height="5.40" fill="#2f2f2f"/>
<rect x="198" y="767.80" width="1" height="5.40" fill="#585858"/>
<rect x="199" y="767.80" width="1" height="5.40" fill="#525252"/>
<rect x="200" y="767.80" width="1" height="5.40" fill="#171717"/>
<rect x="201" y="767.80" width="1" height="5.40" fill="#707070"/>
<rect x="202" y="767.80" width="1" height="5.40" fill="#1c1c1c"/>
<rect x="203" y="767.80" width="1" height="5.40" fill="#7e7e7e"/>
<rect x="204" y="767.80" width="1" height="5.40" fill="#000000"/>
<rect x="205" y="767.80" width="1" height="5.40" fill="#121212"/>
<rect x="206" y="767.80" width="1" height="5.40" fill="#303030"/>
<rect x="207" y="767.80" width="1" height="5.40" fill="#7c7c7c"/>
<rect x="208" y="767.80" width="1" height="5.40" fill="#000000"/>
<rect x="209" y="767.80" width="1" height="5.40" fill="#000000"/>
<rect x="210" y="767.80" width="1" height="5.40" fill="#000000"/>
<rect x="211" y="767.80" width="1" height="5.40" fill="#898989"/>
<rect x="212" y="767.80" width="1" height="5.40" fill="#7d7d7d"/>
<rect x="213" y="767.80" width="1" height="5.40" fill="#626262"/>
<rect x="214" y="767.80" width="1" height="5.40" fill="#000000"/>
<rect x="215" y="767.80" width="1" height="5.40" fill="#acacac"/>
<rect x="216" y="767.80" width="1" height="5.40" fill="#b1b1b1"/>
<rect x="217" y="767.80" width="1" height="5.40" fill="#a2a2a2"/>
<rect x="218" y="767.80" width="1" height="5.40" fill="#000000"/>
<rect x="219" y="767.80" width="1" height="5.40" fill="#1b1b1b"/>
<rect x="220" y="767.80" width="1" height="5.40" fill="#a5a5a5"/>
<rect x="221" y="767.80" width="1" height="5.40" fill="#adadad"/>
<rect x="222" y="767.80" width="1" height="5.40" fill="#000000"/>
<rect x="223" y="767.80" width="1" height="5.40" fill="#727272"/>
<rect x="224" y="767.80" width="1" height="5.40" fill="#adadad"/>
<rect x="225" y="767.80" width="1" height="5.40" fill="#a4a4a4"/>
<rect x="226" y="767.80" width="1" height="5.40" fill="#000000"/>
<rect x="227" y="767.80" width="1" height="5.40" fill="#969696"/>
<rect x="228" y="767.80" width="1" height="5.40" fill="#252525"/>
<rect x="229" y="767.80" width="1" height="5.40" fill="#000000"/>
<rect x="230" y="767.80" width="1" height="5.40" fill="#000000"/>
<rect x="231" y="767.80" width="1" height="5.40" fill="#000000"/>
<rect x="232" y="767.80" width="1" height="5.40" fill="#000000"/>
<rect x="233" y="767.80" width="1" height="5.40" fill="#000000"/>
<rect x="234" y="767.80" width="1" height="5.40" fill="#000000"/>
<rect x="235" y="767.80" width="1" height="5.40" fill="#000000"/>
<rect x="236" y="767.80" width="1" height="5.40" fill="#000000"/>
<rect x="237" y="767.80" width="1" height="5.40" fill="#000000"/>
<rect x="238" y="767.80" width="1" height="5.40" fill="#000000"/>
<rect x="239" y="767.80" width="1" height="5.40" fill="#000000"/>
<rect x="240" y="767.80" width="1" height="5.40" fill="#000000"/>
<rect x="241" y="767.80" width="1" height="5.40" fill="#000000"/>
<rect x="242" y="767.80" width="1" height="5.40" fill="#000000"/>
<rect x="243" y="767.80" width="1" height="5.40" fill="#000000"/>
<rect x="244" y="767.80" width="1" height="5.40" fill="#000000"/>
<rect x="245" y="767.80" width="1" height="5.40" fill="#000000"/>
<rect x="246" y="767.80" width="1" height="5.40" fill="#000000"/>
<rect x="247" y="767.80" width="1" height="5.40" fill="#000000"/>
<rect x="248" y="767.80" width="1" height="5.40" fill="#000000"/>
<rect x="249" y="767.80" width="1" height="5.40" fill="#000000"/>
<rect x="250" y="767.80" width="1" height="5.40" fill="#000000"/>
<rect x="251" y="767.80" width="1" height="5.40" fill="#000000"/>
<rect x="252" y="767.80" width="1" height="5.40" fill="#000000"/>
<rect x="253" y="767.80" width="1" height="5.40" fill="#000000"/>
<rect x="254" y="767.80" width="1" height="5.40" fill="#000000"/>
<rect x="255" y="767.80" width="1" height="5.40" fill="#000000"/>
<rect x="256" y="767.80" width="1" height="5.40" fill="#000000"/>
<rect x="257" y="767.80" width="1" height="5.40" fill="#000000"/>
<rect x="258" y="767.80" width="1" height="5.40" fill="#000000"/>
<rect x="259" y="767.80" width="1" height="5.40" fill="#000000"/>
<rect x="260" y="767.80" width="1" height="5.40" fill="#000000"/>
<rect x="261" y="767.80" width="1" height="5.40" fill="#000000"/>
<rect x="262" y="767.80" width="1" height="5.40" fill="#000000"/>
<rect x="263" y="767.80" width="1" height="5.40" fill="#000000"/>
<rect x="264" y="767.80" width="1" height="5.40" fill="#000000"/>
<rect x="265" y="767.80" width="1" height="5.40" fill="#000000"/>
<rect x="266" y="767.80" width="1" height="5.40" fill="#000000"/>
<rect x="267" y="767.80" width="1" height="5.40" fill="#000000"/>
<rect x="268" y="767.80" width="1" height="5.40" fill="#000000"/>
<rect x="269" y="767.80" width="1" height="5.40" fill="#000000"/>
<rect x="270" y="767.80" width="1" height="5.40" fill="#000000"/>
<rect x="271" y="767.80" width="1" height="5.40" fill="#000000"/>
<rect x="272" y="767.80" width="1" height="5.40" fill="#000000"/>
<rect x="273" y="767.80" width="1" height="5.40" fill="#000000"/>
<rect x="274" y="767.80" width="1" height="5.40" fill="#000000"/>
<rect x="275" y="767.80" width="1" height="5.40" fill="#000000"/>
<rect x="276" y="767.80" width="1" height="5.40" fill="#000000"/>
<rect x="277" y="767.80" width="1" height="5.40" fill="#000000"/>
<rect x="278" y="767.80" width="1" height="5.40" fill="#000000"/>
<rect x="279" y="767.80" width="1" height="5.40" fill="#000000"/>
<rect x="280" y="767.80" width="1" height="5.40" fill="#000000"/>
<rect x="281" y="767.80" width="1" height="5.40" fill="#000000"/>
<rect x="282" y="767.80" width="1" height="5.40" fill="#000000"/>
<rect x="283" y="767.80" width="1" height="5.40" fill="#000000"/>
<rect x="284" y="767.80" width="1" height="5.40" fill="#000000"/>
<rect x="285" y="767.80" width="1" height="5.40" fill="#000000"/>
<rect x="286" y="767.80" width="1" height="5.40" fill="#000000"/>
<rect x="287" y="767.80" width="1" height="5.40" fill="#000000"/>
<rect x="288" y="767.80" width="1" height="5.40" fill="#000000"/>
<rect x="289" y="767.80" width="1" height="5.40" fill="#000000"/>
<rect x="290" y="767.80" width="1" height="5.40" fill="#000000"/>
<rect x="291" y="767.80" width="1" height="5.40" fill="#000000"/>
<rect x="292" y="767.80" width="1" height="5.40" fill="#000000"/>
<rect x="293" y="767.80" width="1" height="5.40" fill="#000000"/>
<rect x="294" y="767.80" width="1" height="5.40" fill="#000000"/>
<rect x="295" y="767.80" width="1" height="5.40" fill="#000000"/>
<rect x="296" y="767.80" width="1" height="5.40" fill="#000000"/>
<rect x="297" y="767.80" width="1" height="5.40" fill="#000000"/>
<rect x="298" y="767.80" width="1" height="5.40" fill="#000000"/>
<rect x="299" y="767.80" width="1" height="5.40" fill="#000000"/>
<rect x="300" y="767.80" width="1" height="5.40" fill="#000000"/>
<rect x="301" y="767.80" width="1" height="5.40" fill="#000000"/>
<rect x="302" y="767.80" width="1" height="5.40" fill="#000000"/>
<rect x="303" y="767.80" width="1" height="5.40" fill="#000000"/>
<rect x="304" y="767.80" width="1" height="5.40" fill="#000000"/>
<rect x="305" y="767.80" width="1" height="5.40" fill="#000000"/>
<rect x="306" y="767.80" width="1" height="5.40" fill="#000000"/>
<rect x="307" y="767.80" width="1" height="5.40" fill="#000000"/>
<rect x="308" y="767.80" width="1" height="5.40" fill="#000000"/>
<rect x="309" y="767.80" width="1" height="5.40" fill="#000000"/>
<rect x="310" y="767.80" width="1" height="5.40" fill="#000000"/>
<rect x="311" y="767.80" width="1" height="5.40" fill="#000000"/>
<rect x="312" y="767.80" width="1" height="5.40" fill="#000000"/>
<rect x="313" y="767.80" width="1" height="5.40" fill="#000000"/>
<rect x="314" y="767.80" width="1" height="5.40" fill="#000000"/>
<rect x="315" y="767.80" width="1" height="5.40" fill="#000000"/>
<rect x="316" y="767.80" width="1" height="5.40" fill="#000000"/>
<rect x="317" y="767.80" width="1" height="5.40" fill="#000000"/>
<rect x="318" y="767.80" width="1" height="5.40" fill="#000000"/>
<rect x="319" y="767.80" width="1" height="5.40" fill="#000000"/>
<rect x="320" y="767.80" width="1" height="5.40" fill="#000000"/>
<rect x="321" y="767.80" width="1" height="5.40" fill="#000000"/>
<rect x="322" y="767.80" width="1" height="5.40" fill="#000000"/>
<rect x="323" y="767.80" width="1" height="5.40" fill="#000000"/>
<rect x="324" y="767.80" width="1" height="5.40" fill="#000000"/>
<rect x="325" y="767.80" width="1" height="5.40" fill="#000000"/>
<rect x="326" y="767.80" width="1" height="5.40" fill="#000000"/>
<rect x="327" y="767.80" width="1" height="5.40" fill="#000000"/>
<rect x="328" y="767.80" width="1" height="5.40" fill="#000000"/>
<rect x="329" y="767.80" width="1" height="5.40" fill="#000000"/>
<rect x="330" y="767.80" width="1" height="5.40" fill="#000000"/>
<rect x="331" y="767.80" width="1" height="5.40" fill="#000000"/>
<rect x="332" y="767.80" width="1" height="5.40" fill="#000000"/>
<rect x="333" y="767.80" width="1" height="5.40" fill="#000000"/>
<rect x="334" y="767.80" width="1" height="5.40" fill="#000000"/>
<rect x="335" y="767.80" width="1" height="5.40" fill="#000000"/>
<rect x="336" y="767.80" width="1" height="5.40" fill="#000000"/>
<rect x="337" y="767.80" width="1" height="5.40" fill="#000000"/>
<rect x="338" y="767.80" width="1" height="5.40" fill="#000000"/>
<rect x="339" y="767.80" width="1" height="5.40" fill="#000000"/>
<rect x="340" y="767.80" width="1" height="5.40" fill="#000000"/>
<rect x="341" y="767.80" width="1" height="5.40" fill="#000000"/>
<rect x="342" y="767.80" width="1" height="5.40" fill="#000000"/>
<rect x="343" y="767.80" width="1" height="5.40" fill="#000000"/>
<rect x="344" y="767.80" width="1" height="5.40" fill="#000000"/>
<rect x="345" y="767.80" width="1" height="5.40" fill="#000000"/>
<rect x="346" y="767.80" width="1" height="5.40" fill="#000000"/>
<rect x="347" y="767.80" width="1" height="5.40" fill="#000000"/>
<rect x="348" y="767.80" width="1" height="5.40" fill="#000000"/>
<rect x="349" y="767.80" width="1" height="5.40" fill="#000000"/>
<rect x="350" y="767.80" width="1" height="5.40" fill="#000000"/>
<rect x="351" y="767.80" width="1" height="5.40" fill="#000000"/>
<rect x="352" y="767.80" width="1" height="5.40" fill="#000000"/>
<rect x="353" y="767.80" width="1" height="5.40" fill="#000000"/>
<rect x="354" y="767.80" width="1" height="5.40" fill="#000000"/>
<rect x="355" y="767.80" width="1" height="5.40" fill="#000000"/>
<rect x="356" y="767.80" width="1" height="5.40" fill="#000000"/>
<rect x="357" y="767.80" width="1" height="5.40" fill="#000000"/>
<rect x="358" y="767.80" width="1" height="5.40" fill="#000000"/>
<rect x="359" y="767.80" width="1" height="5.40" fill="#000000"/>
<rect x="360" y="767.80" width="1" height="5.40" fill="#000000"/>
<rect x="361" y="767.80" width="1" height="5.40" fill="#000000"/>
<rect x="362" y="767.80" width="1" height="5.40" fill="#000000"/>
<rect x="363" y="767.80" width="1" height="5.40" fill="#000000"/>
<rect x="364" y="767.80" width="1" height="5.40" fill="#000000"/>
<rect x="365" y="767.80" width="1" height="5.40" fill="#000000"/>
<rect x="366" y="767.80" width="1" height="5.40" fill="#000000"/>
<rect x="367" y="767.80" width="1" height="5.40" fill="#000000"/>
<rect x="368" y="767.80" width="1" height="5.40" fill="#000000"/>
<rect x="369" y="767.80" width="1" height="5.40" fill="#000000"/>
<rect x="370" y="767.80" width="1" height="5.40" fill="#000000"/>
<rect x="371" y="767.80" width="1" height="5.40" fill="#000000"/>
<rect x="372" y="767.80" width="1" height="5.40" fill="#000000"/>
<rect x="373" y="767.80" width="1" height="5.40" fill="#000000"/>
<rect x="374" y="767.80" width="1" height="5.40" fill="#000000"/>
<rect x="375" y="767.80" width="1" height="5.40" fill="#000000"/>
<rect x="376" y="767.80" width="1" height="5.40" fill="#000000"/>
<rect x="377" y="767.80" width="1" height="5.40" fill="#000000"/>
<rect x="378" y="767.80" width="1" height="5.40" fill="#000000"/>
<rect x="379" y="767.80" width="1" height="5.40" fill="#000000"/>
<rect x="380" y="767.80" width="1" height="5.40" fill="#000000"/>
<rect x="381" y="767.80" width="1" height="5.40" fill="#000000"/>
<rect x="382" y="767.80" width="1" height="5.40" fill="#000000"/>
<rect x="383" y="767.80" width="1" height="5.40" fill="#000000"/>
<rect x="384" y="767.80" width="1" height="5.40" fill="#000000"/>
<rect x="385" y="767.80" width="1" height="5.40" fill="#000000"/>
<rect x="386" y="767.80" width="1" height="5.40" fill="#000000"/>
<rect x="387" y="767.80" width="1" height="5.40" fill="#000000"/>
<rect x="388" y="767.80" width="1" height="5.40" fill="#000000"/>
<rect x="389" y="767.80" width="1" height="5.40" fill="#000000"/>
<rect x="390" y="767.80" width="1" height="5.40" fill="#000000"/>
<rect x="391" y="767.80" width="1" height="5.40" fill="#000000"/>
<rect x="392" y="767.80" width="1" height="5.40" fill="#000000"/>
<rect x="393" y="767.80" width="1" height="5.40" fill="#000000"/>
<rect x="394" y="767.80" width="1" height="5.40" fill="#000000"/>
<rect x="395" y="767.80" width="1" height="5.40" fill="#000000"/>
<rect x="396" y="767.80" width="1" height="5.40" fill="#000000"/>
<rect x="397" y="767.80" width="1" height="5.40" fill="#000000"/>
<rect x="398" y="767.80" width="1" height="5.40" fill="#000000"/>
<rect x="399" y="767.80" width="1" height="5.40" fill="#000000"/>
<rect x="400" y="767.80" width="1" height="5.40" fill="#adadad"/>
<rect x="401" y="767.80" width="1" height="5.40" fill="#424242"/>
<rect x="402" y="767.80" width="1" height="5.40" fill="#000000"/>
<rect x="403" y="767.80" width="1" height="5.40" fill="#000000"/>
<rect x="404" y="767.80" width="1" height="5.40" fill="#3a3a3a"/>
<rect x="405" y="767.80" width="1" height="5.40" fill="#3c3c3c"/>
<rect x="406" y="767.80" width="1" height="5.40" fill="#000000"/>
<rect x="407" y="767.80" width="1" height="5.40" fill="#b7b7b7"/>
<rect x="408" y="767.80" width="1" height="5.40" fill="#000000"/>
<rect x="409" y="767.80" width="1" height="5.40" fill="#000000"/>
<rect x="410" y="767.80" width="1" height="5.40" fill="#000000"/>
<rect x="411" y="767.80" width="1" height="5.40" fill="#a5a5a5"/>
<rect x="412" y="767.80" width="1" height="5.40" fill="#000000"/>
<rect x="413" y="767.80" width="1" height="5.40" fill="#565656"/>
<rect x="414" y="767.80" width="1" height="5.40" fill="#a2a2a2"/>
<rect x="415" y="767.80" width="1" height="5.40" fill="#000000"/>
<rect x="416" y="767.80" width="1" height="5.40" fill="#5f5f5f"/>
<rect x="417" y="767.80" width="1" height="5.40" fill="#949494"/>
<rect x="418" y="767.80" width="1" height="5.40" fill="#000000"/>
<rect x="419" y="767.80" width="1" height="5.40" fill="#1d1d1d"/>
<rect x="420" y="767.80" width="1" height="5.40" fill="#000000"/>
<rect x="421" y="767.80" width="1" height="5.40" fill="#000000"/>
<rect x="422" y="767.80" width="1" height="5.40" fill="#575757"/>
<rect x="423" y="767.80" width="1" height="5.40" fill="#5d5d5d"/>
<rect x="424" y="767.80" width="1" height="5.40" fill="#1f1f1f"/>
<rect x="425" y="767.80" width="1" height="5.40" fill="#000000"/>
<rect x="426" y="767.80" width="1" height="5.40" fill="#000000"/>
<rect x="427" y="767.80" width="1" height="5.40" fill="#000000"/>
<rect x="428" y="767.80" width="1" height="5.40" fill="#000000"/>
<rect x="429" y="767.80" width="1" height="5.40" fill="#4f4f4f"/>
<rect x="430" y="767.80" width="1" height="5.40" fill="#000000"/>
<rect x="431" y="767.80" width="1" height="5.40" fill="#828282"/>
<rect x="432" y="767.80" width="1" height="5.40" fill="#9c9c9c"/>
<rect x="433" y="767.80" width="1" height="5.40" fill="#000000"/>
<rect x="434" y="767.80" width="1" height="5.40" fill="#000000"/>
<rect x="435" y="767.80" width="1" height="5.40" fill="#494949"/>
<rect x="436" y="767.80" width="1" height="5.40" fill="#383838"/>
<rect x="437" y="767.80" width="1" height="5.40" fill="#000000"/>
<rect x="438" y="767.80" width="1" height="5.40" fill="#a5a5a5"/>
<rect x="439" y="767.80" width="1" height="5.40" fill="#000000"/>
<rect x="440" y="767.80" width="1" height="5.40" fill="#292929"/>
<rect x="441" y="767.80" width="1" height="5.40" fill="#1a1a1a"/>
<rect x="442" y="767.80" width="1" height="5.40" fill="#c6c6c6"/>
<rect x="443" y="767.80" width="1" height="5.40" fill="#b0b0b0"/>
<rect x="444" y="767.80" width="1" height="5.40" fill="#666666"/>
<rect x="445" y="767.80" width="1" height="5.40" fill="#090909"/>
<rect x="446" y="767.80" width="1" height="5.40" fill="#bfbfbf"/>
<rect x="447" y="767.80" width="1" height="5.40" fill="#b2b2b2"/>
<rect x="448" y="767.80" width="1" height="5.40" fill="#2b2b2b"/>
<rect x="449" y="767.80" width="1" height="5.40" fill="#a6a6a6"/>
<rect x="450" y="767.80" width="1" height="5.40" fill="#525252"/>
<rect x="451" y="767.80" width="1" height="5.40" fill="#0a0a0a"/>
<rect x="452" y="767.80" width="1" height="5.40" fill="#828282"/>
<rect x="453" y="767.80" width="1" height="5.40" fill="#505050"/>
<rect x="454" y="767.80" width="1" height="5.40" fill="#c7c7c7"/>
<rect x="455" y="767.80" width="1" height="5.40" fill="#b7b7b7"/>
<rect x="456" y="767.80" width="1" height="5.40" fill="#b2b2b2"/>
<rect x="457" y="767.80" width="1" height="5.40" fill="#373737"/>
<rect x="458" y="767.80" width="1" height="5.40" fill="#a8a8a8"/>
<rect x="459" y="767.80" width="1" height="5.40" fill="#212121"/>
<rect x="460" y="767.80" width="1" height="5.40" fill="#818181"/>
<rect x="461" y="767.80" width="1" height="5.40" fill="#bfbfbf"/>
<rect x="462" y="767.80" width="1" height="5.40" fill="#404040"/>
<rect x="463" y="767.80" width="1" height="5.40" fill="#898989"/>
<rect x="464" y="767.80" width="1" height="5.40" fill="#c1c1c1"/>
<rect x="465" y="767.80" width="1" height="5.40" fill="#7f7f7f"/>
<rect x="466" y="767.80" width="1" height="5.40" fill="#c1c1c1"/>
<rect x="467" y="767.80" width="1" height="5.40" fill="#191919"/>
<rect x="468" y="767.80" width="1" height="5.40" fill="#4c4c4c"/>
<rect x="469" y="767.80" width="1" height="5.40" fill="#a9a9a9"/>
<rect x="470" y="767.80" width="1" height="5.40" fill="#9b9b9b"/>
<rect x="471" y="767.80" width="1" height="5.40" fill="#8c8c8c"/>
<rect x="472" y="767.80" width="1" height="5.40" fill="#8f8f8f"/>
<rect x="473" y="767.80" width="1" height="5.40" fill="#818181"/>
<rect x="474" y="767.80" width="1" height="5.40" fill="#a4a4a4"/>
<rect x="475" y="767.80" width="1" height="5.40" fill="#a4a4a4"/>
<rect x="476" y="767.80" width="1" height="5.40" fill="#b5b5b5"/>
<rect x="477" y="767.80" width="1" height="5.40" fill="#8f8f8f"/>
<rect x="478" y="767.80" width="1" height="5.40" fill="#c1c1c1"/>
<rect x="479" y="767.80" width="1" height="5.40" fill="#878787"/>
<rect x="480" y="767.80" width="1" height="5.40" fill="#cecece"/>
<rect x="481" y="767.80" width="1" height="5.40" fill="#c6c6c6"/>
<rect x="482" y="767.80" width="1" height="5.40" fill="#d7d7d7"/>
<rect x="483" y="767.80" width="1" height="5.40" fill="#7c7c7c"/>
<rect x="484" y="767.80" width="1" height="5.40" fill="#dadada"/>
<rect x="485" y="767.80" width="1" height="5.40" fill="#a7a7a7"/>
<rect x="486" y="767.80" width="1" height="5.40" fill="#a6a6a6"/>
<rect x="487" y="767.80" width="1" height="5.40" fill="#d1d1d1"/>
<rect x="488" y="767.80" width="1" height="5.40" fill="#b8b8b8"/>
<rect x="489" y="767.80" width="1" height="5.40" fill="#9e9e9e"/>
<rect x="490" y="767.80" width="1" height="5.40" fill="#868686"/>
<rect x="491" y="767.80" width="1" height="5.40" fill="#838383"/>
<rect x="492" y="767.80" width="1" height="5.40" fill="#a6a6a6"/>
<rect x="493" y="767.80" width="1" height="5.40" fill="#d5d5d5"/>
<rect x="494" y="767.80" width="1" height="5.40" fill="#808080"/>
<rect x="495" y="767.80" width="1" height="5.40" fill="#a4a4a4"/>
<rect x="496" y="767.80" width="1" height="5.40" fill="#8d8d8d"/>
<rect x="497" y="767.80" width="1" height="5.40" fill="#d3d3d3"/>
<rect x="498" y="767.80" width="1" height="5.40" fill="#d7d7d7"/>
<rect x="499" y="767.80" width="1" height="5.40" fill="#747474"/>
<rect x="500" y="767.80" width="1" height="5.40" fill="#dfdfdf"/>
<rect x="501" y="767.80" width="1" height="5.40" fill="#dbdbdb"/>
<rect x="502" y="767.80" width="1" height="5.40" fill="#dedede"/>
<rect x="503" y="767.80" width="1" height="5.40" fill="#cbcbcb"/>
<rect x="504" y="767.80" width="1" height="5.40" fill="#e0e0e0"/>
<rect x="505" y="767.80" width="1" height="5.40" fill="#e1e1e1"/>
<rect x="506" y="767.80" width="1" height="5.40" fill="#e4e4e4"/>
<rect x="507" y="767.80" width="1" height="5.40" fill="#dadada"/>
<rect x="508" y="767.80" width="1" height="5.40" fill="#c3c3c3"/>
<rect x="509" y="767.80" width="1" height="5.40" fill="#dddddd"/>
<rect x="510" y="767.80" width="1" height="5.40" fill="#ececec"/>
<rect x="511" y="767.80" width="1" height="5.40" fill="#d9d9d9"/>
<rect x="512" y="767.80" width="1" height="5.40" fill="#dddddd"/>
<rect x="513" y="767.80" width="1" height="5.40" fill="#dfdfdf"/>
<rect x="514" y="767.80" width="1" height="5.40" fill="#dcdcdc"/>
<line x1="80.00" y1="758.00" x2="80.00" y2="765.40" class="rd"/>
<line x1="95.00" y1="758.00" x2="95.00" y2="765.40" class="rd"/>
<line x1="120.40" y1="758.00" x2="120.40" y2="765.40" class="rd"/>
<line x1="135.80" y1="758.00" x2="135.80" y2="765.40" class="rd"/>
<line x1="140.70" y1="758.00" x2="140.70" y2="765.40" class="rd"/>
<line x1="155.80" y1="758.00" x2="155.80" y2="765.40" class="rd"/>
<line x1="161.20" y1="758.00" x2="161.20" y2="765.40" class="rd"/>
<line x1="181.20" y1="758.00" x2="181.20" y2="765.40" class="rd"/>
<line x1="206.50" y1="758.00" x2="206.50" y2="765.40" class="rd"/>
<line x1="221.50" y1="758.00" x2="221.50" y2="765.40" class="rd"/>
<line x1="231.90" y1="758.00" x2="231.90" y2="765.40" class="rd"/>
<line x1="242.00" y1="758.00" x2="242.00" y2="765.40" class="rd"/>
<line x1="246.90" y1="758.00" x2="246.90" y2="765.40" class="rd"/>
<line x1="257.40" y1="758.00" x2="257.40" y2="765.40" class="rd"/>
<line x1="302.60" y1="758.00" x2="302.60" y2="765.40" class="rd"/>
<line x1="307.70" y1="758.00" x2="307.70" y2="765.40" class="rd"/>
<line x1="383.40" y1="758.00" x2="383.40" y2="765.40" class="rd"/>
<line x1="413.80" y1="758.00" x2="413.80" y2="765.40" class="rd"/>
<line x1="428.90" y1="758.00" x2="428.90" y2="765.40" class="rd"/>
<line x1="459.50" y1="758.00" x2="459.50" y2="765.40" class="rd"/>
<line x1="470.00" y1="758.00" x2="470.00" y2="765.40" class="rd"/>
<line x1="80" y1="735.50" x2="514.5" y2="735.50" class="ds"/>
<path d="M145.90,578.22 L146.10,579.24 L146.30,580.25 L146.50,581.24 L146.70,582.23 L146.90,583.20 L147.10,584.16 L147.30,585.11 L147.50,586.05 L147.70,586.97 L147.90,587.89 L148.10,588.79 L148.30,589.69 L148.50,590.57 L148.70,591.44 L148.90,592.31 L149.10,593.16 L149.30,594.01 L149.50,594.84 L149.70,595.67 L149.90,596.48 L150.10,597.29 L150.30,598.09 L150.50,598.88 L150.70,599.66 L150.95,600.63 L151.20,601.58 L151.45,602.52 L151.70,603.45 L151.95,604.37 L152.20,605.28 L152.45,606.17 L152.70,607.06 L152.95,607.93 L153.20,608.79 L153.45,609.64 L153.70,610.49 L153.95,611.32 L154.20,612.14 L154.45,612.96 L154.70,613.76 L154.95,614.56 L155.20,615.34 L155.45,616.12 L155.70,616.89 L155.95,617.65 L156.25,618.56 L156.55,619.45 L156.85,620.34 L157.15,621.21 L157.45,622.07 L157.75,622.93 L158.05,623.77 L158.35,624.60 L158.65,625.43 L158.95,626.25 L159.25,627.06 L159.55,627.86 L159.85,628.65 L160.15,629.44 L160.45,630.22 L160.75,630.99 L161.05,631.76 L161.35,632.52 L161.65,633.27 L161.95,634.02 L162.25,634.76 L162.60,635.62 L162.95,636.47 L163.30,637.31 L163.65,638.15 L164.00,638.98 L164.35,639.81 L164.70,640.63 L165.05,641.45 L165.40,642.26 L165.75,643.06 L166.10,643.86 L166.45,644.66 L166.80,645.45 L167.15,646.24 L167.50,647.03 L167.85,647.81 L168.20,648.59 L168.55,649.37 L168.90,650.14 L169.25,650.92 L169.60,651.69 L169.95,652.46 L170.30,653.22 L170.65,653.98 L171.00,654.74 L171.35,655.50 L171.70,656.26 L172.05,657.01 L172.40,657.76 L172.75,658.50 L173.10,659.25 L173.45,659.98 L173.80,660.72 L174.15,661.45 L174.50,662.18 L174.85,662.91 L175.20,663.63 L175.55,664.35 L175.95,665.17 L176.35,665.99 L176.75,666.79 L177.15,667.60 L177.55,668.40 L177.95,669.19 L178.35,669.98 L178.75,670.76 L179.15,671.54 L179.55,672.32 L179.95,673.08 L180.35,673.85 L180.75,674.60 L181.15,675.36 L181.55,676.10 L181.95,676.84 L182.35,677.58 L182.75,678.31 L183.15,679.03 L183.55,679.75 L183.95,680.47 L184.35,681.17 L184.75,681.88 L185.15,682.57 L185.60,683.35 L186.05,684.12 L186.50,684.88 L186.95,685.64 L187.40,686.38 L187.85,687.12 L188.30,687.86 L188.75,688.58 L189.20,689.30 L189.65,690.01 L190.10,690.71 L190.55,691.41 L191.00,692.10 L191.45,692.78 L191.90,693.45 L192.35,694.12 L192.85,694.85 L193.35,695.57 L193.85,696.29 L194.35,696.99 L194.85,697.69 L195.35,698.38 L195.85,699.06 L196.35,699.73 L196.85,700.39 L197.35,701.04 L197.85,701.68 L198.35,702.32 L198.85,702.94 L199.40,703.62 L199.95,704.29 L200.50,704.95 L201.05,705.60 L201.60,706.24 L202.15,706.87 L202.70,707.49 L203.25,708.10 L203.80,708.70 L204.35,709.29 L204.95,709.92 L205.55,710.54 L206.15,711.15 L206.75,711.75 L207.35,712.34 L207.95,712.92 L208.55,713.48 L209.15,714.04 L209.75,714.59 L210.35,715.12 L211.00,715.69 L211.65,716.25 L212.30,716.79 L212.95,717.33 L213.60,717.85 L214.25,718.36 L214.90,718.86 L215.55,719.35 L216.20,719.83 L216.85,720.30 L217.55,720.79 L218.25,721.27 L218.95,721.74 L219.65,722.20 L220.35,722.65 L221.05,723.09 L221.75,723.52 L222.45,723.94 L223.15,724.35 L223.85,724.75 L224.55,725.14 L225.30,725.55 L226.05,725.95 L226.80,726.33 L227.55,726.71 L228.30,727.08 L229.05,727.44 L229.80,727.80 L230.55,728.14 L231.30,728.48 L232.05,728.80 L232.80,729.12 L233.55,729.44 L234.30,729.74 L235.05,730.04 L235.80,730.33 L236.55,730.61 L237.35,730.91 L238.15,731.19 L238.95,731.47 L239.75,731.74 L240.55,732.01 L241.35,732.27 L242.15,732.52 L242.95,732.77 L243.75,733.00 L244.55,733.24 L245.35,733.46 L246.15,733.68 L246.95,733.90 L247.75,734.11 L248.55,734.31 L249.35,734.51 L250.15,734.71 L250.95,734.89 L251.75,735.08 L252.55,735.26 L253.35,735.43 L254.15,735.60 L254.95,735.76 L255.75,735.92 L256.55,736.08 L257.35,736.23 L258.15,736.38 L258.95,736.52 L259.75,736.66 L260.55,736.79 L261.35,736.92 L262.15,737.05 L262.95,737.17 L263.75,737.29 L264.55,737.41 L265.35,737.52 L266.15,737.63 L266.95,737.73 L267.75,737.84 L268.55,737.93 L269.35,738.03 L270.15,738.12 L270.95,738.21 L271.75,738.30 L272.55,738.38 L273.35,738.46 L274.15,738.54 L274.95,738.61 L275.75,738.68 L276.55,738.75 L277.35,738.82 L278.15,738.88 L278.95,738.94 L279.75,738.99 L280.55,739.05 L281.35,739.10 L282.15,739.15 L282.95,739.20 L283.75,739.24 L284.55,739.28 L285.35,739.32 L286.15,739.36 L286.95,739.39 L287.75,739.42 L288.55,739.45 L289.35,739.48 L290.15,739.50 L290.95,739.52 L291.75,739.54 L292.55,739.56 L293.35,739.57 L294.15,739.58 L294.95,739.59 L295.75,739.60 L296.55,739.60 L297.35,739.61 L298.15,739.61 L298.95,739.60 L299.75,739.60 L300.55,739.59 L301.35,739.58 L302.15,739.57 L302.95,739.56 L303.75,739.54 L304.55,739.52 L305.35,739.50 L306.15,739.48 L306.95,739.45 L307.75,739.42 L308.55,739.39 L309.35,739.36 L310.15,739.32 L310.95,739.28 L311.75,739.24 L312.55,739.20 L313.35,739.15 L314.15,739.10 L314.95,739.05 L315.75,739.00 L316.55,738.94 L317.35,738.88 L318.15,738.82 L318.95,738.76 L319.75,738.69 L320.55,738.62 L321.35,738.54 L322.15,738.47 L322.95,738.39 L323.75,738.31 L324.55,738.22 L325.35,738.13 L326.15,738.04 L326.95,737.95 L327.75,737.85 L328.55,737.75 L329.35,737.64 L330.15,737.53 L330.95,737.42 L331.75,737.31 L332.55,737.19 L333.35,737.07 L334.15,736.94 L334.95,736.81 L335.75,736.68 L336.55,736.54 L337.35,736.40 L338.15,736.25 L338.95,736.10 L339.75,735.95 L340.55,735.79 L341.35,735.63 L342.15,735.46 L342.95,735.29 L343.75,735.11 L344.55,734.93 L345.35,734.74 L346.15,734.55 L346.95,734.35 L347.75,734.15 L348.55,733.94 L349.35,733.73 L350.15,733.51 L350.95,733.28 L351.75,733.05 L352.55,732.82 L353.35,732.57 L354.15,732.32 L354.95,732.07 L355.75,731.80 L356.55,731.53 L357.35,731.26 L358.15,730.97 L358.95,730.68 L359.70,730.40 L360.45,730.11 L361.20,729.82 L361.95,729.52 L362.70,729.21 L363.45,728.89 L364.20,728.57 L364.95,728.23 L365.70,727.89 L366.45,727.54 L367.20,727.19 L367.95,726.82 L368.70,726.45 L369.45,726.06 L370.20,725.67 L370.95,725.26 L371.70,724.85 L372.40,724.45 L373.10,724.05 L373.80,723.63 L374.50,723.21 L375.20,722.78 L375.90,722.34 L376.60,721.88 L377.30,721.42 L378.00,720.95 L378.70,720.47 L379.40,719.98 L380.10,719.48 L380.75,719.00 L381.40,718.52 L382.05,718.02 L382.70,717.52 L383.35,717.01 L384.00,716.49 L384.65,715.95 L385.30,715.41 L385.95,714.86 L386.60,714.30 L387.25,713.73 L387.85,713.19 L388.45,712.65 L389.05,712.09 L389.65,711.53 L390.25,710.95 L390.85,710.37 L391.45,709.78 L392.05,709.18 L392.65,708.57 L393.25,707.95 L393.85,707.32 L394.40,706.74 L394.95,706.15 L395.50,705.55 L396.05,704.94 L396.60,704.32 L397.15,703.69 L397.70,703.06 L398.25,702.42 L398.80,701.77 L399.35,701.11 L399.90,700.44 L400.45,699.76 L401.00,699.08 L401.50,698.44 L402.00,697.81 L402.50,697.16 L403.00,696.51 L403.50,695.85 L404.00,695.18 L404.50,694.51 L405.00,693.83 L405.50,693.14 L406.00,692.44 L406.50,691.74 L407.00,691.03 L407.50,690.31 L408.00,689.59 L408.50,688.86 L408.95,688.19 L409.40,687.52 L409.85,686.84 L410.30,686.16 L410.75,685.46 L411.20,684.77 L411.65,684.06 L412.10,683.35 L412.55,682.63 L413.00,681.90 L413.45,681.16 L413.90,680.42 L414.35,679.67 L414.80,678.91 L415.25,678.14 L415.70,677.36 L416.10,676.66 L416.50,675.95 L416.90,675.23 L417.30,674.51 L417.70,673.78 L418.10,673.03 L418.50,672.29 L418.90,671.53 L419.30,670.76 L419.70,669.98 L420.10,669.20 L420.50,668.40 L420.90,667.60 L421.30,666.78 L421.65,666.06 L422.00,665.33 L422.35,664.59 L422.70,663.84 L423.05,663.08 L423.40,662.32 L423.75,661.54 L424.10,660.76 L424.45,659.97 L424.80,659.16 L425.15,658.35 L425.50,657.53 L425.85,656.69 L426.20,655.85 L426.55,654.99 L426.85,654.25 L427.15,653.50 L427.45,652.74 L427.75,651.97 L428.05,651.20 L428.35,650.41 L428.65,649.62 L428.95,648.81 L429.25,648.00 L429.55,647.18 L429.85,646.34 L430.15,645.50 L430.45,644.65 L430.75,643.78 L431.05,642.91 L431.35,642.02 L431.65,641.12 L431.95,640.22 L432.20,639.45 L432.45,638.68 L432.70,637.90 L432.95,637.11 L433.20,636.31 L433.45,635.50 L433.70,634.69 L433.95,633.86 L434.20,633.03 L434.45,632.18 L434.70,631.33 L434.95,630.47 L435.20,629.60 L435.45,628.72 L435.70,627.82 L435.95,626.92 L436.20,626.01 L436.45,625.09 L436.70,624.15 L436.95,623.21 L437.20,622.25 L437.45,621.29 L437.65,620.51 L437.85,619.72 L438.05,618.92 L438.25,618.12 L438.45,617.31 L438.65,616.49 L438.85,615.66 L439.05,614.83 L439.25,613.98 L439.45,613.13 L439.65,612.27 L439.85,611.41 L440.05,610.53 L440.25,609.64 L440.45,608.75 L440.65,607.85 L440.85,606.94 L441.05,606.01 L441.25,605.08 L441.45,604.14 L441.65,603.20 L441.85,602.24 L442.05,601.27 L442.25,600.29 L442.45,599.30 L442.65,598.30 L442.85,597.30 L443.05,596.28 L443.25,595.25 L443.45,594.21 L443.60,593.42 L443.75,592.62 L443.90,591.82 L443.95,591.56" class="cu"/>
<path d="M100.25,644.45 L100.60,645.22 L100.95,645.99 L101.30,646.75 L101.65,647.50 L102.00,648.26 L102.35,649.00 L102.70,649.75 L103.05,650.49 L103.40,651.22 L103.75,651.95 L104.10,652.68 L104.45,653.40 L104.85,654.22 L105.25,655.03 L105.65,655.84 L106.05,656.65 L106.45,657.44 L106.85,658.24 L107.25,659.02 L107.65,659.80 L108.05,660.58 L108.45,661.35 L108.85,662.11 L109.25,662.87 L109.65,663.63 L110.05,664.37 L110.45,665.12 L110.85,665.86 L111.25,666.59 L111.65,667.31 L112.05,668.04 L112.45,668.75 L112.85,669.46 L113.25,670.17 L113.65,670.87 L114.05,671.56 L114.50,672.34 L114.95,673.11 L115.40,673.87 L115.85,674.63 L116.30,675.38 L116.75,676.12 L117.20,676.86 L117.65,677.59 L118.10,678.31 L118.55,679.03 L119.00,679.74 L119.45,680.45 L119.90,681.15 L120.35,681.84 L120.80,682.52 L121.25,683.21 L121.70,683.88 L122.15,684.55 L122.60,685.21 L123.10,685.94 L123.60,686.66 L124.10,687.37 L124.60,688.08 L125.10,688.78 L125.60,689.47 L126.10,690.16 L126.60,690.84 L127.10,691.51 L127.60,692.17 L128.10,692.83 L128.60,693.48 L129.10,694.13 L129.60,694.76 L130.10,695.39 L130.65,696.08 L131.20,696.76 L131.75,697.43 L132.30,698.09 L132.85,698.75 L133.40,699.39 L133.95,700.03 L134.50,700.66 L135.05,701.29 L135.60,701.90 L136.15,702.51 L136.70,703.12 L137.25,703.71 L137.80,704.30 L138.40,704.93 L139.00,705.56 L139.60,706.17 L140.20,706.78 L140.80,707.38 L141.40,707.97 L142.00,708.56 L142.60,709.13 L143.20,709.70 L143.80,710.26 L144.40,710.81 L145.00,711.36 L145.60,711.90 L146.20,712.43 L146.85,713.00 L147.50,713.56 L148.15,714.11 L148.80,714.65 L149.45,715.18 L150.10,715.71 L150.75,716.23 L151.40,716.74 L152.05,717.24 L152.70,717.74 L153.35,718.22 L154.00,718.70 L154.65,719.18 L155.35,719.68 L156.05,720.17 L156.75,720.66 L157.45,721.13 L158.15,721.60 L158.85,722.07 L159.55,722.52 L160.25,722.97 L160.95,723.40 L161.65,723.84 L162.35,724.26 L163.05,724.68 L163.75,725.09 L164.45,725.49 L165.15,725.89 L165.85,726.28 L166.60,726.69 L167.35,727.09 L168.10,727.49 L168.85,727.88 L169.60,728.26 L170.35,728.63 L171.10,729.00 L171.85,729.36 L172.60,729.71 L173.35,730.06 L174.10,730.40 L174.85,730.74 L175.60,731.07 L176.35,731.39 L177.10,731.71 L177.85,732.02 L178.60,732.32 L179.35,732.62 L180.10,732.92 L180.85,733.20 L181.60,733.49 L182.40,733.78 L183.20,734.07 L184.00,734.36 L184.80,734.64 L185.60,734.91 L186.40,735.17 L187.20,735.44 L188.00,735.69 L188.80,735.94 L189.60,736.19 L190.40,736.43 L191.20,736.67 L192.00,736.90 L192.80,737.12 L193.60,737.35 L194.40,737.56 L195.20,737.77 L196.00,737.98 L196.80,738.19 L197.60,738.38 L198.40,738.58 L199.20,738.77 L200.00,738.96 L200.80,739.14 L201.60,739.32 L202.40,739.49 L203.20,739.66 L204.00,739.83 L204.80,740.00 L205.60,740.16 L206.40,740.31 L207.20,740.47 L208.00,740.62 L208.80,740.77 L209.60,740.91 L210.40,741.05 L211.20,741.19 L212.00,741.32 L212.80,741.46 L213.60,741.59 L214.40,741.71 L215.20,741.84 L216.00,741.96 L216.80,742.08 L217.60,742.20 L218.40,742.31 L219.20,742.42 L220.00,742.53 L220.80,742.64 L221.60,742.74 L222.40,742.85 L223.20,742.95 L224.00,743.05 L224.80,743.14 L225.60,743.24 L226.40,743.33 L227.20,743.42 L228.00,743.51 L228.80,743.60 L229.60,743.69 L230.40,743.77 L231.20,743.85 L232.00,743.93 L232.80,744.01 L233.60,744.09 L234.40,744.16 L235.20,744.24 L236.00,744.31 L236.80,744.38 L237.60,744.45 L238.40,744.52 L239.20,744.59 L240.00,744.65 L240.80,744.72 L241.60,744.78 L242.40,744.84 L243.20,744.90 L244.00,744.96 L244.80,745.02 L245.60,745.07 L246.40,745.13 L247.20,745.18 L248.00,745.23 L248.80,745.29 L249.60,745.34 L250.40,745.39 L251.20,745.43 L252.00,745.48 L252.80,745.53 L253.60,745.57 L254.40,745.62 L255.20,745.66 L256.00,745.70 L256.80,745.75 L257.60,745.79 L258.40,745.83 L259.20,745.86 L260.00,745.90 L260.80,745.94 L261.60,745.98 L262.40,746.01 L263.20,746.04 L264.00,746.08 L264.80,746.11 L265.60,746.14 L266.40,746.17 L267.20,746.20 L268.00,746.23 L268.80,746.26 L269.60,746.29 L270.40,746.32 L271.20,746.35 L272.00,746.37 L272.80,746.40 L273.60,746.42 L274.40,746.45 L275.20,746.47 L276.00,746.49 L276.80,746.51 L277.60,746.54 L278.40,746.56 L279.20,746.58 L280.00,746.60 L280.80,746.61 L281.60,746.63 L282.40,746.65 L283.20,746.67 L284.00,746.68 L284.80,746.70 L285.60,746.71 L286.40,746.73 L287.20,746.74 L288.00,746.76 L288.80,746.77 L289.60,746.78 L290.40,746.80 L291.20,746.81 L292.00,746.82 L292.80,746.83 L293.60,746.84 L294.40,746.85 L295.20,746.86 L296.00,746.87 L296.80,746.87 L297.60,746.88 L298.40,746.89 L299.20,746.89 L300.00,746.90 L300.80,746.91 L301.60,746.91 L302.40,746.91 L303.20,746.92 L304.00,746.92 L304.80,746.92 L305.60,746.93 L306.40,746.93 L307.20,746.93 L308.00,746.93 L308.80,746.93 L309.60,746.93 L310.40,746.93 L311.20,746.93 L312.00,746.92 L312.80,746.92 L313.60,746.92 L314.40,746.91 L315.20,746.91 L316.00,746.91 L316.80,746.90 L317.60,746.89 L318.40,746.89 L319.20,746.88 L320.00,746.87 L320.80,746.87 L321.60,746.86 L322.40,746.85 L323.20,746.84 L324.00,746.83 L324.80,746.82 L325.60,746.80 L326.40,746.79 L327.20,746.78 L328.00,746.77 L328.80,746.75 L329.60,746.74 L330.40,746.72 L331.20,746.71 L332.00,746.69 L332.80,746.67 L333.60,746.66 L334.40,746.64 L335.20,746.62 L336.00,746.60 L336.80,746.58 L337.60,746.56 L338.40,746.54 L339.20,746.52 L340.00,746.49 L340.80,746.47 L341.60,746.45 L342.40,746.42 L343.20,746.40 L344.00,746.37 L344.80,746.34 L345.60,746.32 L346.40,746.29 L347.20,746.26 L348.00,746.23 L348.80,746.20 L349.60,746.17 L350.40,746.13 L351.20,746.10 L352.00,746.07 L352.80,746.03 L353.60,746.00 L354.40,745.96 L355.20,745.93 L356.00,745.89 L356.80,745.85 L357.60,745.81 L358.40,745.77 L359.20,745.73 L360.00,745.69 L360.80,745.64 L361.60,745.60 L362.40,745.56 L363.20,745.51 L364.00,745.46 L364.80,745.42 L365.60,745.37 L366.40,745.32 L367.20,745.27 L368.00,745.21 L368.80,745.16 L369.60,745.11 L370.40,745.05 L371.20,745.00 L372.00,744.94 L372.80,744.88 L373.60,744.82 L374.40,744.76 L375.20,744.70 L376.00,744.64 L376.80,744.57 L377.60,744.51 L378.40,744.44 L379.20,744.37 L380.00,744.30 L380.80,744.23 L381.60,744.16 L382.40,744.09 L383.20,744.01 L384.00,743.94 L384.80,743.86 L385.60,743.78 L386.40,743.70 L387.20,743.62 L388.00,743.54 L388.80,743.45 L389.60,743.37 L390.40,743.28 L391.20,743.19 L392.00,743.10 L392.80,743.01 L393.60,742.92 L394.40,742.83 L395.20,742.73 L396.00,742.64 L396.80,742.54 L397.60,742.44 L398.40,742.34 L399.20,742.24 L400.00,742.14 L400.80,742.03 L401.60,741.92 L402.40,741.82 L403.20,741.71 L404.00,741.60 L404.80,741.49 L405.60,741.37 L406.40,741.26 L407.20,741.14 L408.00,741.03 L408.80,740.91 L409.60,740.79 L410.40,740.67 L411.20,740.54 L412.00,740.42 L412.80,740.29 L413.60,740.17 L414.40,740.04 L415.20,739.91 L416.00,739.78 L416.80,739.65 L417.60,739.51 L418.40,739.38 L419.20,739.24 L420.00,739.10 L420.80,738.96 L421.60,738.82 L422.40,738.68 L423.20,738.54 L424.00,738.40 L424.80,738.25 L425.60,738.10 L426.40,737.96 L427.20,737.81 L428.00,737.66 L428.80,737.51 L429.60,737.35 L430.40,737.20 L431.20,737.04 L432.00,736.89 L432.80,736.73 L433.60,736.57 L434.40,736.41 L435.20,736.25 L436.00,736.09 L436.80,735.93 L437.60,735.77 L438.40,735.60 L439.20,735.44 L440.00,735.27 L440.80,735.11 L441.60,734.94 L442.40,734.77 L443.20,734.61 L444.00,734.44 L444.80,734.27 L445.60,734.10 L446.40,733.93 L447.20,733.75 L448.00,733.58 L448.80,733.41 L449.60,733.24 L450.40,733.07 L451.20,732.89 L452.00,732.72 L452.80,732.55 L453.60,732.37 L454.40,732.20 L455.20,732.03 L456.00,731.85 L456.80,731.68 L457.60,731.51 L458.40,731.33 L459.20,731.16 L460.00,730.99 L460.80,730.82 L461.60,730.65 L462.40,730.47 L463.20,730.30 L464.00,730.13 L464.80,729.97 L465.60,729.80 L466.40,729.63 L467.20,729.47 L468.00,729.30 L468.80,729.14 L469.60,728.97 L470.40,728.81 L471.20,728.65 L472.00,728.49 L472.80,728.34 L473.60,728.18 L474.40,728.03 L475.20,727.87 L476.00,727.72 L476.80,727.57 L477.60,727.43 L478.40,727.28 L479.20,727.14 L480.00,727.00 L480.80,726.86 L481.60,726.73 L482.40,726.59 L483.20,726.46 L484.00,726.34 L484.80,726.21 L485.60,726.09 L486.40,725.97 L487.20,725.85 L488.00,725.74 L488.80,725.63 L489.60,725.52 L490.40,725.42 L491.20,725.32 L492.00,725.22 L492.80,725.13 L493.60,725.04 L494.40,724.95 L495.00,724.89" class="cu"/>
<path d="M115.35,578.76 L115.55,579.61 L115.75,580.45 L115.95,581.29 L116.15,582.13 L116.35,582.97 L116.55,583.80 L116.75,584.62 L116.95,585.44 L117.15,586.26 L117.35,587.07 L117.55,587.88 L117.75,588.69 L117.95,589.49 L118.15,590.28 L118.35,591.08 L118.55,591.87 L118.75,592.65 L118.95,593.43 L119.15,594.21 L119.40,595.17 L119.65,596.13 L119.90,597.09 L120.15,598.04 L120.40,598.98 L120.65,599.91 L120.90,600.84 L121.15,601.77 L121.40,602.68 L121.65,603.60 L121.90,604.50 L122.15,605.40 L122.40,606.30 L122.65,607.19 L122.90,608.07 L123.15,608.95 L123.40,609.82 L123.65,610.69 L123.90,611.55 L124.15,612.41 L124.40,613.26 L124.65,614.11 L124.90,614.95 L125.15,615.78 L125.40,616.61 L125.65,617.44 L125.90,618.26 L126.15,619.07 L126.40,619.88 L126.65,620.68 L126.90,621.48 L127.15,622.27 L127.40,623.06 L127.65,623.85 L127.90,624.62 L128.15,625.40 L128.40,626.17 L128.65,626.93 L128.95,627.84 L129.25,628.74 L129.55,629.64 L129.85,630.53 L130.15,631.41 L130.45,632.29 L130.75,633.16 L131.05,634.02 L131.35,634.87 L131.65,635.72 L131.95,636.57 L132.25,637.40 L132.55,638.23 L132.85,639.06 L133.15,639.87 L133.45,640.68 L133.75,641.49 L134.05,642.29 L134.35,643.08 L134.65,643.87 L134.95,644.65 L135.25,645.42 L135.55,646.19 L135.85,646.95 L136.15,647.71 L136.45,648.46 L136.75,649.21 L137.10,650.07 L137.45,650.92 L137.80,651.77 L138.15,652.61 L138.50,653.44 L138.85,654.26 L139.20,655.08 L139.55,655.89 L139.90,656.69 L140.25,657.49 L140.60,658.27 L140.95,659.06 L141.30,659.83 L141.65,660.60 L142.00,661.36 L142.35,662.11 L142.70,662.86 L143.05,663.60 L143.40,664.33 L143.75,665.05 L144.10,665.77 L144.50,666.59 L144.90,667.40 L145.30,668.19 L145.70,668.98 L146.10,669.76 L146.50,670.54 L146.90,671.30 L147.30,672.06 L147.70,672.81 L148.10,673.55 L148.50,674.29 L148.90,675.02 L149.30,675.74 L149.70,676.45 L150.10,677.15 L150.50,677.85 L150.95,678.63 L151.40,679.39 L151.85,680.15 L152.30,680.90 L152.75,681.64 L153.20,682.38 L153.65,683.10 L154.10,683.82 L154.55,684.52 L155.00,685.22 L155.45,685.91 L155.90,686.60 L156.35,687.27 L156.80,687.94 L157.30,688.67 L157.80,689.39 L158.30,690.11 L158.80,690.81 L159.30,691.51 L159.80,692.19 L160.30,692.87 L160.80,693.54 L161.30,694.20 L161.80,694.85 L162.30,695.49 L162.80,696.13 L163.30,696.76 L163.85,697.44 L164.40,698.11 L164.95,698.77 L165.50,699.42 L166.05,700.06 L166.60,700.70 L167.15,701.32 L167.70,701.94 L168.25,702.54 L168.80,703.14 L169.35,703.73 L169.90,704.31 L170.50,704.94 L171.10,705.56 L171.70,706.16 L172.30,706.76 L172.90,707.35 L173.50,707.92 L174.10,708.49 L174.70,709.06 L175.30,709.61 L175.90,710.15 L176.50,710.69 L177.15,711.26 L177.80,711.82 L178.45,712.37 L179.10,712.91 L179.75,713.45 L180.40,713.97 L181.05,714.49 L181.70,715.00 L182.35,715.50 L183.00,715.99 L183.65,716.47 L184.30,716.94 L184.95,717.41 L185.65,717.91 L186.35,718.39 L187.05,718.87 L187.75,719.34 L188.45,719.80 L189.15,720.25 L189.85,720.69 L190.55,721.13 L191.25,721.55 L191.95,721.97 L192.65,722.39 L193.35,722.79 L194.05,723.19 L194.75,723.58 L195.50,724.00 L196.25,724.40 L197.00,724.80 L197.75,725.19 L198.50,725.57 L199.25,725.94 L200.00,726.31 L200.75,726.67 L201.50,727.03 L202.25,727.37 L203.00,727.72 L203.75,728.05 L204.50,728.38 L205.25,728.70 L206.00,729.02 L206.75,729.33 L207.50,729.63 L208.25,729.93 L209.00,730.23 L209.75,730.52 L210.50,730.80 L211.30,731.10 L212.10,731.39 L212.90,731.67 L213.70,731.95 L214.50,732.23 L215.30,732.49 L216.10,732.76 L216.90,733.02 L217.70,733.27 L218.50,733.52 L219.30,733.76 L220.10,734.00 L220.90,734.23 L221.70,734.46 L222.50,734.69 L223.30,734.91 L224.10,735.13 L224.90,735.34 L225.70,735.55 L226.50,735.75 L227.30,735.95 L228.10,736.15 L228.90,736.34 L229.70,736.53 L230.50,736.71 L231.30,736.89 L232.10,737.07 L232.90,737.25 L233.70,737.42 L234.50,737.59 L235.30,737.75 L236.10,737.91 L236.90,738.07 L237.70,738.22 L238.50,738.37 L239.30,738.52 L240.10,738.67 L240.90,738.81 L241.70,738.95 L242.50,739.09 L243.30,739.22 L244.10,739.35 L244.90,739.48 L245.70,739.61 L246.50,739.73 L247.30,739.85 L248.10,739.97 L248.90,740.09 L249.70,740.20 L250.50,740.31 L251.30,740.42 L252.10,740.53 L252.90,740.64 L253.70,740.74 L254.50,740.84 L255.30,740.94 L256.10,741.03 L256.90,741.13 L257.70,741.22 L258.50,741.31 L259.30,741.39 L260.10,741.48 L260.90,741.56 L261.70,741.65 L262.50,741.73 L263.30,741.80 L264.10,741.88 L264.90,741.95 L265.70,742.03 L266.50,742.10 L267.30,742.17 L268.10,742.23 L268.90,742.30 L269.70,742.36 L270.50,742.42 L271.30,742.49 L272.10,742.54 L272.90,742.60 L273.70,742.66 L274.50,742.71 L275.30,742.76 L276.10,742.81 L276.90,742.86 L277.70,742.91 L278.50,742.96 L279.30,743.00 L280.10,743.05 L280.90,743.09 L281.70,743.13 L282.50,743.17 L283.30,743.20 L284.10,743.24 L284.90,743.28 L285.70,743.31 L286.50,743.34 L287.30,743.37 L288.10,743.40 L288.90,743.43 L289.70,743.45 L290.50,743.48 L291.30,743.50 L292.10,743.52 L292.90,743.55 L293.70,743.56 L294.50,743.58 L295.30,743.60 L296.10,743.62 L296.90,743.63 L297.70,743.64 L298.50,743.65 L299.30,743.66 L300.10,743.67 L300.90,743.68 L301.70,743.69 L302.50,743.69 L303.30,743.69 L304.10,743.70 L304.90,743.70 L305.70,743.70 L306.50,743.70 L307.30,743.69 L308.10,743.69 L308.90,743.68 L309.70,743.67 L310.50,743.67 L311.30,743.66 L312.10,743.64 L312.90,743.63 L313.70,743.62 L314.50,743.60 L315.30,743.59 L316.10,743.57 L316.90,743.55 L317.70,743.53 L318.50,743.50 L319.30,743.48 L320.10,743.45 L320.90,743.43 L321.70,743.40 L322.50,743.37 L323.30,743.34 L324.10,743.30 L324.90,743.27 L325.70,743.23 L326.50,743.19 L327.30,743.15 L328.10,743.11 L328.90,743.07 L329.70,743.02 L330.50,742.98 L331.30,742.93 L332.10,742.88 L332.90,742.83 L333.70,742.78 L334.50,742.72 L335.30,742.66 L336.10,742.61 L336.90,742.55 L337.70,742.48 L338.50,742.42 L339.30,742.36 L340.10,742.29 L340.90,742.22 L341.70,742.15 L342.50,742.07 L343.30,742.00 L344.10,741.92 L344.90,741.84 L345.70,741.76 L346.50,741.68 L347.30,741.60 L348.10,741.51 L348.90,741.42 L349.70,741.33 L350.50,741.24 L351.30,741.14 L352.10,741.04 L352.90,740.94 L353.70,740.84 L354.50,740.74 L355.30,740.63 L356.10,740.52 L356.90,740.41 L357.70,740.30 L358.50,740.18 L359.30,740.06 L360.10,739.94 L360.90,739.82 L361.70,739.69 L362.50,739.56 L363.30,739.43 L364.10,739.29 L364.90,739.16 L365.70,739.02 L366.50,738.87 L367.30,738.73 L368.10,738.58 L368.90,738.43 L369.70,738.27 L370.50,738.11 L371.30,737.95 L372.10,737.79 L372.90,737.62 L373.70,737.45 L374.50,737.28 L375.30,737.10 L376.10,736.92 L376.90,736.73 L377.70,736.55 L378.50,736.35 L379.30,736.16 L380.10,735.96 L380.90,735.76 L381.70,735.55 L382.50,735.34 L383.30,735.12 L384.10,734.91 L384.90,734.68 L385.70,734.46 L386.50,734.22 L387.30,733.99 L388.10,733.75 L388.90,733.50 L389.70,733.25 L390.50,733.00 L391.30,732.74 L392.10,732.47 L392.90,732.20 L393.70,731.93 L394.50,731.65 L395.30,731.37 L396.10,731.08 L396.90,730.78 L397.65,730.50 L398.40,730.21 L399.15,729.92 L399.90,729.62 L400.65,729.32 L401.40,729.01 L402.15,728.70 L402.90,728.38 L403.65,728.06 L404.40,727.73 L405.15,727.39 L405.90,727.05 L406.65,726.70 L407.40,726.35 L408.15,725.99 L408.90,725.63 L409.65,725.25 L410.40,724.87 L411.15,724.49 L411.90,724.10 L412.65,723.70 L413.40,723.29 L414.15,722.88 L414.85,722.49 L415.55,722.09 L416.25,721.68 L416.95,721.27 L417.65,720.86 L418.35,720.43 L419.05,720.00 L419.75,719.56 L420.45,719.11 L421.15,718.66 L421.85,718.20 L422.55,717.73 L423.25,717.26 L423.95,716.77 L424.65,716.28 L425.35,715.78 L426.00,715.31 L426.65,714.84 L427.30,714.35 L427.95,713.86 L428.60,713.36 L429.25,712.85 L429.90,712.34 L430.55,711.81 L431.20,711.28 L431.85,710.75 L432.50,710.20 L433.15,709.64 L433.80,709.08 L434.45,708.51 L435.05,707.98 L435.65,707.43 L436.25,706.88 L436.85,706.33 L437.45,705.76 L438.05,705.19 L438.65,704.61 L439.25,704.02 L439.85,703.42 L440.45,702.81 L441.05,702.20 L441.65,701.58 L442.25,700.95 L442.80,700.36 L443.35,699.77 L443.90,699.17 L444.45,698.56 L445.00,697.94 L445.55,697.32 L446.10,696.69 L446.65,696.05 L447.20,695.40 L447.75,694.74 L448.30,694.08 L448.85,693.40 L449.40,692.72 L449.90,692.10 L450.40,691.46 L450.90,690.82 L451.40,690.17 L451.90,689.52 L452.40,688.85 L452.90,688.18 L453.40,687.50 L453.90,686.82 L454.40,686.12 L454.90,685.42 L455.40,684.71 L455.90,683.99 L456.40,683.27 L456.90,682.53 L457.35,681.86 L457.80,681.19 L458.25,680.51 L458.70,679.82 L459.15,679.12 L459.60,678.42 L460.05,677.71 L460.50,676.99 L460.95,676.27 L461.40,675.53 L461.85,674.79 L462.30,674.05 L462.75,673.29 L463.20,672.53 L463.65,671.76 L464.10,670.98 L464.50,670.28 L464.90,669.58 L465.30,668.87 L465.70,668.15 L466.10,667.43 L466.50,666.70 L466.90,665.96 L467.30,665.22 L467.70,664.47 L468.10,663.71 L468.50,662.95 L468.90,662.18 L469.30,661.40 L469.70,660.62 L470.10,659.82 L470.50,659.03 L470.90,658.22 L471.30,657.41 L471.70,656.59 L472.05,655.87 L472.40,655.14 L472.75,654.40 L473.10,653.66 L473.45,652.92 L473.80,652.16 L474.15,651.41 L474.50,650.64 L474.85,649.87 L475.20,649.10 L475.55,648.32 L475.90,647.53 L476.25,646.74 L476.60,645.94 L476.95,645.13 L477.30,644.32 L477.65,643.50 L478.00,642.68 L478.35,641.84 L478.70,641.01 L479.05,640.16 L479.40,639.31 L479.75,638.46 L480.10,637.59 L480.40,636.85 L480.70,636.10 L481.00,635.34 L481.30,634.58 L481.60,633.82 L481.90,633.05 L482.20,632.27 L482.50,631.49 L482.80,630.71 L483.10,629.92 L483.40,629.12 L483.70,628.32 L484.00,627.52 L484.30,626.70 L484.60,625.89 L484.90,625.07 L485.20,624.24 L485.50,623.41 L485.80,622.57 L486.10,621.73 L486.40,620.88 L486.70,620.02 L487.00,619.16 L487.30,618.30 L487.60,617.43 L487.90,616.55 L488.20,615.67 L488.50,614.78 L488.80,613.89 L489.10,612.99 L489.40,612.08 L489.70,611.17 L489.95,610.41 L490.20,609.64 L490.45,608.87 L490.70,608.09 L490.95,607.31 L491.20,606.53 L491.45,605.74 L491.70,604.95 L491.95,604.15 L492.20,603.35 L492.45,602.55 L492.70,601.74 L492.95,600.92 L493.20,600.11 L493.45,599.28 L493.70,598.46 L493.95,597.63 L494.20,596.79 L494.45,595.95 L494.70,595.11 L494.95,594.26 L495.00,594.09" class="ck"/>
</svg>
</body></html>
